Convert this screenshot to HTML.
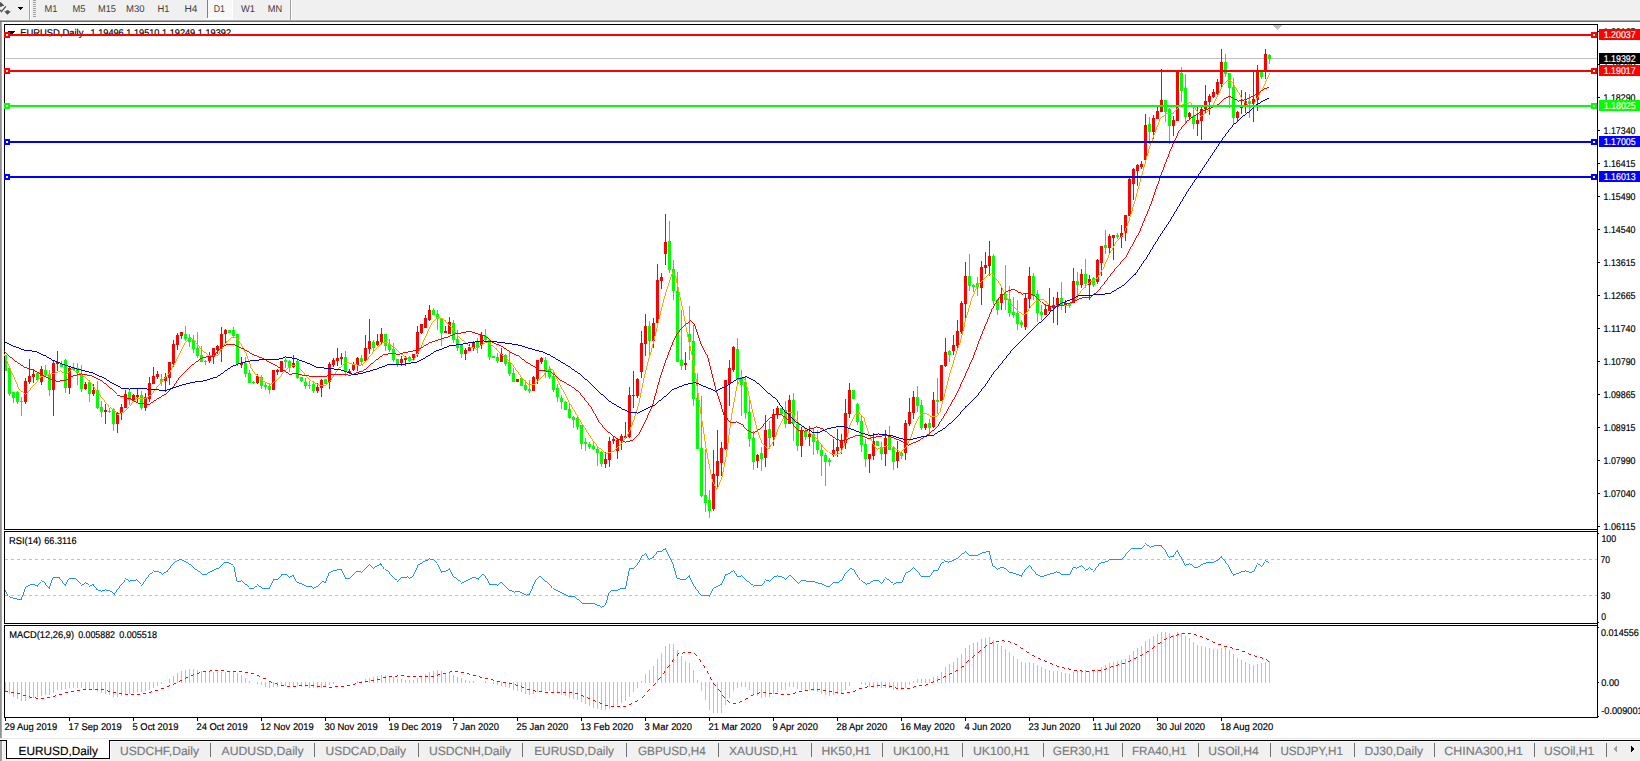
<!DOCTYPE html>
<html><head><meta charset="utf-8"><title>EURUSD,Daily</title>
<style>html,body{margin:0;padding:0;background:#fff;overflow:hidden}svg{display:block}text{font-family:"Liberation Sans",sans-serif}</style></head>
<body>
<svg width="1640" height="761" viewBox="0 0 1640 761" font-family="Liberation Sans, sans-serif" shape-rendering="crispEdges" text-rendering="geometricPrecision">
<rect x="0" y="0" width="1640" height="761" fill="#ffffff" />
<rect x="0" y="0" width="1640" height="19" fill="#f0f0f0" />
<rect x="0" y="19" width="1640" height="1" fill="#f5f5f5" />
<rect x="0" y="20" width="1640" height="1" fill="#a8a8a8" />
<rect x="0" y="21" width="1640" height="1" fill="#707070" />
<path d="M0 2.2 L0.95 2.2 L3.9 5.3 L3.9 5.9 L1.9 5.9 L1.9 6.8 L0 6.8 Z M6.3 10.25 H8.8 V11.2 H10.9 L7.5 14.8 L4.1 11.2 H6.3 Z" fill="#505050" shape-rendering="geometricPrecision"/>
<path d="M0 9.8 L1.4 11.7 L5.8 6.3" fill="none" stroke="#505050" stroke-width="1.25" shape-rendering="geometricPrecision"/>
<rect x="18" y="7" width="5" height="1" fill="#000" />
<rect x="19" y="8" width="3" height="1" fill="#000" />
<rect x="20" y="9" width="1" height="1" fill="#000" />
<rect x="29" y="0" width="1" height="20" fill="#a0a0a0" />
<rect x="30" y="0" width="1" height="20" fill="#ffffff" />
<rect x="33" y="0" width="3" height="1" fill="#a0a0a0" />
<rect x="33" y="2" width="3" height="1" fill="#a0a0a0" />
<rect x="33" y="4" width="3" height="1" fill="#a0a0a0" />
<rect x="33" y="6" width="3" height="1" fill="#a0a0a0" />
<rect x="33" y="8" width="3" height="1" fill="#a0a0a0" />
<rect x="33" y="10" width="3" height="1" fill="#a0a0a0" />
<rect x="33" y="12" width="3" height="1" fill="#a0a0a0" />
<rect x="33" y="14" width="3" height="1" fill="#a0a0a0" />
<rect x="33" y="16" width="3" height="1" fill="#a0a0a0" />
<rect x="207" y="0" width="25" height="18" fill="#f8f8f8" />
<rect x="207" y="0" width="1" height="18" fill="#808080" />
<rect x="207" y="18" width="26" height="1" fill="#ffffff" />
<rect x="232" y="0" width="1" height="19" fill="#ffffff" />
<text x="44.5" y="12" font-size="9.8" fill="#404040" text-anchor="start" font-weight="normal" textLength="13" lengthAdjust="spacingAndGlyphs" stroke="#404040" stroke-width="0" >M1</text>
<text x="72.5" y="12" font-size="9.8" fill="#404040" text-anchor="start" font-weight="normal" textLength="13" lengthAdjust="spacingAndGlyphs" stroke="#404040" stroke-width="0" >M5</text>
<text x="98" y="12" font-size="9.8" fill="#404040" text-anchor="start" font-weight="normal" textLength="18" lengthAdjust="spacingAndGlyphs" stroke="#404040" stroke-width="0" >M15</text>
<text x="126" y="12" font-size="9.8" fill="#404040" text-anchor="start" font-weight="normal" textLength="18.5" lengthAdjust="spacingAndGlyphs" stroke="#404040" stroke-width="0" >M30</text>
<text x="157.5" y="12" font-size="9.8" fill="#404040" text-anchor="start" font-weight="normal" textLength="12" lengthAdjust="spacingAndGlyphs" stroke="#404040" stroke-width="0" >H1</text>
<text x="184.5" y="12" font-size="9.8" fill="#404040" text-anchor="start" font-weight="normal" textLength="13" lengthAdjust="spacingAndGlyphs" stroke="#404040" stroke-width="0" >H4</text>
<text x="213.8" y="12" font-size="9.8" fill="#404040" text-anchor="start" font-weight="normal" textLength="11.2" lengthAdjust="spacingAndGlyphs" stroke="#404040" stroke-width="0" >D1</text>
<text x="241" y="12" font-size="9.8" fill="#404040" text-anchor="start" font-weight="normal" textLength="14" lengthAdjust="spacingAndGlyphs" stroke="#404040" stroke-width="0" >W1</text>
<text x="267.8" y="12" font-size="9.8" fill="#404040" text-anchor="start" font-weight="normal" textLength="14.4" lengthAdjust="spacingAndGlyphs" stroke="#404040" stroke-width="0" >MN</text>
<rect x="290" y="0" width="1" height="20" fill="#a0a0a0" />
<rect x="291" y="0" width="1" height="20" fill="#ffffff" />
<rect x="0" y="22" width="1" height="716" fill="#909090" />
<rect x="1" y="22" width="1" height="716" fill="#a8a8a8" />
<rect x="0" y="738" width="1640" height="1" fill="#e8e8e8" />
<rect x="0" y="739" width="1640" height="1" fill="#ffffff" />
<rect x="0" y="740" width="1640" height="21" fill="#f0f0f0" />
<rect x="4" y="24" width="1594" height="1" fill="#000" />
<rect x="4" y="529" width="1594" height="1" fill="#000" />
<rect x="4" y="24" width="1" height="506" fill="#000" />
<rect x="4" y="531" width="1594" height="1" fill="#000" />
<rect x="4" y="623" width="1594" height="1" fill="#000" />
<rect x="4" y="531" width="1" height="93" fill="#000" />
<rect x="4" y="625" width="1594" height="1" fill="#000" />
<rect x="4" y="717" width="1594" height="1" fill="#000" />
<rect x="4" y="625" width="1" height="93" fill="#000" />
<rect x="1597" y="24" width="1" height="694" fill="#000" />
<rect x="5" y="58" width="1592" height="1" fill="#c0c0c0" />
<rect x="5" y="355" width="1" height="16" fill="#00ff00" />
<rect x="5" y="355" width="2" height="16" fill="#00ff00" />
<rect x="9" y="368" width="1" height="28" fill="#00ff00" />
<rect x="8" y="368" width="3" height="26" fill="#00ff00" />
<rect x="13" y="392" width="1" height="11" fill="#00ff00" />
<rect x="12" y="392" width="3" height="6" fill="#00ff00" />
<rect x="17" y="391" width="1" height="13" fill="#00ff00" />
<rect x="16" y="392" width="3" height="10" fill="#00ff00" />
<rect x="21" y="397" width="1" height="19" fill="#00ff00" />
<rect x="20" y="401" width="3" height="1" fill="#00ff00" />
<rect x="25" y="378" width="1" height="26" fill="#ff0000" />
<rect x="24" y="381" width="3" height="21" fill="#ff0000" />
<rect x="29" y="359" width="1" height="25" fill="#ff0000" />
<rect x="28" y="376" width="3" height="6" fill="#ff0000" />
<rect x="33" y="369" width="1" height="14" fill="#ff0000" />
<rect x="32" y="374" width="3" height="3" fill="#ff0000" />
<rect x="37" y="373" width="1" height="7" fill="#00ff00" />
<rect x="36" y="373" width="3" height="7" fill="#00ff00" />
<rect x="41" y="366" width="1" height="19" fill="#ff0000" />
<rect x="40" y="369" width="3" height="13" fill="#ff0000" />
<rect x="45" y="365" width="1" height="11" fill="#00ff00" />
<rect x="44" y="370" width="3" height="6" fill="#00ff00" />
<rect x="49" y="370" width="1" height="26" fill="#00ff00" />
<rect x="48" y="374" width="3" height="16" fill="#00ff00" />
<rect x="53" y="361" width="1" height="55" fill="#ff0000" />
<rect x="52" y="363" width="3" height="27" fill="#ff0000" />
<rect x="57" y="351" width="1" height="20" fill="#ff0000" />
<rect x="56" y="362" width="3" height="2" fill="#ff0000" />
<rect x="61" y="361" width="1" height="6" fill="#00ff00" />
<rect x="60" y="364" width="3" height="3" fill="#00ff00" />
<rect x="65" y="359" width="1" height="34" fill="#00ff00" />
<rect x="64" y="360" width="3" height="28" fill="#00ff00" />
<rect x="69" y="366" width="1" height="28" fill="#ff0000" />
<rect x="68" y="368" width="3" height="20" fill="#ff0000" />
<rect x="73" y="363" width="1" height="7" fill="#00ff00" />
<rect x="72" y="367" width="3" height="3" fill="#00ff00" />
<rect x="77" y="363" width="1" height="22" fill="#00ff00" />
<rect x="76" y="368" width="3" height="5" fill="#00ff00" />
<rect x="81" y="365" width="1" height="27" fill="#00ff00" />
<rect x="80" y="374" width="3" height="15" fill="#00ff00" />
<rect x="85" y="382" width="1" height="8" fill="#ff0000" />
<rect x="84" y="384" width="3" height="5" fill="#ff0000" />
<rect x="89" y="380" width="1" height="22" fill="#00ff00" />
<rect x="88" y="382" width="3" height="12" fill="#00ff00" />
<rect x="93" y="384" width="1" height="12" fill="#ff0000" />
<rect x="92" y="390" width="3" height="4" fill="#ff0000" />
<rect x="97" y="381" width="1" height="28" fill="#00ff00" />
<rect x="96" y="390" width="3" height="18" fill="#00ff00" />
<rect x="101" y="401" width="1" height="16" fill="#00ff00" />
<rect x="100" y="407" width="3" height="5" fill="#00ff00" />
<rect x="105" y="404" width="1" height="20" fill="#ff0000" />
<rect x="104" y="410" width="3" height="2" fill="#ff0000" />
<rect x="109" y="408" width="1" height="5" fill="#00ff00" />
<rect x="108" y="411" width="3" height="1" fill="#00ff00" />
<rect x="113" y="408" width="1" height="23" fill="#00ff00" />
<rect x="112" y="409" width="3" height="15" fill="#00ff00" />
<rect x="117" y="412" width="1" height="21" fill="#ff0000" />
<rect x="116" y="413" width="3" height="11" fill="#ff0000" />
<rect x="121" y="404" width="1" height="16" fill="#ff0000" />
<rect x="120" y="407" width="3" height="6" fill="#ff0000" />
<rect x="125" y="390" width="1" height="18" fill="#ff0000" />
<rect x="124" y="394" width="3" height="14" fill="#ff0000" />
<rect x="129" y="390" width="1" height="15" fill="#00ff00" />
<rect x="128" y="392" width="3" height="8" fill="#00ff00" />
<rect x="133" y="394" width="1" height="7" fill="#ff0000" />
<rect x="132" y="395" width="3" height="5" fill="#ff0000" />
<rect x="137" y="388" width="1" height="15" fill="#ff0000" />
<rect x="136" y="395" width="3" height="2" fill="#ff0000" />
<rect x="141" y="391" width="1" height="19" fill="#00ff00" />
<rect x="140" y="395" width="3" height="13" fill="#00ff00" />
<rect x="145" y="393" width="1" height="18" fill="#ff0000" />
<rect x="144" y="397" width="3" height="11" fill="#ff0000" />
<rect x="149" y="377" width="1" height="25" fill="#ff0000" />
<rect x="148" y="383" width="3" height="16" fill="#ff0000" />
<rect x="153" y="367" width="1" height="17" fill="#ff0000" />
<rect x="152" y="376" width="3" height="8" fill="#ff0000" />
<rect x="157" y="371" width="1" height="8" fill="#ff0000" />
<rect x="156" y="374" width="3" height="3" fill="#ff0000" />
<rect x="161" y="374" width="1" height="12" fill="#00ff00" />
<rect x="160" y="379" width="3" height="3" fill="#00ff00" />
<rect x="165" y="373" width="1" height="19" fill="#ff0000" />
<rect x="164" y="377" width="3" height="4" fill="#ff0000" />
<rect x="169" y="362" width="1" height="23" fill="#ff0000" />
<rect x="168" y="362" width="3" height="16" fill="#ff0000" />
<rect x="173" y="340" width="1" height="27" fill="#ff0000" />
<rect x="172" y="344" width="3" height="20" fill="#ff0000" />
<rect x="177" y="333" width="1" height="17" fill="#ff0000" />
<rect x="176" y="335" width="3" height="10" fill="#ff0000" />
<rect x="181" y="332" width="1" height="7" fill="#ff0000" />
<rect x="180" y="332" width="3" height="4" fill="#ff0000" />
<rect x="185" y="326" width="1" height="15" fill="#00ff00" />
<rect x="184" y="334" width="3" height="5" fill="#00ff00" />
<rect x="189" y="334" width="1" height="13" fill="#00ff00" />
<rect x="188" y="338" width="3" height="4" fill="#00ff00" />
<rect x="193" y="335" width="1" height="18" fill="#00ff00" />
<rect x="192" y="340" width="3" height="9" fill="#00ff00" />
<rect x="197" y="332" width="1" height="26" fill="#00ff00" />
<rect x="196" y="348" width="3" height="8" fill="#00ff00" />
<rect x="201" y="346" width="1" height="16" fill="#00ff00" />
<rect x="200" y="355" width="3" height="7" fill="#00ff00" />
<rect x="205" y="360" width="1" height="5" fill="#00ff00" />
<rect x="204" y="361" width="3" height="1" fill="#00ff00" />
<rect x="209" y="352" width="1" height="11" fill="#ff0000" />
<rect x="208" y="357" width="3" height="4" fill="#ff0000" />
<rect x="213" y="348" width="1" height="16" fill="#ff0000" />
<rect x="212" y="348" width="3" height="9" fill="#ff0000" />
<rect x="217" y="345" width="1" height="9" fill="#ff0000" />
<rect x="216" y="346" width="3" height="4" fill="#ff0000" />
<rect x="221" y="327" width="1" height="35" fill="#ff0000" />
<rect x="220" y="334" width="3" height="14" fill="#ff0000" />
<rect x="225" y="329" width="1" height="15" fill="#ff0000" />
<rect x="224" y="330" width="3" height="4" fill="#ff0000" />
<rect x="229" y="330" width="1" height="3" fill="#00ff00" />
<rect x="228" y="330" width="3" height="3" fill="#00ff00" />
<rect x="233" y="327" width="1" height="11" fill="#00ff00" />
<rect x="232" y="330" width="3" height="6" fill="#00ff00" />
<rect x="237" y="334" width="1" height="32" fill="#00ff00" />
<rect x="236" y="334" width="3" height="30" fill="#00ff00" />
<rect x="241" y="357" width="1" height="11" fill="#ff0000" />
<rect x="240" y="363" width="3" height="2" fill="#ff0000" />
<rect x="245" y="357" width="1" height="20" fill="#00ff00" />
<rect x="244" y="363" width="3" height="11" fill="#00ff00" />
<rect x="249" y="370" width="1" height="13" fill="#00ff00" />
<rect x="248" y="373" width="3" height="10" fill="#00ff00" />
<rect x="253" y="381" width="1" height="3" fill="#00ff00" />
<rect x="252" y="382" width="3" height="1" fill="#00ff00" />
<rect x="257" y="374" width="1" height="10" fill="#ff0000" />
<rect x="256" y="376" width="3" height="7" fill="#ff0000" />
<rect x="261" y="375" width="1" height="14" fill="#00ff00" />
<rect x="260" y="377" width="3" height="9" fill="#00ff00" />
<rect x="265" y="383" width="1" height="7" fill="#00ff00" />
<rect x="264" y="385" width="3" height="2" fill="#00ff00" />
<rect x="269" y="383" width="1" height="11" fill="#00ff00" />
<rect x="268" y="386" width="3" height="4" fill="#00ff00" />
<rect x="273" y="370" width="1" height="20" fill="#ff0000" />
<rect x="272" y="370" width="3" height="20" fill="#ff0000" />
<rect x="277" y="369" width="1" height="6" fill="#ff0000" />
<rect x="276" y="370" width="3" height="2" fill="#ff0000" />
<rect x="281" y="361" width="1" height="11" fill="#ff0000" />
<rect x="280" y="361" width="3" height="11" fill="#ff0000" />
<rect x="285" y="358" width="1" height="10" fill="#00ff00" />
<rect x="284" y="360" width="3" height="2" fill="#00ff00" />
<rect x="289" y="360" width="1" height="12" fill="#00ff00" />
<rect x="288" y="361" width="3" height="7" fill="#00ff00" />
<rect x="293" y="355" width="1" height="13" fill="#ff0000" />
<rect x="292" y="363" width="3" height="4" fill="#ff0000" />
<rect x="297" y="359" width="1" height="20" fill="#00ff00" />
<rect x="296" y="361" width="3" height="17" fill="#00ff00" />
<rect x="301" y="377" width="1" height="5" fill="#00ff00" />
<rect x="300" y="377" width="3" height="4" fill="#00ff00" />
<rect x="305" y="378" width="1" height="11" fill="#00ff00" />
<rect x="304" y="382" width="3" height="4" fill="#00ff00" />
<rect x="309" y="381" width="1" height="8" fill="#00ff00" />
<rect x="308" y="385" width="3" height="1" fill="#00ff00" />
<rect x="313" y="381" width="1" height="12" fill="#00ff00" />
<rect x="312" y="384" width="3" height="7" fill="#00ff00" />
<rect x="317" y="383" width="1" height="10" fill="#ff0000" />
<rect x="316" y="387" width="3" height="4" fill="#ff0000" />
<rect x="321" y="379" width="1" height="18" fill="#ff0000" />
<rect x="320" y="380" width="3" height="8" fill="#ff0000" />
<rect x="325" y="379" width="1" height="5" fill="#00ff00" />
<rect x="324" y="379" width="3" height="5" fill="#00ff00" />
<rect x="329" y="362" width="1" height="27" fill="#ff0000" />
<rect x="328" y="364" width="3" height="18" fill="#ff0000" />
<rect x="333" y="358" width="1" height="9" fill="#ff0000" />
<rect x="332" y="360" width="3" height="5" fill="#ff0000" />
<rect x="337" y="348" width="1" height="18" fill="#ff0000" />
<rect x="336" y="358" width="3" height="3" fill="#ff0000" />
<rect x="341" y="353" width="1" height="12" fill="#ff0000" />
<rect x="340" y="357" width="3" height="2" fill="#ff0000" />
<rect x="345" y="351" width="1" height="25" fill="#00ff00" />
<rect x="344" y="357" width="3" height="15" fill="#00ff00" />
<rect x="349" y="369" width="1" height="5" fill="#ff0000" />
<rect x="348" y="371" width="3" height="2" fill="#ff0000" />
<rect x="353" y="362" width="1" height="9" fill="#ff0000" />
<rect x="352" y="364" width="3" height="6" fill="#ff0000" />
<rect x="357" y="357" width="1" height="14" fill="#ff0000" />
<rect x="356" y="358" width="3" height="7" fill="#ff0000" />
<rect x="361" y="355" width="1" height="10" fill="#00ff00" />
<rect x="360" y="358" width="3" height="4" fill="#00ff00" />
<rect x="365" y="335" width="1" height="26" fill="#ff0000" />
<rect x="364" y="348" width="3" height="13" fill="#ff0000" />
<rect x="369" y="319" width="1" height="35" fill="#ff0000" />
<rect x="368" y="341" width="3" height="8" fill="#ff0000" />
<rect x="373" y="340" width="1" height="11" fill="#00ff00" />
<rect x="372" y="342" width="3" height="6" fill="#00ff00" />
<rect x="377" y="334" width="1" height="12" fill="#ff0000" />
<rect x="376" y="341" width="3" height="4" fill="#ff0000" />
<rect x="381" y="328" width="1" height="17" fill="#ff0000" />
<rect x="380" y="334" width="3" height="8" fill="#ff0000" />
<rect x="385" y="334" width="1" height="17" fill="#00ff00" />
<rect x="384" y="334" width="3" height="12" fill="#00ff00" />
<rect x="389" y="339" width="1" height="13" fill="#00ff00" />
<rect x="388" y="344" width="3" height="6" fill="#00ff00" />
<rect x="393" y="343" width="1" height="19" fill="#00ff00" />
<rect x="392" y="349" width="3" height="11" fill="#00ff00" />
<rect x="397" y="359" width="1" height="8" fill="#00ff00" />
<rect x="396" y="359" width="3" height="6" fill="#00ff00" />
<rect x="401" y="356" width="1" height="10" fill="#ff0000" />
<rect x="400" y="359" width="3" height="4" fill="#ff0000" />
<rect x="405" y="356" width="1" height="10" fill="#ff0000" />
<rect x="404" y="358" width="3" height="2" fill="#ff0000" />
<rect x="409" y="356" width="1" height="6" fill="#00ff00" />
<rect x="408" y="357" width="3" height="4" fill="#00ff00" />
<rect x="413" y="354" width="1" height="7" fill="#ff0000" />
<rect x="412" y="354" width="3" height="4" fill="#ff0000" />
<rect x="417" y="326" width="1" height="31" fill="#ff0000" />
<rect x="416" y="332" width="3" height="22" fill="#ff0000" />
<rect x="421" y="324" width="1" height="10" fill="#ff0000" />
<rect x="420" y="324" width="3" height="9" fill="#ff0000" />
<rect x="425" y="315" width="1" height="13" fill="#ff0000" />
<rect x="424" y="318" width="3" height="10" fill="#ff0000" />
<rect x="429" y="305" width="1" height="16" fill="#ff0000" />
<rect x="428" y="310" width="3" height="10" fill="#ff0000" />
<rect x="433" y="308" width="1" height="7" fill="#00ff00" />
<rect x="432" y="310" width="3" height="5" fill="#00ff00" />
<rect x="437" y="310" width="1" height="20" fill="#00ff00" />
<rect x="436" y="314" width="3" height="5" fill="#00ff00" />
<rect x="441" y="319" width="1" height="27" fill="#00ff00" />
<rect x="440" y="319" width="3" height="14" fill="#00ff00" />
<rect x="445" y="326" width="1" height="7" fill="#ff0000" />
<rect x="444" y="331" width="3" height="2" fill="#ff0000" />
<rect x="449" y="317" width="1" height="17" fill="#ff0000" />
<rect x="448" y="322" width="3" height="12" fill="#ff0000" />
<rect x="453" y="320" width="1" height="23" fill="#00ff00" />
<rect x="452" y="323" width="3" height="17" fill="#00ff00" />
<rect x="457" y="330" width="1" height="21" fill="#00ff00" />
<rect x="456" y="339" width="3" height="9" fill="#00ff00" />
<rect x="461" y="345" width="1" height="13" fill="#00ff00" />
<rect x="460" y="345" width="3" height="9" fill="#00ff00" />
<rect x="465" y="348" width="1" height="12" fill="#ff0000" />
<rect x="464" y="350" width="3" height="4" fill="#ff0000" />
<rect x="469" y="344" width="1" height="7" fill="#ff0000" />
<rect x="468" y="347" width="3" height="4" fill="#ff0000" />
<rect x="473" y="341" width="1" height="10" fill="#ff0000" />
<rect x="472" y="342" width="3" height="6" fill="#ff0000" />
<rect x="477" y="338" width="1" height="15" fill="#00ff00" />
<rect x="476" y="342" width="3" height="6" fill="#00ff00" />
<rect x="481" y="332" width="1" height="17" fill="#ff0000" />
<rect x="480" y="335" width="3" height="10" fill="#ff0000" />
<rect x="485" y="329" width="1" height="13" fill="#00ff00" />
<rect x="484" y="336" width="3" height="4" fill="#00ff00" />
<rect x="489" y="339" width="1" height="21" fill="#00ff00" />
<rect x="488" y="340" width="3" height="17" fill="#00ff00" />
<rect x="493" y="356" width="1" height="2" fill="#00ff00" />
<rect x="492" y="356" width="3" height="2" fill="#00ff00" />
<rect x="497" y="353" width="1" height="10" fill="#00ff00" />
<rect x="496" y="357" width="3" height="4" fill="#00ff00" />
<rect x="501" y="348" width="1" height="14" fill="#ff0000" />
<rect x="500" y="354" width="3" height="8" fill="#ff0000" />
<rect x="505" y="354" width="1" height="12" fill="#00ff00" />
<rect x="504" y="355" width="3" height="9" fill="#00ff00" />
<rect x="509" y="352" width="1" height="24" fill="#00ff00" />
<rect x="508" y="362" width="3" height="12" fill="#00ff00" />
<rect x="513" y="368" width="1" height="14" fill="#00ff00" />
<rect x="512" y="373" width="3" height="9" fill="#00ff00" />
<rect x="517" y="379" width="1" height="3" fill="#ff0000" />
<rect x="516" y="379" width="3" height="3" fill="#ff0000" />
<rect x="521" y="377" width="1" height="9" fill="#00ff00" />
<rect x="520" y="378" width="3" height="8" fill="#00ff00" />
<rect x="525" y="380" width="1" height="11" fill="#00ff00" />
<rect x="524" y="385" width="3" height="5" fill="#00ff00" />
<rect x="529" y="380" width="1" height="13" fill="#00ff00" />
<rect x="528" y="389" width="3" height="2" fill="#00ff00" />
<rect x="533" y="376" width="1" height="15" fill="#ff0000" />
<rect x="532" y="377" width="3" height="14" fill="#ff0000" />
<rect x="537" y="360" width="1" height="24" fill="#ff0000" />
<rect x="536" y="360" width="3" height="19" fill="#ff0000" />
<rect x="541" y="357" width="1" height="7" fill="#ff0000" />
<rect x="540" y="358" width="3" height="4" fill="#ff0000" />
<rect x="545" y="357" width="1" height="21" fill="#00ff00" />
<rect x="544" y="360" width="3" height="12" fill="#00ff00" />
<rect x="549" y="366" width="1" height="13" fill="#00ff00" />
<rect x="548" y="369" width="3" height="8" fill="#00ff00" />
<rect x="553" y="371" width="1" height="21" fill="#00ff00" />
<rect x="552" y="376" width="3" height="14" fill="#00ff00" />
<rect x="557" y="384" width="1" height="18" fill="#00ff00" />
<rect x="556" y="388" width="3" height="9" fill="#00ff00" />
<rect x="561" y="395" width="1" height="14" fill="#00ff00" />
<rect x="560" y="398" width="3" height="4" fill="#00ff00" />
<rect x="565" y="401" width="1" height="9" fill="#00ff00" />
<rect x="564" y="402" width="3" height="8" fill="#00ff00" />
<rect x="569" y="404" width="1" height="15" fill="#00ff00" />
<rect x="568" y="409" width="3" height="9" fill="#00ff00" />
<rect x="573" y="416" width="1" height="12" fill="#00ff00" />
<rect x="572" y="417" width="3" height="3" fill="#00ff00" />
<rect x="577" y="415" width="1" height="15" fill="#00ff00" />
<rect x="576" y="418" width="3" height="9" fill="#00ff00" />
<rect x="581" y="425" width="1" height="24" fill="#00ff00" />
<rect x="580" y="425" width="3" height="19" fill="#00ff00" />
<rect x="585" y="438" width="1" height="13" fill="#00ff00" />
<rect x="584" y="442" width="3" height="2" fill="#00ff00" />
<rect x="589" y="442" width="1" height="7" fill="#00ff00" />
<rect x="588" y="444" width="3" height="3" fill="#00ff00" />
<rect x="593" y="442" width="1" height="8" fill="#00ff00" />
<rect x="592" y="446" width="3" height="3" fill="#00ff00" />
<rect x="597" y="447" width="1" height="19" fill="#00ff00" />
<rect x="596" y="449" width="3" height="4" fill="#00ff00" />
<rect x="601" y="451" width="1" height="16" fill="#00ff00" />
<rect x="600" y="452" width="3" height="12" fill="#00ff00" />
<rect x="605" y="452" width="1" height="16" fill="#ff0000" />
<rect x="604" y="459" width="3" height="5" fill="#ff0000" />
<rect x="609" y="437" width="1" height="30" fill="#ff0000" />
<rect x="608" y="441" width="3" height="19" fill="#ff0000" />
<rect x="613" y="436" width="1" height="8" fill="#ff0000" />
<rect x="612" y="439" width="3" height="2" fill="#ff0000" />
<rect x="617" y="438" width="1" height="21" fill="#ff0000" />
<rect x="616" y="440" width="3" height="11" fill="#ff0000" />
<rect x="621" y="434" width="1" height="16" fill="#ff0000" />
<rect x="620" y="436" width="3" height="5" fill="#ff0000" />
<rect x="625" y="422" width="1" height="16" fill="#ff0000" />
<rect x="624" y="436" width="3" height="2" fill="#ff0000" />
<rect x="629" y="387" width="1" height="51" fill="#ff0000" />
<rect x="628" y="395" width="3" height="42" fill="#ff0000" />
<rect x="633" y="371" width="1" height="37" fill="#ff0000" />
<rect x="632" y="395" width="3" height="1" fill="#ff0000" />
<rect x="637" y="378" width="1" height="20" fill="#ff0000" />
<rect x="636" y="379" width="3" height="17" fill="#ff0000" />
<rect x="641" y="331" width="1" height="47" fill="#ff0000" />
<rect x="640" y="343" width="3" height="29" fill="#ff0000" />
<rect x="645" y="314" width="1" height="42" fill="#ff0000" />
<rect x="644" y="326" width="3" height="18" fill="#ff0000" />
<rect x="649" y="321" width="1" height="35" fill="#00ff00" />
<rect x="648" y="326" width="3" height="15" fill="#00ff00" />
<rect x="653" y="318" width="1" height="30" fill="#ff0000" />
<rect x="652" y="323" width="3" height="18" fill="#ff0000" />
<rect x="657" y="264" width="1" height="63" fill="#ff0000" />
<rect x="656" y="280" width="3" height="43" fill="#ff0000" />
<rect x="661" y="273" width="1" height="16" fill="#ff0000" />
<rect x="660" y="277" width="3" height="4" fill="#ff0000" />
<rect x="665" y="214" width="1" height="51" fill="#ff0000" />
<rect x="664" y="242" width="3" height="12" fill="#ff0000" />
<rect x="669" y="221" width="1" height="52" fill="#00ff00" />
<rect x="668" y="241" width="3" height="29" fill="#00ff00" />
<rect x="673" y="260" width="1" height="40" fill="#00ff00" />
<rect x="672" y="269" width="3" height="22" fill="#00ff00" />
<rect x="677" y="272" width="1" height="90" fill="#00ff00" />
<rect x="676" y="291" width="3" height="71" fill="#00ff00" />
<rect x="681" y="310" width="1" height="60" fill="#00ff00" />
<rect x="680" y="360" width="3" height="6" fill="#00ff00" />
<rect x="685" y="352" width="1" height="18" fill="#ff0000" />
<rect x="684" y="363" width="3" height="2" fill="#ff0000" />
<rect x="689" y="306" width="1" height="54" fill="#00ff00" />
<rect x="688" y="334" width="3" height="8" fill="#00ff00" />
<rect x="693" y="325" width="1" height="81" fill="#00ff00" />
<rect x="692" y="341" width="3" height="58" fill="#00ff00" />
<rect x="697" y="373" width="1" height="76" fill="#00ff00" />
<rect x="696" y="398" width="3" height="51" fill="#00ff00" />
<rect x="701" y="396" width="1" height="101" fill="#00ff00" />
<rect x="700" y="448" width="3" height="48" fill="#00ff00" />
<rect x="705" y="449" width="1" height="63" fill="#00ff00" />
<rect x="704" y="495" width="3" height="8" fill="#00ff00" />
<rect x="709" y="490" width="1" height="28" fill="#00ff00" />
<rect x="708" y="500" width="3" height="11" fill="#00ff00" />
<rect x="713" y="450" width="1" height="61" fill="#ff0000" />
<rect x="712" y="474" width="3" height="35" fill="#ff0000" />
<rect x="717" y="430" width="1" height="59" fill="#ff0000" />
<rect x="716" y="461" width="3" height="15" fill="#ff0000" />
<rect x="721" y="442" width="1" height="34" fill="#ff0000" />
<rect x="720" y="448" width="3" height="15" fill="#ff0000" />
<rect x="725" y="380" width="1" height="70" fill="#ff0000" />
<rect x="724" y="380" width="3" height="69" fill="#ff0000" />
<rect x="729" y="360" width="1" height="46" fill="#ff0000" />
<rect x="728" y="368" width="3" height="16" fill="#ff0000" />
<rect x="733" y="346" width="1" height="26" fill="#ff0000" />
<rect x="732" y="347" width="3" height="23" fill="#ff0000" />
<rect x="737" y="338" width="1" height="46" fill="#00ff00" />
<rect x="736" y="349" width="3" height="31" fill="#00ff00" />
<rect x="741" y="370" width="1" height="46" fill="#00ff00" />
<rect x="740" y="377" width="3" height="8" fill="#00ff00" />
<rect x="745" y="376" width="1" height="43" fill="#00ff00" />
<rect x="744" y="382" width="3" height="31" fill="#00ff00" />
<rect x="749" y="399" width="1" height="48" fill="#00ff00" />
<rect x="748" y="412" width="3" height="27" fill="#00ff00" />
<rect x="753" y="431" width="1" height="39" fill="#00ff00" />
<rect x="752" y="438" width="3" height="24" fill="#00ff00" />
<rect x="757" y="454" width="1" height="14" fill="#ff0000" />
<rect x="756" y="455" width="3" height="6" fill="#ff0000" />
<rect x="761" y="447" width="1" height="24" fill="#00ff00" />
<rect x="760" y="453" width="3" height="6" fill="#00ff00" />
<rect x="765" y="415" width="1" height="52" fill="#ff0000" />
<rect x="764" y="430" width="3" height="28" fill="#ff0000" />
<rect x="769" y="421" width="1" height="28" fill="#00ff00" />
<rect x="768" y="429" width="3" height="9" fill="#00ff00" />
<rect x="773" y="409" width="1" height="37" fill="#ff0000" />
<rect x="772" y="414" width="3" height="23" fill="#ff0000" />
<rect x="777" y="406" width="1" height="13" fill="#ff0000" />
<rect x="776" y="408" width="3" height="7" fill="#ff0000" />
<rect x="781" y="408" width="1" height="6" fill="#00ff00" />
<rect x="780" y="408" width="3" height="6" fill="#00ff00" />
<rect x="785" y="401" width="1" height="27" fill="#00ff00" />
<rect x="784" y="410" width="3" height="14" fill="#00ff00" />
<rect x="789" y="395" width="1" height="29" fill="#ff0000" />
<rect x="788" y="400" width="3" height="24" fill="#ff0000" />
<rect x="793" y="393" width="1" height="48" fill="#00ff00" />
<rect x="792" y="400" width="3" height="23" fill="#00ff00" />
<rect x="797" y="411" width="1" height="40" fill="#00ff00" />
<rect x="796" y="424" width="3" height="22" fill="#00ff00" />
<rect x="801" y="427" width="1" height="30" fill="#ff0000" />
<rect x="800" y="430" width="3" height="16" fill="#ff0000" />
<rect x="805" y="429" width="1" height="11" fill="#00ff00" />
<rect x="804" y="431" width="3" height="6" fill="#00ff00" />
<rect x="809" y="426" width="1" height="20" fill="#ff0000" />
<rect x="808" y="434" width="3" height="3" fill="#ff0000" />
<rect x="813" y="429" width="1" height="26" fill="#00ff00" />
<rect x="812" y="434" width="3" height="8" fill="#00ff00" />
<rect x="817" y="430" width="1" height="24" fill="#00ff00" />
<rect x="816" y="441" width="3" height="9" fill="#00ff00" />
<rect x="821" y="444" width="1" height="32" fill="#00ff00" />
<rect x="820" y="450" width="3" height="6" fill="#00ff00" />
<rect x="825" y="453" width="1" height="33" fill="#00ff00" />
<rect x="824" y="455" width="3" height="7" fill="#00ff00" />
<rect x="829" y="458" width="1" height="8" fill="#00ff00" />
<rect x="828" y="460" width="3" height="2" fill="#00ff00" />
<rect x="833" y="439" width="1" height="18" fill="#ff0000" />
<rect x="832" y="450" width="3" height="5" fill="#ff0000" />
<rect x="837" y="429" width="1" height="28" fill="#ff0000" />
<rect x="836" y="447" width="3" height="4" fill="#ff0000" />
<rect x="841" y="434" width="1" height="20" fill="#ff0000" />
<rect x="840" y="440" width="3" height="8" fill="#ff0000" />
<rect x="845" y="399" width="1" height="50" fill="#ff0000" />
<rect x="844" y="413" width="3" height="30" fill="#ff0000" />
<rect x="849" y="383" width="1" height="35" fill="#ff0000" />
<rect x="848" y="390" width="3" height="24" fill="#ff0000" />
<rect x="853" y="390" width="1" height="9" fill="#00ff00" />
<rect x="852" y="390" width="3" height="9" fill="#00ff00" />
<rect x="857" y="403" width="1" height="22" fill="#00ff00" />
<rect x="856" y="404" width="3" height="18" fill="#00ff00" />
<rect x="861" y="415" width="1" height="37" fill="#00ff00" />
<rect x="860" y="421" width="3" height="24" fill="#00ff00" />
<rect x="865" y="439" width="1" height="28" fill="#00ff00" />
<rect x="864" y="444" width="3" height="15" fill="#00ff00" />
<rect x="869" y="454" width="1" height="19" fill="#ff0000" />
<rect x="868" y="454" width="3" height="5" fill="#ff0000" />
<rect x="873" y="433" width="1" height="27" fill="#ff0000" />
<rect x="872" y="441" width="3" height="15" fill="#ff0000" />
<rect x="877" y="441" width="1" height="5" fill="#00ff00" />
<rect x="876" y="441" width="3" height="5" fill="#00ff00" />
<rect x="881" y="442" width="1" height="18" fill="#00ff00" />
<rect x="880" y="447" width="3" height="7" fill="#00ff00" />
<rect x="885" y="430" width="1" height="36" fill="#ff0000" />
<rect x="884" y="438" width="3" height="16" fill="#ff0000" />
<rect x="889" y="426" width="1" height="24" fill="#00ff00" />
<rect x="888" y="435" width="3" height="15" fill="#00ff00" />
<rect x="893" y="446" width="1" height="24" fill="#00ff00" />
<rect x="892" y="447" width="3" height="15" fill="#00ff00" />
<rect x="897" y="441" width="1" height="27" fill="#ff0000" />
<rect x="896" y="452" width="3" height="9" fill="#ff0000" />
<rect x="901" y="451" width="1" height="8" fill="#00ff00" />
<rect x="900" y="453" width="3" height="3" fill="#00ff00" />
<rect x="905" y="420" width="1" height="40" fill="#ff0000" />
<rect x="904" y="423" width="3" height="30" fill="#ff0000" />
<rect x="909" y="398" width="1" height="28" fill="#ff0000" />
<rect x="908" y="412" width="3" height="12" fill="#ff0000" />
<rect x="913" y="391" width="1" height="28" fill="#ff0000" />
<rect x="912" y="397" width="3" height="16" fill="#ff0000" />
<rect x="917" y="386" width="1" height="26" fill="#00ff00" />
<rect x="916" y="397" width="3" height="9" fill="#00ff00" />
<rect x="921" y="400" width="1" height="30" fill="#00ff00" />
<rect x="920" y="405" width="3" height="23" fill="#00ff00" />
<rect x="925" y="423" width="1" height="7" fill="#ff0000" />
<rect x="924" y="424" width="3" height="4" fill="#ff0000" />
<rect x="929" y="419" width="1" height="17" fill="#00ff00" />
<rect x="928" y="423" width="3" height="5" fill="#00ff00" />
<rect x="933" y="392" width="1" height="36" fill="#ff0000" />
<rect x="932" y="400" width="3" height="27" fill="#ff0000" />
<rect x="937" y="378" width="1" height="36" fill="#00ff00" />
<rect x="936" y="400" width="3" height="2" fill="#00ff00" />
<rect x="941" y="365" width="1" height="36" fill="#ff0000" />
<rect x="940" y="365" width="3" height="36" fill="#ff0000" />
<rect x="945" y="338" width="1" height="29" fill="#ff0000" />
<rect x="944" y="352" width="3" height="14" fill="#ff0000" />
<rect x="949" y="350" width="1" height="12" fill="#00ff00" />
<rect x="948" y="351" width="3" height="4" fill="#00ff00" />
<rect x="953" y="335" width="1" height="20" fill="#ff0000" />
<rect x="952" y="345" width="3" height="6" fill="#ff0000" />
<rect x="957" y="320" width="1" height="28" fill="#ff0000" />
<rect x="956" y="331" width="3" height="15" fill="#ff0000" />
<rect x="961" y="301" width="1" height="33" fill="#ff0000" />
<rect x="960" y="303" width="3" height="29" fill="#ff0000" />
<rect x="965" y="262" width="1" height="58" fill="#ff0000" />
<rect x="964" y="276" width="3" height="28" fill="#ff0000" />
<rect x="969" y="254" width="1" height="37" fill="#00ff00" />
<rect x="968" y="276" width="3" height="10" fill="#00ff00" />
<rect x="973" y="284" width="1" height="8" fill="#00ff00" />
<rect x="972" y="285" width="3" height="2" fill="#00ff00" />
<rect x="977" y="277" width="1" height="19" fill="#00ff00" />
<rect x="976" y="283" width="3" height="4" fill="#00ff00" />
<rect x="981" y="261" width="1" height="44" fill="#ff0000" />
<rect x="980" y="267" width="3" height="21" fill="#ff0000" />
<rect x="985" y="252" width="1" height="22" fill="#ff0000" />
<rect x="984" y="265" width="3" height="3" fill="#ff0000" />
<rect x="989" y="241" width="1" height="35" fill="#ff0000" />
<rect x="988" y="256" width="3" height="10" fill="#ff0000" />
<rect x="993" y="254" width="1" height="51" fill="#00ff00" />
<rect x="992" y="256" width="3" height="45" fill="#00ff00" />
<rect x="997" y="299" width="1" height="16" fill="#00ff00" />
<rect x="996" y="300" width="3" height="10" fill="#00ff00" />
<rect x="1001" y="286" width="1" height="24" fill="#ff0000" />
<rect x="1000" y="294" width="3" height="9" fill="#ff0000" />
<rect x="1005" y="265" width="1" height="45" fill="#00ff00" />
<rect x="1004" y="294" width="3" height="6" fill="#00ff00" />
<rect x="1009" y="286" width="1" height="31" fill="#00ff00" />
<rect x="1008" y="299" width="3" height="14" fill="#00ff00" />
<rect x="1013" y="297" width="1" height="21" fill="#00ff00" />
<rect x="1012" y="312" width="3" height="3" fill="#00ff00" />
<rect x="1017" y="300" width="1" height="30" fill="#00ff00" />
<rect x="1016" y="313" width="3" height="11" fill="#00ff00" />
<rect x="1021" y="320" width="1" height="8" fill="#00ff00" />
<rect x="1020" y="322" width="3" height="3" fill="#00ff00" />
<rect x="1025" y="294" width="1" height="36" fill="#ff0000" />
<rect x="1024" y="298" width="3" height="29" fill="#ff0000" />
<rect x="1029" y="267" width="1" height="41" fill="#ff0000" />
<rect x="1028" y="276" width="3" height="23" fill="#ff0000" />
<rect x="1033" y="273" width="1" height="27" fill="#00ff00" />
<rect x="1032" y="276" width="3" height="20" fill="#00ff00" />
<rect x="1037" y="290" width="1" height="32" fill="#00ff00" />
<rect x="1036" y="294" width="3" height="19" fill="#00ff00" />
<rect x="1041" y="305" width="1" height="15" fill="#00ff00" />
<rect x="1040" y="312" width="3" height="3" fill="#00ff00" />
<rect x="1045" y="305" width="1" height="10" fill="#ff0000" />
<rect x="1044" y="309" width="3" height="6" fill="#ff0000" />
<rect x="1049" y="288" width="1" height="23" fill="#ff0000" />
<rect x="1048" y="306" width="3" height="5" fill="#ff0000" />
<rect x="1053" y="297" width="1" height="26" fill="#ff0000" />
<rect x="1052" y="305" width="3" height="3" fill="#ff0000" />
<rect x="1057" y="292" width="1" height="33" fill="#ff0000" />
<rect x="1056" y="298" width="3" height="9" fill="#ff0000" />
<rect x="1061" y="282" width="1" height="28" fill="#00ff00" />
<rect x="1060" y="298" width="3" height="8" fill="#00ff00" />
<rect x="1065" y="300" width="1" height="13" fill="#ff0000" />
<rect x="1064" y="303" width="3" height="3" fill="#ff0000" />
<rect x="1069" y="303" width="1" height="5" fill="#00ff00" />
<rect x="1068" y="303" width="3" height="3" fill="#00ff00" />
<rect x="1073" y="268" width="1" height="35" fill="#ff0000" />
<rect x="1072" y="281" width="3" height="22" fill="#ff0000" />
<rect x="1077" y="272" width="1" height="26" fill="#00ff00" />
<rect x="1076" y="281" width="3" height="4" fill="#00ff00" />
<rect x="1081" y="269" width="1" height="19" fill="#ff0000" />
<rect x="1080" y="274" width="3" height="11" fill="#ff0000" />
<rect x="1085" y="259" width="1" height="29" fill="#00ff00" />
<rect x="1084" y="274" width="3" height="10" fill="#00ff00" />
<rect x="1089" y="275" width="1" height="25" fill="#ff0000" />
<rect x="1088" y="279" width="3" height="6" fill="#ff0000" />
<rect x="1093" y="277" width="1" height="10" fill="#00ff00" />
<rect x="1092" y="278" width="3" height="7" fill="#00ff00" />
<rect x="1097" y="259" width="1" height="25" fill="#ff0000" />
<rect x="1096" y="260" width="3" height="22" fill="#ff0000" />
<rect x="1101" y="246" width="1" height="30" fill="#ff0000" />
<rect x="1100" y="246" width="3" height="17" fill="#ff0000" />
<rect x="1105" y="230" width="1" height="24" fill="#00ff00" />
<rect x="1104" y="245" width="3" height="3" fill="#00ff00" />
<rect x="1109" y="234" width="1" height="20" fill="#ff0000" />
<rect x="1108" y="236" width="3" height="12" fill="#ff0000" />
<rect x="1113" y="235" width="1" height="25" fill="#ff0000" />
<rect x="1112" y="235" width="3" height="3" fill="#ff0000" />
<rect x="1117" y="233" width="1" height="6" fill="#00ff00" />
<rect x="1116" y="235" width="3" height="2" fill="#00ff00" />
<rect x="1121" y="225" width="1" height="23" fill="#ff0000" />
<rect x="1120" y="233" width="3" height="4" fill="#ff0000" />
<rect x="1125" y="215" width="1" height="26" fill="#ff0000" />
<rect x="1124" y="215" width="3" height="18" fill="#ff0000" />
<rect x="1129" y="177" width="1" height="39" fill="#ff0000" />
<rect x="1128" y="179" width="3" height="37" fill="#ff0000" />
<rect x="1133" y="168" width="1" height="32" fill="#ff0000" />
<rect x="1132" y="169" width="3" height="15" fill="#ff0000" />
<rect x="1137" y="164" width="1" height="22" fill="#ff0000" />
<rect x="1136" y="165" width="3" height="6" fill="#ff0000" />
<rect x="1141" y="161" width="1" height="8" fill="#ff0000" />
<rect x="1140" y="164" width="3" height="3" fill="#ff0000" />
<rect x="1145" y="114" width="1" height="46" fill="#ff0000" />
<rect x="1144" y="125" width="3" height="35" fill="#ff0000" />
<rect x="1149" y="117" width="1" height="27" fill="#00ff00" />
<rect x="1148" y="124" width="3" height="8" fill="#00ff00" />
<rect x="1153" y="115" width="1" height="24" fill="#ff0000" />
<rect x="1152" y="118" width="3" height="14" fill="#ff0000" />
<rect x="1157" y="107" width="1" height="12" fill="#ff0000" />
<rect x="1156" y="111" width="3" height="8" fill="#ff0000" />
<rect x="1161" y="69" width="1" height="43" fill="#ff0000" />
<rect x="1160" y="100" width="3" height="12" fill="#ff0000" />
<rect x="1165" y="100" width="1" height="22" fill="#00ff00" />
<rect x="1164" y="100" width="3" height="12" fill="#00ff00" />
<rect x="1169" y="108" width="1" height="36" fill="#00ff00" />
<rect x="1168" y="109" width="3" height="17" fill="#00ff00" />
<rect x="1173" y="116" width="1" height="20" fill="#ff0000" />
<rect x="1172" y="120" width="3" height="6" fill="#ff0000" />
<rect x="1177" y="72" width="1" height="49" fill="#ff0000" />
<rect x="1176" y="72" width="3" height="49" fill="#ff0000" />
<rect x="1181" y="67" width="1" height="35" fill="#00ff00" />
<rect x="1180" y="73" width="3" height="18" fill="#00ff00" />
<rect x="1185" y="74" width="1" height="49" fill="#00ff00" />
<rect x="1184" y="88" width="3" height="29" fill="#00ff00" />
<rect x="1189" y="112" width="1" height="7" fill="#ff0000" />
<rect x="1188" y="113" width="3" height="4" fill="#ff0000" />
<rect x="1193" y="106" width="1" height="23" fill="#00ff00" />
<rect x="1192" y="116" width="3" height="8" fill="#00ff00" />
<rect x="1197" y="107" width="1" height="29" fill="#ff0000" />
<rect x="1196" y="120" width="3" height="4" fill="#ff0000" />
<rect x="1201" y="106" width="1" height="34" fill="#ff0000" />
<rect x="1200" y="109" width="3" height="12" fill="#ff0000" />
<rect x="1205" y="85" width="1" height="29" fill="#ff0000" />
<rect x="1204" y="101" width="3" height="8" fill="#ff0000" />
<rect x="1209" y="94" width="1" height="21" fill="#ff0000" />
<rect x="1208" y="96" width="3" height="6" fill="#ff0000" />
<rect x="1213" y="89" width="1" height="9" fill="#ff0000" />
<rect x="1212" y="92" width="3" height="5" fill="#ff0000" />
<rect x="1217" y="79" width="1" height="17" fill="#ff0000" />
<rect x="1216" y="82" width="3" height="12" fill="#ff0000" />
<rect x="1221" y="49" width="1" height="39" fill="#ff0000" />
<rect x="1220" y="62" width="3" height="22" fill="#ff0000" />
<rect x="1225" y="54" width="1" height="23" fill="#00ff00" />
<rect x="1224" y="62" width="3" height="12" fill="#00ff00" />
<rect x="1229" y="73" width="1" height="35" fill="#00ff00" />
<rect x="1228" y="73" width="3" height="15" fill="#00ff00" />
<rect x="1233" y="78" width="1" height="47" fill="#00ff00" />
<rect x="1232" y="87" width="3" height="31" fill="#00ff00" />
<rect x="1237" y="111" width="1" height="10" fill="#ff0000" />
<rect x="1236" y="112" width="3" height="6" fill="#ff0000" />
<rect x="1241" y="90" width="1" height="24" fill="#ff0000" />
<rect x="1240" y="107" width="3" height="1" fill="#ff0000" />
<rect x="1245" y="92" width="1" height="21" fill="#ff0000" />
<rect x="1244" y="101" width="3" height="4" fill="#ff0000" />
<rect x="1249" y="94" width="1" height="24" fill="#00ff00" />
<rect x="1248" y="101" width="3" height="3" fill="#00ff00" />
<rect x="1253" y="71" width="1" height="51" fill="#ff0000" />
<rect x="1252" y="99" width="3" height="5" fill="#ff0000" />
<rect x="1257" y="65" width="1" height="46" fill="#ff0000" />
<rect x="1256" y="71" width="3" height="29" fill="#ff0000" />
<rect x="1261" y="72" width="1" height="7" fill="#00ff00" />
<rect x="1260" y="72" width="3" height="5" fill="#00ff00" />
<rect x="1265" y="49" width="1" height="30" fill="#ff0000" />
<rect x="1264" y="54" width="3" height="17" fill="#ff0000" />
<rect x="1269" y="54" width="1" height="10" fill="#00ff00" />
<rect x="1268" y="55" width="3" height="4" fill="#00ff00" />
<path d="M1269 73h1v1h-1zM1269 74h1v1h-1zM1268 75h1v1h-1zM1268 76h1v1h-1zM1267 77h1v1h-1zM1267 78h1v1h-1zM1266 79h1v1h-1zM1227 80h4v1h-4zM1266 80h1v1h-1zM1226 81h1v1h-1zM1231 81h1v1h-1zM1265 81h1v1h-1zM1225 82h1v1h-1zM1232 82h1v1h-1zM1265 82h1v1h-1zM1224 83h1v1h-1zM1265 83h1v1h-1zM1223 84h1v1h-1zM1233 84h1v1h-1zM1264 84h1v1h-1zM1222 85h1v1h-1zM1234 85h1v1h-1zM1264 85h1v1h-1zM1222 86h1v1h-1zM1234 86h1v1h-1zM1263 86h1v1h-1zM1221 87h1v1h-1zM1235 87h1v1h-1zM1263 87h1v1h-1zM1221 88h1v1h-1zM1236 88h1v1h-1zM1262 88h1v1h-1zM1220 89h1v1h-1zM1236 89h1v1h-1zM1262 89h1v1h-1zM1220 90h1v1h-1zM1237 90h1v1h-1zM1261 90h1v1h-1zM1219 91h1v1h-1zM1237 91h1v1h-1zM1260 91h1v1h-1zM1219 92h1v1h-1zM1238 92h1v1h-1zM1260 92h1v1h-1zM1218 93h1v1h-1zM1239 93h1v1h-1zM1259 93h1v1h-1zM1218 94h1v1h-1zM1239 94h1v1h-1zM1259 94h1v1h-1zM1217 95h1v1h-1zM1240 95h1v1h-1zM1258 95h1v1h-1zM1217 96h1v1h-1zM1240 96h1v1h-1zM1258 96h1v1h-1zM1216 97h1v1h-1zM1241 97h1v1h-1zM1257 97h1v1h-1zM1216 98h1v1h-1zM1241 98h1v1h-1zM1256 98h1v1h-1zM1215 99h1v1h-1zM1242 99h1v1h-1zM1256 99h1v1h-1zM1215 100h1v1h-1zM1243 100h1v1h-1zM1255 100h1v1h-1zM1214 101h1v1h-1zM1244 101h1v1h-1zM1255 101h1v1h-1zM1189 102h2v1h-2zM1214 102h1v1h-1zM1244 102h1v1h-1zM1254 102h1v1h-1zM1184 103h5v1h-5zM1191 103h1v1h-1zM1213 103h1v1h-1zM1246 103h1v1h-1zM1254 103h1v1h-1zM1182 104h2v1h-2zM1191 104h1v1h-1zM1213 104h1v1h-1zM1247 104h1v1h-1zM1180 105h2v1h-2zM1192 105h1v1h-1zM1213 105h1v1h-1zM1248 105h1v1h-1zM1252 105h1v1h-1zM1179 106h1v1h-1zM1193 106h1v1h-1zM1212 106h1v1h-1zM1249 106h1v1h-1zM1251 106h1v1h-1zM1178 107h1v1h-1zM1194 107h1v1h-1zM1211 107h1v1h-1zM1250 107h1v1h-1zM1177 108h1v1h-1zM1195 108h1v1h-1zM1210 108h1v1h-1zM1176 109h1v1h-1zM1195 109h1v1h-1zM1209 109h1v1h-1zM1175 110h1v1h-1zM1196 110h1v1h-1zM1208 110h1v1h-1zM1174 111h1v1h-1zM1197 111h1v1h-1zM1207 111h1v1h-1zM1173 112h1v1h-1zM1197 112h1v1h-1zM1206 112h1v1h-1zM1166 113h8v1h-8zM1198 113h1v1h-1zM1204 113h2v1h-2zM1165 114h1v1h-1zM1199 114h1v1h-1zM1203 114h1v1h-1zM1164 115h1v1h-1zM1201 115h2v1h-2zM1162 116h2v1h-2zM1200 116h1v1h-1zM1161 117h1v1h-1zM1160 118h1v1h-1zM1159 119h1v1h-1zM1159 120h1v1h-1zM1159 121h1v1h-1zM1158 122h1v1h-1zM1158 123h1v1h-1zM1158 124h1v1h-1zM1157 125h1v1h-1zM1157 126h1v1h-1zM1156 127h1v1h-1zM1156 128h1v1h-1zM1156 129h1v1h-1zM1155 130h1v1h-1zM1155 131h1v1h-1zM1155 132h1v1h-1zM1154 133h1v1h-1zM1154 134h1v1h-1zM1153 135h1v1h-1zM1153 136h1v1h-1zM1153 137h1v1h-1zM1152 138h1v1h-1zM1152 139h1v1h-1zM1152 140h1v1h-1zM1151 141h1v1h-1zM1151 142h1v1h-1zM1150 143h1v1h-1zM1150 144h1v1h-1zM1150 145h1v1h-1zM1149 146h1v1h-1zM1149 147h1v1h-1zM1149 148h1v1h-1zM1148 149h1v1h-1zM1148 150h1v1h-1zM1148 151h1v1h-1zM1148 152h1v1h-1zM1147 153h1v1h-1zM1147 154h1v1h-1zM1147 155h1v1h-1zM1146 156h1v1h-1zM1146 157h1v1h-1zM1146 158h1v1h-1zM1146 159h1v1h-1zM1145 160h1v1h-1zM1145 161h1v1h-1zM1145 162h1v1h-1zM1145 163h1v1h-1zM1144 164h1v1h-1zM1144 165h1v1h-1zM1144 166h1v1h-1zM1143 167h1v1h-1zM1143 168h1v1h-1zM1143 169h1v1h-1zM1143 170h1v1h-1zM1142 171h1v1h-1zM1142 172h1v1h-1zM1142 173h1v1h-1zM1142 174h1v1h-1zM1141 175h1v1h-1zM1141 176h1v1h-1zM1141 177h1v1h-1zM1140 178h1v1h-1zM1140 179h1v1h-1zM1140 180h1v1h-1zM1140 181h1v1h-1zM1139 182h1v1h-1zM1139 183h1v1h-1zM1139 184h1v1h-1zM1139 185h1v1h-1zM1138 186h1v1h-1zM1138 187h1v1h-1zM1138 188h1v1h-1zM1137 189h1v1h-1zM1137 190h1v1h-1zM1137 191h1v1h-1zM1137 192h1v1h-1zM1136 193h1v1h-1zM1136 194h1v1h-1zM1136 195h1v1h-1zM1136 196h1v1h-1zM1135 197h1v1h-1zM1135 198h1v1h-1zM1135 199h1v1h-1zM1135 200h1v1h-1zM1134 201h1v1h-1zM1134 202h1v1h-1zM1134 203h1v1h-1zM1133 204h1v1h-1zM1133 205h1v1h-1zM1133 206h1v1h-1zM1132 207h1v1h-1zM1132 208h1v1h-1zM1132 209h1v1h-1zM1132 210h1v1h-1zM1131 211h1v1h-1zM1131 212h1v1h-1zM1131 213h1v1h-1zM1130 214h1v1h-1zM1130 215h1v1h-1zM1130 216h1v1h-1zM1129 217h1v1h-1zM1129 218h1v1h-1zM1129 219h1v1h-1zM1129 220h1v1h-1zM1128 221h1v1h-1zM1128 222h1v1h-1zM1127 223h1v1h-1zM1127 224h1v1h-1zM1127 225h1v1h-1zM1126 226h1v1h-1zM1126 227h1v1h-1zM1125 228h1v1h-1zM1125 229h1v1h-1zM1125 230h1v1h-1zM1124 231h1v1h-1zM1124 232h1v1h-1zM1123 233h1v1h-1zM1122 235h1v1h-1zM1121 236h1v1h-1zM1120 237h1v1h-1zM1119 238h1v1h-1zM1118 239h1v1h-1zM1117 240h1v1h-1zM1116 241h1v1h-1zM1115 242h1v1h-1zM1115 243h1v1h-1zM1114 244h1v1h-1zM1114 245h1v1h-1zM1113 246h1v1h-1zM1113 247h1v1h-1zM1112 248h1v1h-1zM1112 249h1v1h-1zM1111 250h1v1h-1zM1110 251h1v1h-1zM1110 252h1v1h-1zM1109 253h1v1h-1zM1109 254h1v1h-1zM1108 255h1v1h-1zM1108 256h1v1h-1zM1108 257h1v1h-1zM1107 258h1v1h-1zM1107 259h1v1h-1zM1106 260h1v1h-1zM1106 261h1v1h-1zM1105 262h1v1h-1zM1105 263h1v1h-1zM1104 264h1v1h-1zM1104 265h1v1h-1zM1104 266h1v1h-1zM1103 267h1v1h-1zM1103 268h1v1h-1zM1102 269h1v1h-1zM1101 270h1v1h-1zM1101 271h1v1h-1zM672 272h1v1h-1zM1100 272h1v1h-1zM672 273h2v1h-2zM991 273h1v1h-1zM1100 273h1v1h-1zM671 274h1v1h-1zM673 274h1v1h-1zM988 274h3v1h-3zM992 274h1v1h-1zM1099 274h1v1h-1zM671 275h1v1h-1zM674 275h1v1h-1zM987 275h1v1h-1zM993 275h1v1h-1zM1098 275h1v1h-1zM671 276h1v1h-1zM675 276h1v1h-1zM986 276h1v1h-1zM993 276h1v1h-1zM1098 276h1v1h-1zM670 277h1v1h-1zM675 277h1v1h-1zM985 277h1v1h-1zM994 277h1v1h-1zM1097 277h1v1h-1zM670 278h1v1h-1zM676 278h1v1h-1zM984 278h1v1h-1zM995 278h1v1h-1zM1096 278h2v1h-2zM670 279h1v1h-1zM676 279h1v1h-1zM983 279h1v1h-1zM996 279h1v1h-1zM1094 279h2v1h-2zM669 280h1v1h-1zM676 280h1v1h-1zM982 280h1v1h-1zM997 280h1v1h-1zM1092 280h2v1h-2zM669 281h1v1h-1zM676 281h1v1h-1zM981 281h1v1h-1zM998 281h1v1h-1zM1090 281h2v1h-2zM669 282h1v1h-1zM676 282h1v1h-1zM980 282h1v1h-1zM998 282h1v1h-1zM1089 282h1v1h-1zM668 283h1v1h-1zM677 283h1v1h-1zM979 283h1v1h-1zM999 283h1v1h-1zM1088 283h1v1h-1zM668 284h1v1h-1zM677 284h1v1h-1zM978 284h1v1h-1zM1000 284h1v1h-1zM1087 284h1v1h-1zM668 285h1v1h-1zM677 285h1v1h-1zM977 285h1v1h-1zM1000 285h1v1h-1zM1086 285h1v1h-1zM667 286h1v1h-1zM677 286h1v1h-1zM977 286h1v1h-1zM1001 286h1v1h-1zM1085 286h1v1h-1zM667 287h1v1h-1zM678 287h1v1h-1zM976 287h1v1h-1zM1001 287h1v1h-1zM1084 287h1v1h-1zM667 288h1v1h-1zM678 288h1v1h-1zM976 288h1v1h-1zM1002 288h1v1h-1zM1083 288h1v1h-1zM666 289h1v1h-1zM678 289h1v1h-1zM975 289h1v1h-1zM1002 289h1v1h-1zM1082 289h1v1h-1zM666 290h1v1h-1zM678 290h1v1h-1zM975 290h1v1h-1zM1003 290h1v1h-1zM1081 290h1v1h-1zM666 291h1v1h-1zM678 291h1v1h-1zM974 291h1v1h-1zM1003 291h1v1h-1zM1080 291h1v1h-1zM665 292h1v1h-1zM679 292h1v1h-1zM974 292h1v1h-1zM1004 292h1v1h-1zM1080 292h1v1h-1zM665 293h1v1h-1zM679 293h1v1h-1zM974 293h1v1h-1zM1004 293h1v1h-1zM1079 293h1v1h-1zM665 294h1v1h-1zM679 294h1v1h-1zM973 294h1v1h-1zM1005 294h1v1h-1zM1078 294h1v1h-1zM665 295h1v1h-1zM679 295h1v1h-1zM973 295h1v1h-1zM1005 295h1v1h-1zM1078 295h1v1h-1zM664 296h1v1h-1zM679 296h1v1h-1zM972 296h1v1h-1zM1006 296h1v1h-1zM1077 296h1v1h-1zM664 297h1v1h-1zM680 297h1v1h-1zM972 297h1v1h-1zM1006 297h1v1h-1zM1076 297h1v1h-1zM664 298h1v1h-1zM680 298h1v1h-1zM971 298h1v1h-1zM1007 298h1v1h-1zM1076 298h1v1h-1zM663 299h1v1h-1zM680 299h1v1h-1zM971 299h1v1h-1zM1007 299h1v1h-1zM1039 299h5v1h-5zM1075 299h1v1h-1zM663 300h1v1h-1zM680 300h1v1h-1zM971 300h1v1h-1zM1008 300h1v1h-1zM1036 300h3v1h-3zM1044 300h1v1h-1zM1075 300h1v1h-1zM663 301h1v1h-1zM681 301h1v1h-1zM970 301h1v1h-1zM1009 301h1v1h-1zM1035 301h1v1h-1zM1045 301h2v1h-2zM1073 301h1v1h-1zM663 302h1v1h-1zM681 302h1v1h-1zM970 302h1v1h-1zM1009 302h1v1h-1zM1034 302h1v1h-1zM1046 302h1v1h-1zM1072 302h1v1h-1zM662 303h1v1h-1zM681 303h1v1h-1zM970 303h1v1h-1zM1010 303h1v1h-1zM1033 303h1v1h-1zM1047 303h1v1h-1zM1070 303h2v1h-2zM662 304h1v1h-1zM681 304h1v1h-1zM970 304h1v1h-1zM1011 304h1v1h-1zM1032 304h1v1h-1zM1048 304h1v1h-1zM1069 304h1v1h-1zM662 305h1v1h-1zM681 305h1v1h-1zM969 305h1v1h-1zM1012 305h1v1h-1zM1031 305h1v1h-1zM1049 305h1v1h-1zM1056 305h13v1h-13zM662 306h1v1h-1zM682 306h1v1h-1zM969 306h1v1h-1zM1013 306h1v1h-1zM1030 306h1v1h-1zM1050 306h6v1h-6zM661 307h1v1h-1zM682 307h1v1h-1zM969 307h1v1h-1zM1014 307h1v1h-1zM1030 307h1v1h-1zM661 308h1v1h-1zM682 308h1v1h-1zM968 308h1v1h-1zM1015 308h1v1h-1zM1029 308h1v1h-1zM661 309h1v1h-1zM682 309h1v1h-1zM968 309h1v1h-1zM1016 309h1v1h-1zM1028 309h1v1h-1zM661 310h1v1h-1zM683 310h1v1h-1zM968 310h1v1h-1zM1017 310h1v1h-1zM1028 310h1v1h-1zM660 311h1v1h-1zM683 311h1v1h-1zM968 311h1v1h-1zM1017 311h2v1h-2zM1027 311h1v1h-1zM660 312h1v1h-1zM683 312h1v1h-1zM967 312h1v1h-1zM1019 312h2v1h-2zM1026 312h1v1h-1zM660 313h1v1h-1zM683 313h1v1h-1zM967 313h1v1h-1zM1021 313h1v1h-1zM1025 313h2v1h-2zM660 314h1v1h-1zM683 314h1v1h-1zM967 314h1v1h-1zM1022 314h3v1h-3zM659 315h1v1h-1zM683 315h1v1h-1zM966 315h1v1h-1zM659 316h1v1h-1zM684 316h1v1h-1zM966 316h1v1h-1zM437 317h3v1h-3zM659 317h1v1h-1zM684 317h1v1h-1zM966 317h1v1h-1zM436 318h1v1h-1zM440 318h3v1h-3zM659 318h1v1h-1zM684 318h1v1h-1zM965 318h1v1h-1zM435 319h1v1h-1zM443 319h1v1h-1zM658 319h1v1h-1zM684 319h1v1h-1zM965 319h1v1h-1zM434 320h1v1h-1zM444 320h2v1h-2zM658 320h1v1h-1zM684 320h1v1h-1zM965 320h1v1h-1zM433 321h1v1h-1zM445 321h1v1h-1zM658 321h1v1h-1zM685 321h1v1h-1zM965 321h1v1h-1zM432 322h1v1h-1zM446 322h1v1h-1zM658 322h1v1h-1zM685 322h1v1h-1zM964 322h1v1h-1zM431 323h1v1h-1zM447 323h1v1h-1zM657 323h1v1h-1zM685 323h1v1h-1zM964 323h1v1h-1zM431 324h1v1h-1zM448 324h1v1h-1zM657 324h1v1h-1zM685 324h1v1h-1zM964 324h1v1h-1zM430 325h1v1h-1zM449 325h1v1h-1zM657 325h1v1h-1zM685 325h1v1h-1zM964 325h1v1h-1zM430 326h1v1h-1zM450 326h1v1h-1zM657 326h1v1h-1zM685 326h1v1h-1zM964 326h1v1h-1zM429 327h1v1h-1zM451 327h1v1h-1zM657 327h1v1h-1zM686 327h1v1h-1zM963 327h1v1h-1zM429 328h1v1h-1zM452 328h1v1h-1zM656 328h1v1h-1zM686 328h1v1h-1zM963 328h1v1h-1zM428 329h1v1h-1zM452 329h1v1h-1zM656 329h1v1h-1zM686 329h1v1h-1zM963 329h1v1h-1zM428 330h1v1h-1zM453 330h1v1h-1zM656 330h1v1h-1zM686 330h1v1h-1zM963 330h1v1h-1zM427 331h1v1h-1zM454 331h1v1h-1zM656 331h1v1h-1zM686 331h1v1h-1zM962 331h1v1h-1zM427 332h1v1h-1zM455 332h1v1h-1zM655 332h1v1h-1zM687 332h1v1h-1zM962 332h1v1h-1zM427 333h1v1h-1zM456 333h1v1h-1zM655 333h1v1h-1zM687 333h1v1h-1zM962 333h1v1h-1zM426 334h1v1h-1zM457 334h1v1h-1zM655 334h1v1h-1zM687 334h1v1h-1zM962 334h1v1h-1zM426 335h1v1h-1zM457 335h1v1h-1zM655 335h1v1h-1zM687 335h1v1h-1zM961 335h1v1h-1zM233 336h1v1h-1zM425 336h1v1h-1zM458 336h1v1h-1zM654 336h1v1h-1zM687 336h1v1h-1zM961 336h1v1h-1zM190 337h1v1h-1zM231 337h2v1h-2zM234 337h2v1h-2zM425 337h1v1h-1zM459 337h1v1h-1zM654 337h1v1h-1zM688 337h1v1h-1zM961 337h1v1h-1zM191 338h1v1h-1zM230 338h1v1h-1zM236 338h1v1h-1zM424 338h1v1h-1zM460 338h1v1h-1zM654 338h1v1h-1zM688 338h1v1h-1zM961 338h1v1h-1zM188 339h2v1h-2zM192 339h2v1h-2zM229 339h1v1h-1zM237 339h1v1h-1zM424 339h1v1h-1zM461 339h1v1h-1zM654 339h1v1h-1zM688 339h1v1h-1zM960 339h1v1h-1zM187 340h1v1h-1zM194 340h1v1h-1zM228 340h1v1h-1zM238 340h1v1h-1zM423 340h1v1h-1zM462 340h2v1h-2zM653 340h1v1h-1zM688 340h1v1h-1zM960 340h1v1h-1zM186 341h1v1h-1zM195 341h1v1h-1zM226 341h2v1h-2zM239 341h1v1h-1zM423 341h1v1h-1zM464 341h1v1h-1zM653 341h1v1h-1zM689 341h1v1h-1zM960 341h1v1h-1zM185 342h1v1h-1zM226 342h1v1h-1zM239 342h1v1h-1zM382 342h6v1h-6zM422 342h1v1h-1zM465 342h1v1h-1zM485 342h3v1h-3zM653 342h1v1h-1zM689 342h1v1h-1zM960 342h1v1h-1zM184 343h1v1h-1zM196 343h1v1h-1zM225 343h1v1h-1zM240 343h1v1h-1zM388 343h1v1h-1zM422 343h1v1h-1zM466 343h1v1h-1zM483 343h2v1h-2zM488 343h2v1h-2zM653 343h1v1h-1zM689 343h1v1h-1zM959 343h1v1h-1zM184 344h1v1h-1zM197 344h1v1h-1zM224 344h1v1h-1zM241 344h1v1h-1zM380 344h2v1h-2zM389 344h2v1h-2zM422 344h1v1h-1zM467 344h1v1h-1zM481 344h2v1h-2zM490 344h1v1h-1zM652 344h1v1h-1zM689 344h1v1h-1zM959 344h1v1h-1zM183 345h1v1h-1zM198 345h1v1h-1zM224 345h1v1h-1zM241 345h1v1h-1zM379 345h1v1h-1zM391 345h1v1h-1zM421 345h1v1h-1zM468 345h1v1h-1zM480 345h1v1h-1zM491 345h2v1h-2zM652 345h1v1h-1zM689 345h1v1h-1zM958 345h1v1h-1zM183 346h1v1h-1zM199 346h1v1h-1zM223 346h1v1h-1zM242 346h1v1h-1zM378 346h1v1h-1zM392 346h2v1h-2zM421 346h1v1h-1zM469 346h1v1h-1zM479 346h1v1h-1zM493 346h1v1h-1zM652 346h1v1h-1zM690 346h1v1h-1zM958 346h1v1h-1zM182 347h1v1h-1zM199 347h1v1h-1zM222 347h1v1h-1zM242 347h1v1h-1zM377 347h1v1h-1zM394 347h1v1h-1zM420 347h1v1h-1zM470 347h4v1h-4zM478 347h1v1h-1zM494 347h1v1h-1zM652 347h1v1h-1zM690 347h1v1h-1zM958 347h1v1h-1zM182 348h1v1h-1zM200 348h1v1h-1zM222 348h1v1h-1zM243 348h1v1h-1zM376 348h1v1h-1zM395 348h1v1h-1zM420 348h1v1h-1zM474 348h2v1h-2zM477 348h1v1h-1zM495 348h2v1h-2zM651 348h1v1h-1zM690 348h1v1h-1zM957 348h1v1h-1zM181 349h1v1h-1zM201 349h1v1h-1zM221 349h1v1h-1zM243 349h1v1h-1zM375 349h1v1h-1zM396 349h1v1h-1zM419 349h1v1h-1zM476 349h1v1h-1zM496 349h1v1h-1zM651 349h1v1h-1zM690 349h1v1h-1zM957 349h1v1h-1zM181 350h1v1h-1zM202 350h1v1h-1zM220 350h1v1h-1zM244 350h1v1h-1zM374 350h1v1h-1zM397 350h1v1h-1zM419 350h1v1h-1zM497 350h1v1h-1zM651 350h1v1h-1zM690 350h1v1h-1zM957 350h1v1h-1zM180 351h1v1h-1zM203 351h1v1h-1zM220 351h1v1h-1zM244 351h1v1h-1zM373 351h1v1h-1zM398 351h1v1h-1zM418 351h1v1h-1zM498 351h1v1h-1zM651 351h1v1h-1zM691 351h1v1h-1zM956 351h1v1h-1zM180 352h1v1h-1zM204 352h2v1h-2zM219 352h1v1h-1zM245 352h1v1h-1zM372 352h1v1h-1zM399 352h1v1h-1zM418 352h1v1h-1zM499 352h1v1h-1zM650 352h1v1h-1zM691 352h1v1h-1zM956 352h1v1h-1zM179 353h1v1h-1zM206 353h1v1h-1zM219 353h1v1h-1zM246 353h1v1h-1zM372 353h1v1h-1zM400 353h1v1h-1zM417 353h1v1h-1zM500 353h1v1h-1zM650 353h1v1h-1zM691 353h1v1h-1zM956 353h1v1h-1zM4 354h1v1h-1zM179 354h1v1h-1zM207 354h1v1h-1zM218 354h1v1h-1zM246 354h1v1h-1zM371 354h1v1h-1zM401 354h2v1h-2zM417 354h1v1h-1zM501 354h1v1h-1zM650 354h1v1h-1zM691 354h1v1h-1zM955 354h1v1h-1zM4 355h1v1h-1zM178 355h1v1h-1zM208 355h10v1h-10zM246 355h1v1h-1zM370 355h1v1h-1zM403 355h1v1h-1zM416 355h1v1h-1zM502 355h1v1h-1zM649 355h1v1h-1zM692 355h1v1h-1zM955 355h1v1h-1zM5 356h1v1h-1zM178 356h1v1h-1zM247 356h1v1h-1zM369 356h1v1h-1zM404 356h1v1h-1zM415 356h1v1h-1zM503 356h1v1h-1zM649 356h1v1h-1zM692 356h1v1h-1zM955 356h1v1h-1zM5 357h1v1h-1zM177 357h1v1h-1zM247 357h1v1h-1zM368 357h1v1h-1zM405 357h2v1h-2zM415 357h1v1h-1zM505 357h1v1h-1zM649 357h1v1h-1zM692 357h1v1h-1zM954 357h1v1h-1zM5 358h1v1h-1zM177 358h1v1h-1zM247 358h1v1h-1zM368 358h1v1h-1zM407 358h1v1h-1zM414 358h1v1h-1zM506 358h1v1h-1zM648 358h1v1h-1zM692 358h1v1h-1zM954 358h1v1h-1zM6 359h1v1h-1zM176 359h1v1h-1zM248 359h1v1h-1zM367 359h1v1h-1zM408 359h5v1h-5zM414 359h1v1h-1zM507 359h1v1h-1zM648 359h1v1h-1zM692 359h1v1h-1zM954 359h1v1h-1zM6 360h1v1h-1zM176 360h1v1h-1zM248 360h1v1h-1zM366 360h1v1h-1zM413 360h1v1h-1zM508 360h1v1h-1zM648 360h1v1h-1zM693 360h1v1h-1zM953 360h1v1h-1zM7 361h1v1h-1zM175 361h1v1h-1zM249 361h1v1h-1zM365 361h1v1h-1zM509 361h1v1h-1zM648 361h1v1h-1zM693 361h1v1h-1zM953 361h1v1h-1zM7 362h1v1h-1zM175 362h1v1h-1zM249 362h1v1h-1zM345 362h4v1h-4zM364 362h1v1h-1zM510 362h1v1h-1zM647 362h1v1h-1zM693 362h1v1h-1zM953 362h1v1h-1zM7 363h1v1h-1zM174 363h1v1h-1zM249 363h1v1h-1zM344 363h1v1h-1zM349 363h3v1h-3zM363 363h1v1h-1zM511 363h1v1h-1zM647 363h1v1h-1zM693 363h1v1h-1zM953 363h1v1h-1zM8 364h1v1h-1zM174 364h1v1h-1zM250 364h1v1h-1zM343 364h1v1h-1zM352 364h5v1h-5zM362 364h1v1h-1zM512 364h1v1h-1zM647 364h1v1h-1zM693 364h1v1h-1zM952 364h1v1h-1zM8 365h1v1h-1zM173 365h1v1h-1zM250 365h1v1h-1zM291 365h6v1h-6zM342 365h1v1h-1zM357 365h4v1h-4zM362 365h1v1h-1zM513 365h1v1h-1zM647 365h1v1h-1zM693 365h1v1h-1zM952 365h1v1h-1zM9 366h1v1h-1zM172 366h1v1h-1zM250 366h1v1h-1zM289 366h2v1h-2zM297 366h1v1h-1zM341 366h1v1h-1zM513 366h1v1h-1zM646 366h1v1h-1zM694 366h1v1h-1zM952 366h1v1h-1zM9 367h1v1h-1zM172 367h1v1h-1zM250 367h1v1h-1zM288 367h1v1h-1zM298 367h1v1h-1zM339 367h2v1h-2zM514 367h1v1h-1zM646 367h1v1h-1zM694 367h1v1h-1zM951 367h1v1h-1zM10 368h1v1h-1zM171 368h1v1h-1zM251 368h1v1h-1zM287 368h1v1h-1zM299 368h1v1h-1zM338 368h1v1h-1zM515 368h1v1h-1zM549 368h2v1h-2zM646 368h1v1h-1zM694 368h1v1h-1zM951 368h1v1h-1zM10 369h1v1h-1zM71 369h2v1h-2zM171 369h1v1h-1zM252 369h1v1h-1zM286 369h1v1h-1zM300 369h1v1h-1zM337 369h1v1h-1zM515 369h1v1h-1zM548 369h1v1h-1zM551 369h2v1h-2zM646 369h1v1h-1zM694 369h1v1h-1zM951 369h1v1h-1zM10 370h1v1h-1zM60 370h1v1h-1zM70 370h1v1h-1zM73 370h2v1h-2zM170 370h1v1h-1zM252 370h1v1h-1zM285 370h1v1h-1zM301 370h1v1h-1zM337 370h1v1h-1zM516 370h1v1h-1zM547 370h1v1h-1zM553 370h1v1h-1zM645 370h1v1h-1zM694 370h1v1h-1zM950 370h1v1h-1zM11 371h1v1h-1zM58 371h2v1h-2zM61 371h1v1h-1zM69 371h1v1h-1zM75 371h3v1h-3zM170 371h1v1h-1zM253 371h1v1h-1zM284 371h1v1h-1zM302 371h1v1h-1zM336 371h1v1h-1zM517 371h1v1h-1zM546 371h1v1h-1zM553 371h1v1h-1zM645 371h1v1h-1zM694 371h1v1h-1zM950 371h1v1h-1zM11 372h1v1h-1zM55 372h3v1h-3zM62 372h2v1h-2zM68 372h1v1h-1zM78 372h1v1h-1zM169 372h1v1h-1zM254 372h1v1h-1zM283 372h1v1h-1zM303 372h1v1h-1zM335 372h1v1h-1zM518 372h1v1h-1zM545 372h1v1h-1zM554 372h1v1h-1zM645 372h1v1h-1zM694 372h1v1h-1zM950 372h1v1h-1zM12 373h1v1h-1zM51 373h4v1h-4zM64 373h1v1h-1zM67 373h1v1h-1zM79 373h2v1h-2zM169 373h1v1h-1zM254 373h1v1h-1zM282 373h1v1h-1zM304 373h1v1h-1zM335 373h1v1h-1zM518 373h1v1h-1zM544 373h1v1h-1zM554 373h1v1h-1zM645 373h1v1h-1zM695 373h1v1h-1zM949 373h1v1h-1zM12 374h1v1h-1zM48 374h3v1h-3zM66 374h1v1h-1zM81 374h1v1h-1zM168 374h1v1h-1zM255 374h2v1h-2zM281 374h1v1h-1zM304 374h1v1h-1zM334 374h1v1h-1zM519 374h1v1h-1zM544 374h1v1h-1zM554 374h1v1h-1zM644 374h1v1h-1zM695 374h1v1h-1zM949 374h1v1h-1zM13 375h1v1h-1zM44 375h4v1h-4zM65 375h1v1h-1zM82 375h1v1h-1zM167 375h1v1h-1zM257 375h1v1h-1zM281 375h1v1h-1zM305 375h1v1h-1zM333 375h1v1h-1zM520 375h1v1h-1zM543 375h1v1h-1zM555 375h1v1h-1zM644 375h1v1h-1zM695 375h1v1h-1zM741 375h1v1h-1zM949 375h1v1h-1zM13 376h1v1h-1zM40 376h4v1h-4zM83 376h2v1h-2zM166 376h1v1h-1zM258 376h1v1h-1zM280 376h1v1h-1zM306 376h1v1h-1zM333 376h1v1h-1zM520 376h1v1h-1zM542 376h1v1h-1zM555 376h1v1h-1zM644 376h1v1h-1zM695 376h1v1h-1zM741 376h1v1h-1zM949 376h1v1h-1zM14 377h1v1h-1zM40 377h1v1h-1zM85 377h1v1h-1zM165 377h1v1h-1zM259 377h1v1h-1zM279 377h1v1h-1zM307 377h1v1h-1zM332 377h1v1h-1zM521 377h1v1h-1zM541 377h1v1h-1zM556 377h1v1h-1zM644 377h1v1h-1zM695 377h1v1h-1zM740 377h1v1h-1zM742 377h1v1h-1zM948 377h1v1h-1zM14 378h1v1h-1zM39 378h1v1h-1zM86 378h1v1h-1zM164 378h1v1h-1zM260 378h1v1h-1zM278 378h1v1h-1zM308 378h1v1h-1zM331 378h1v1h-1zM522 378h1v1h-1zM540 378h1v1h-1zM556 378h1v1h-1zM643 378h1v1h-1zM695 378h1v1h-1zM740 378h1v1h-1zM743 378h1v1h-1zM948 378h1v1h-1zM14 379h1v1h-1zM38 379h1v1h-1zM87 379h1v1h-1zM163 379h1v1h-1zM261 379h1v1h-1zM277 379h1v1h-1zM309 379h1v1h-1zM331 379h1v1h-1zM523 379h1v1h-1zM539 379h1v1h-1zM557 379h1v1h-1zM643 379h1v1h-1zM696 379h1v1h-1zM739 379h1v1h-1zM744 379h1v1h-1zM948 379h1v1h-1zM15 380h1v1h-1zM37 380h1v1h-1zM88 380h1v1h-1zM162 380h1v1h-1zM262 380h1v1h-1zM276 380h1v1h-1zM310 380h1v1h-1zM330 380h1v1h-1zM524 380h1v1h-1zM538 380h1v1h-1zM557 380h1v1h-1zM643 380h1v1h-1zM696 380h1v1h-1zM739 380h1v1h-1zM745 380h1v1h-1zM948 380h1v1h-1zM15 381h1v1h-1zM37 381h1v1h-1zM89 381h1v1h-1zM161 381h1v1h-1zM263 381h2v1h-2zM274 381h2v1h-2zM312 381h1v1h-1zM329 381h1v1h-1zM525 381h1v1h-1zM537 381h1v1h-1zM558 381h1v1h-1zM643 381h1v1h-1zM696 381h1v1h-1zM739 381h1v1h-1zM745 381h1v1h-1zM947 381h1v1h-1zM16 382h1v1h-1zM36 382h1v1h-1zM90 382h1v1h-1zM160 382h1v1h-1zM265 382h2v1h-2zM273 382h1v1h-1zM313 382h2v1h-2zM328 382h1v1h-1zM526 382h1v1h-1zM536 382h1v1h-1zM558 382h1v1h-1zM643 382h1v1h-1zM696 382h1v1h-1zM738 382h1v1h-1zM746 382h1v1h-1zM947 382h1v1h-1zM16 383h1v1h-1zM35 383h1v1h-1zM91 383h1v1h-1zM160 383h1v1h-1zM267 383h3v1h-3zM271 383h2v1h-2zM315 383h2v1h-2zM327 383h1v1h-1zM527 383h1v1h-1zM535 383h1v1h-1zM559 383h1v1h-1zM642 383h1v1h-1zM696 383h1v1h-1zM738 383h1v1h-1zM746 383h1v1h-1zM947 383h1v1h-1zM17 384h1v1h-1zM34 384h1v1h-1zM92 384h1v1h-1zM159 384h1v1h-1zM270 384h1v1h-1zM317 384h2v1h-2zM326 384h1v1h-1zM528 384h1v1h-1zM530 384h5v1h-5zM559 384h1v1h-1zM642 384h1v1h-1zM696 384h1v1h-1zM737 384h1v1h-1zM746 384h1v1h-1zM947 384h1v1h-1zM17 385h1v1h-1zM33 385h1v1h-1zM92 385h1v1h-1zM158 385h1v1h-1zM319 385h7v1h-7zM529 385h1v1h-1zM560 385h1v1h-1zM642 385h1v1h-1zM696 385h1v1h-1zM737 385h1v1h-1zM746 385h1v1h-1zM946 385h1v1h-1zM17 386h1v1h-1zM32 386h1v1h-1zM93 386h1v1h-1zM157 386h1v1h-1zM560 386h1v1h-1zM642 386h1v1h-1zM697 386h1v1h-1zM736 386h1v1h-1zM746 386h1v1h-1zM946 386h1v1h-1zM18 387h1v1h-1zM31 387h1v1h-1zM94 387h1v1h-1zM156 387h1v1h-1zM561 387h1v1h-1zM642 387h1v1h-1zM697 387h1v1h-1zM736 387h1v1h-1zM747 387h1v1h-1zM946 387h1v1h-1zM18 388h1v1h-1zM30 388h1v1h-1zM94 388h1v1h-1zM156 388h1v1h-1zM561 388h1v1h-1zM641 388h1v1h-1zM697 388h1v1h-1zM736 388h1v1h-1zM747 388h1v1h-1zM946 388h1v1h-1zM19 389h1v1h-1zM30 389h1v1h-1zM95 389h1v1h-1zM155 389h1v1h-1zM562 389h1v1h-1zM641 389h1v1h-1zM697 389h1v1h-1zM736 389h1v1h-1zM747 389h1v1h-1zM945 389h1v1h-1zM20 390h1v1h-1zM29 390h1v1h-1zM96 390h1v1h-1zM154 390h1v1h-1zM563 390h1v1h-1zM641 390h1v1h-1zM697 390h1v1h-1zM736 390h1v1h-1zM747 390h1v1h-1zM945 390h1v1h-1zM21 391h2v1h-2zM28 391h1v1h-1zM97 391h1v1h-1zM153 391h1v1h-1zM563 391h1v1h-1zM641 391h1v1h-1zM697 391h1v1h-1zM735 391h1v1h-1zM748 391h1v1h-1zM945 391h1v1h-1zM23 392h1v1h-1zM27 392h1v1h-1zM97 392h1v1h-1zM153 392h1v1h-1zM564 392h1v1h-1zM641 392h1v1h-1zM697 392h1v1h-1zM735 392h1v1h-1zM748 392h1v1h-1zM945 392h1v1h-1zM24 393h1v1h-1zM26 393h1v1h-1zM98 393h1v1h-1zM152 393h1v1h-1zM564 393h1v1h-1zM640 393h1v1h-1zM698 393h1v1h-1zM735 393h1v1h-1zM748 393h1v1h-1zM944 393h1v1h-1zM25 394h1v1h-1zM99 394h1v1h-1zM151 394h1v1h-1zM565 394h1v1h-1zM640 394h1v1h-1zM698 394h1v1h-1zM735 394h1v1h-1zM748 394h1v1h-1zM944 394h1v1h-1zM100 395h1v1h-1zM149 395h2v1h-2zM565 395h1v1h-1zM640 395h1v1h-1zM698 395h1v1h-1zM735 395h1v1h-1zM748 395h1v1h-1zM944 395h1v1h-1zM100 396h1v1h-1zM148 396h1v1h-1zM566 396h1v1h-1zM640 396h1v1h-1zM698 396h1v1h-1zM735 396h1v1h-1zM749 396h1v1h-1zM944 396h1v1h-1zM101 397h1v1h-1zM146 397h2v1h-2zM566 397h1v1h-1zM640 397h1v1h-1zM698 397h1v1h-1zM734 397h1v1h-1zM749 397h1v1h-1zM943 397h1v1h-1zM102 398h1v1h-1zM136 398h10v1h-10zM567 398h1v1h-1zM639 398h1v1h-1zM698 398h1v1h-1zM734 398h1v1h-1zM749 398h1v1h-1zM943 398h1v1h-1zM103 399h1v1h-1zM135 399h1v1h-1zM567 399h1v1h-1zM639 399h1v1h-1zM698 399h1v1h-1zM734 399h1v1h-1zM749 399h1v1h-1zM943 399h1v1h-1zM104 400h1v1h-1zM134 400h1v1h-1zM568 400h1v1h-1zM639 400h1v1h-1zM699 400h1v1h-1zM734 400h1v1h-1zM750 400h1v1h-1zM942 400h1v1h-1zM104 401h1v1h-1zM133 401h1v1h-1zM568 401h1v1h-1zM639 401h1v1h-1zM699 401h1v1h-1zM734 401h1v1h-1zM750 401h1v1h-1zM942 401h1v1h-1zM105 402h1v1h-1zM132 402h1v1h-1zM569 402h1v1h-1zM639 402h1v1h-1zM699 402h1v1h-1zM733 402h1v1h-1zM750 402h1v1h-1zM942 402h1v1h-1zM106 403h1v1h-1zM131 403h1v1h-1zM569 403h1v1h-1zM638 403h1v1h-1zM699 403h1v1h-1zM733 403h1v1h-1zM750 403h1v1h-1zM942 403h1v1h-1zM107 404h1v1h-1zM131 404h1v1h-1zM570 404h1v1h-1zM638 404h1v1h-1zM699 404h1v1h-1zM733 404h1v1h-1zM751 404h1v1h-1zM941 404h1v1h-1zM108 405h1v1h-1zM130 405h1v1h-1zM571 405h1v1h-1zM638 405h1v1h-1zM699 405h1v1h-1zM733 405h1v1h-1zM751 405h1v1h-1zM941 405h1v1h-1zM108 406h1v1h-1zM571 406h1v1h-1zM637 406h1v1h-1zM699 406h1v1h-1zM733 406h1v1h-1zM751 406h1v1h-1zM941 406h1v1h-1zM110 407h1v1h-1zM128 407h1v1h-1zM572 407h1v1h-1zM637 407h1v1h-1zM700 407h1v1h-1zM733 407h1v1h-1zM751 407h1v1h-1zM941 407h1v1h-1zM111 408h1v1h-1zM127 408h1v1h-1zM572 408h1v1h-1zM637 408h1v1h-1zM700 408h1v1h-1zM732 408h1v1h-1zM751 408h1v1h-1zM940 408h1v1h-1zM112 409h1v1h-1zM126 409h1v1h-1zM573 409h1v1h-1zM637 409h1v1h-1zM700 409h1v1h-1zM732 409h1v1h-1zM752 409h1v1h-1zM940 409h1v1h-1zM113 410h2v1h-2zM125 410h1v1h-1zM574 410h1v1h-1zM636 410h1v1h-1zM700 410h1v1h-1zM732 410h1v1h-1zM752 410h1v1h-1zM940 410h1v1h-1zM115 411h1v1h-1zM124 411h1v1h-1zM574 411h1v1h-1zM636 411h1v1h-1zM700 411h1v1h-1zM732 411h1v1h-1zM752 411h1v1h-1zM940 411h1v1h-1zM116 412h1v1h-1zM121 412h3v1h-3zM575 412h1v1h-1zM636 412h1v1h-1zM700 412h1v1h-1zM732 412h1v1h-1zM752 412h1v1h-1zM788 412h5v1h-5zM858 412h2v1h-2zM939 412h1v1h-1zM119 413h2v1h-2zM575 413h1v1h-1zM635 413h1v1h-1zM700 413h1v1h-1zM731 413h1v1h-1zM753 413h1v1h-1zM787 413h1v1h-1zM792 413h1v1h-1zM857 413h1v1h-1zM859 413h1v1h-1zM921 413h6v1h-6zM938 413h1v1h-1zM117 414h2v1h-2zM576 414h1v1h-1zM635 414h1v1h-1zM701 414h1v1h-1zM731 414h1v1h-1zM753 414h1v1h-1zM786 414h1v1h-1zM793 414h1v1h-1zM855 414h2v1h-2zM860 414h1v1h-1zM920 414h1v1h-1zM927 414h2v1h-2zM938 414h1v1h-1zM577 415h1v1h-1zM635 415h1v1h-1zM701 415h1v1h-1zM731 415h1v1h-1zM753 415h1v1h-1zM785 415h1v1h-1zM793 415h1v1h-1zM854 415h1v1h-1zM861 415h1v1h-1zM920 415h1v1h-1zM929 415h1v1h-1zM937 415h1v1h-1zM577 416h1v1h-1zM634 416h1v1h-1zM701 416h1v1h-1zM731 416h1v1h-1zM753 416h1v1h-1zM784 416h1v1h-1zM794 416h1v1h-1zM854 416h1v1h-1zM862 416h1v1h-1zM919 416h1v1h-1zM930 416h7v1h-7zM578 417h1v1h-1zM634 417h1v1h-1zM701 417h1v1h-1zM731 417h1v1h-1zM754 417h1v1h-1zM783 417h1v1h-1zM794 417h1v1h-1zM853 417h1v1h-1zM863 417h1v1h-1zM918 417h1v1h-1zM578 418h1v1h-1zM634 418h1v1h-1zM701 418h1v1h-1zM731 418h1v1h-1zM754 418h1v1h-1zM783 418h1v1h-1zM794 418h1v1h-1zM853 418h1v1h-1zM864 418h1v1h-1zM918 418h1v1h-1zM579 419h1v1h-1zM634 419h1v1h-1zM701 419h1v1h-1zM731 419h1v1h-1zM754 419h1v1h-1zM782 419h1v1h-1zM795 419h1v1h-1zM852 419h1v1h-1zM864 419h1v1h-1zM917 419h1v1h-1zM580 420h1v1h-1zM633 420h1v1h-1zM701 420h1v1h-1zM730 420h1v1h-1zM754 420h1v1h-1zM782 420h1v1h-1zM796 420h1v1h-1zM852 420h1v1h-1zM864 420h1v1h-1zM917 420h1v1h-1zM580 421h1v1h-1zM633 421h1v1h-1zM702 421h1v1h-1zM730 421h1v1h-1zM755 421h1v1h-1zM781 421h1v1h-1zM797 421h1v1h-1zM851 421h1v1h-1zM864 421h1v1h-1zM916 421h1v1h-1zM581 422h1v1h-1zM632 422h1v1h-1zM702 422h1v1h-1zM730 422h1v1h-1zM755 422h1v1h-1zM781 422h1v1h-1zM798 422h1v1h-1zM851 422h1v1h-1zM865 422h1v1h-1zM916 422h1v1h-1zM581 423h1v1h-1zM632 423h1v1h-1zM702 423h1v1h-1zM730 423h1v1h-1zM755 423h1v1h-1zM780 423h1v1h-1zM799 423h1v1h-1zM850 423h1v1h-1zM865 423h1v1h-1zM915 423h1v1h-1zM582 424h1v1h-1zM632 424h1v1h-1zM702 424h1v1h-1zM730 424h1v1h-1zM755 424h1v1h-1zM780 424h1v1h-1zM800 424h1v1h-1zM850 424h1v1h-1zM865 424h1v1h-1zM915 424h1v1h-1zM583 425h1v1h-1zM631 425h1v1h-1zM702 425h1v1h-1zM730 425h1v1h-1zM756 425h1v1h-1zM779 425h1v1h-1zM801 425h1v1h-1zM849 425h1v1h-1zM866 425h1v1h-1zM914 425h1v1h-1zM583 426h1v1h-1zM631 426h1v1h-1zM702 426h1v1h-1zM730 426h1v1h-1zM756 426h1v1h-1zM779 426h1v1h-1zM802 426h1v1h-1zM849 426h1v1h-1zM866 426h1v1h-1zM914 426h1v1h-1zM584 427h1v1h-1zM630 427h1v1h-1zM703 427h1v1h-1zM730 427h1v1h-1zM756 427h1v1h-1zM778 427h1v1h-1zM803 427h1v1h-1zM849 427h1v1h-1zM866 427h1v1h-1zM914 427h1v1h-1zM585 428h1v1h-1zM630 428h1v1h-1zM703 428h1v1h-1zM729 428h1v1h-1zM756 428h1v1h-1zM778 428h1v1h-1zM804 428h1v1h-1zM849 428h1v1h-1zM867 428h1v1h-1zM913 428h1v1h-1zM585 429h1v1h-1zM630 429h1v1h-1zM703 429h1v1h-1zM729 429h1v1h-1zM757 429h1v1h-1zM777 429h1v1h-1zM805 429h1v1h-1zM848 429h1v1h-1zM867 429h1v1h-1zM913 429h1v1h-1zM586 430h1v1h-1zM629 430h1v1h-1zM703 430h1v1h-1zM729 430h1v1h-1zM757 430h1v1h-1zM777 430h1v1h-1zM806 430h1v1h-1zM848 430h1v1h-1zM867 430h1v1h-1zM913 430h1v1h-1zM586 431h1v1h-1zM629 431h1v1h-1zM703 431h1v1h-1zM729 431h1v1h-1zM757 431h1v1h-1zM777 431h1v1h-1zM807 431h1v1h-1zM848 431h1v1h-1zM868 431h1v1h-1zM912 431h1v1h-1zM587 432h1v1h-1zM628 432h1v1h-1zM703 432h1v1h-1zM729 432h1v1h-1zM758 432h1v1h-1zM776 432h1v1h-1zM808 432h2v1h-2zM848 432h1v1h-1zM868 432h1v1h-1zM912 432h1v1h-1zM588 433h1v1h-1zM628 433h1v1h-1zM703 433h1v1h-1zM729 433h1v1h-1zM758 433h1v1h-1zM776 433h1v1h-1zM810 433h1v1h-1zM847 433h1v1h-1zM868 433h1v1h-1zM912 433h1v1h-1zM588 434h1v1h-1zM627 434h1v1h-1zM704 434h1v1h-1zM729 434h1v1h-1zM758 434h1v1h-1zM776 434h1v1h-1zM811 434h2v1h-2zM847 434h1v1h-1zM869 434h1v1h-1zM911 434h1v1h-1zM589 435h1v1h-1zM627 435h1v1h-1zM704 435h1v1h-1zM728 435h1v1h-1zM759 435h1v1h-1zM775 435h1v1h-1zM813 435h1v1h-1zM847 435h1v1h-1zM869 435h1v1h-1zM911 435h1v1h-1zM590 436h1v1h-1zM626 436h1v1h-1zM704 436h1v1h-1zM728 436h1v1h-1zM759 436h1v1h-1zM775 436h1v1h-1zM814 436h1v1h-1zM847 436h1v1h-1zM870 436h1v1h-1zM911 436h1v1h-1zM590 437h1v1h-1zM625 437h1v1h-1zM704 437h1v1h-1zM728 437h1v1h-1zM759 437h1v1h-1zM774 437h1v1h-1zM815 437h1v1h-1zM846 437h1v1h-1zM870 437h1v1h-1zM910 437h1v1h-1zM591 438h1v1h-1zM625 438h1v1h-1zM704 438h1v1h-1zM728 438h1v1h-1zM760 438h1v1h-1zM774 438h1v1h-1zM816 438h1v1h-1zM846 438h1v1h-1zM870 438h1v1h-1zM910 438h1v1h-1zM592 439h1v1h-1zM624 439h1v1h-1zM704 439h1v1h-1zM728 439h1v1h-1zM760 439h1v1h-1zM774 439h1v1h-1zM817 439h1v1h-1zM846 439h1v1h-1zM871 439h1v1h-1zM909 439h1v1h-1zM592 440h1v1h-1zM623 440h1v1h-1zM704 440h1v1h-1zM728 440h1v1h-1zM761 440h1v1h-1zM773 440h1v1h-1zM818 440h1v1h-1zM845 440h1v1h-1zM871 440h1v1h-1zM909 440h1v1h-1zM593 441h1v1h-1zM623 441h1v1h-1zM705 441h1v1h-1zM728 441h1v1h-1zM761 441h1v1h-1zM773 441h1v1h-1zM818 441h1v1h-1zM845 441h1v1h-1zM872 441h1v1h-1zM908 441h1v1h-1zM594 442h1v1h-1zM622 442h1v1h-1zM705 442h1v1h-1zM728 442h1v1h-1zM761 442h1v1h-1zM772 442h1v1h-1zM819 442h1v1h-1zM845 442h1v1h-1zM872 442h1v1h-1zM908 442h1v1h-1zM595 443h1v1h-1zM621 443h1v1h-1zM705 443h1v1h-1zM727 443h1v1h-1zM762 443h1v1h-1zM772 443h1v1h-1zM820 443h1v1h-1zM844 443h1v1h-1zM872 443h1v1h-1zM907 443h1v1h-1zM596 444h1v1h-1zM620 444h1v1h-1zM705 444h1v1h-1zM727 444h1v1h-1zM763 444h1v1h-1zM771 444h1v1h-1zM821 444h1v1h-1zM844 444h1v1h-1zM873 444h1v1h-1zM907 444h1v1h-1zM596 445h1v1h-1zM619 445h1v1h-1zM705 445h1v1h-1zM727 445h1v1h-1zM764 445h1v1h-1zM770 445h1v1h-1zM822 445h1v1h-1zM844 445h1v1h-1zM874 445h1v1h-1zM886 445h3v1h-3zM906 445h1v1h-1zM597 446h1v1h-1zM618 446h1v1h-1zM705 446h1v1h-1zM727 446h1v1h-1zM765 446h1v1h-1zM770 446h1v1h-1zM822 446h1v1h-1zM843 446h1v1h-1zM874 446h1v1h-1zM884 446h2v1h-2zM889 446h3v1h-3zM906 446h1v1h-1zM598 447h1v1h-1zM617 447h1v1h-1zM705 447h1v1h-1zM727 447h1v1h-1zM766 447h1v1h-1zM769 447h1v1h-1zM823 447h1v1h-1zM843 447h1v1h-1zM875 447h1v1h-1zM881 447h3v1h-3zM892 447h2v1h-2zM905 447h1v1h-1zM599 448h2v1h-2zM616 448h1v1h-1zM706 448h1v1h-1zM727 448h1v1h-1zM768 448h1v1h-1zM824 448h1v1h-1zM842 448h1v1h-1zM876 448h1v1h-1zM878 448h3v1h-3zM894 448h2v1h-2zM904 448h1v1h-1zM601 449h1v1h-1zM615 449h1v1h-1zM706 449h1v1h-1zM727 449h1v1h-1zM767 449h1v1h-1zM825 449h1v1h-1zM842 449h1v1h-1zM877 449h1v1h-1zM896 449h2v1h-2zM903 449h1v1h-1zM602 450h1v1h-1zM614 450h1v1h-1zM706 450h1v1h-1zM726 450h1v1h-1zM826 450h1v1h-1zM841 450h1v1h-1zM898 450h1v1h-1zM902 450h1v1h-1zM603 451h1v1h-1zM611 451h3v1h-3zM706 451h1v1h-1zM726 451h1v1h-1zM827 451h1v1h-1zM841 451h1v1h-1zM899 451h1v1h-1zM901 451h1v1h-1zM604 452h1v1h-1zM608 452h3v1h-3zM706 452h1v1h-1zM726 452h1v1h-1zM829 452h1v1h-1zM840 452h2v1h-2zM900 452h1v1h-1zM605 453h3v1h-3zM707 453h1v1h-1zM726 453h1v1h-1zM830 453h3v1h-3zM838 453h2v1h-2zM707 454h1v1h-1zM726 454h1v1h-1zM833 454h2v1h-2zM836 454h2v1h-2zM707 455h1v1h-1zM726 455h1v1h-1zM835 455h1v1h-1zM707 456h1v1h-1zM726 456h1v1h-1zM707 457h1v1h-1zM725 457h1v1h-1zM707 458h1v1h-1zM725 458h1v1h-1zM708 459h1v1h-1zM725 459h1v1h-1zM708 460h1v1h-1zM725 460h1v1h-1zM708 461h1v1h-1zM725 461h1v1h-1zM708 462h1v1h-1zM724 462h1v1h-1zM708 463h1v1h-1zM724 463h1v1h-1zM709 464h1v1h-1zM724 464h1v1h-1zM709 465h1v1h-1zM724 465h1v1h-1zM709 466h1v1h-1zM724 466h1v1h-1zM709 467h1v1h-1zM723 467h1v1h-1zM709 468h1v1h-1zM723 468h1v1h-1zM710 469h1v1h-1zM723 469h1v1h-1zM710 470h1v1h-1zM723 470h1v1h-1zM710 471h1v1h-1zM723 471h1v1h-1zM710 472h1v1h-1zM722 472h1v1h-1zM710 473h1v1h-1zM722 473h1v1h-1zM711 474h1v1h-1zM722 474h1v1h-1zM711 475h1v1h-1zM722 475h1v1h-1zM711 476h1v1h-1zM722 476h1v1h-1zM711 477h1v1h-1zM721 477h1v1h-1zM711 478h1v1h-1zM721 478h1v1h-1zM712 479h1v1h-1zM721 479h1v1h-1zM712 480h1v1h-1zM720 480h1v1h-1zM712 481h1v1h-1zM720 481h1v1h-1zM713 482h1v1h-1zM719 482h1v1h-1zM713 483h1v1h-1zM719 483h1v1h-1zM714 484h1v1h-1zM719 484h1v1h-1zM714 485h1v1h-1zM718 485h1v1h-1zM715 486h1v1h-1zM718 486h1v1h-1zM715 487h1v1h-1zM717 487h1v1h-1zM716 488h2v1h-2zM716 489h1v1h-1z" fill="#ffa500"/>
<path d="M1267 87h2v1h-2zM1264 88h3v1h-3zM1263 89h1v1h-1zM1261 90h2v1h-2zM1260 91h1v1h-1zM1258 92h2v1h-2zM1256 93h2v1h-2zM1255 94h1v1h-1zM1253 95h2v1h-2zM1228 96h3v1h-3zM1251 96h2v1h-2zM1226 97h2v1h-2zM1231 97h2v1h-2zM1249 97h2v1h-2zM1224 98h2v1h-2zM1233 98h1v1h-1zM1247 98h2v1h-2zM1223 99h1v1h-1zM1234 99h3v1h-3zM1244 99h3v1h-3zM1222 100h1v1h-1zM1237 100h1v1h-1zM1239 100h5v1h-5zM1221 101h1v1h-1zM1238 101h1v1h-1zM1220 102h1v1h-1zM1219 103h1v1h-1zM1217 104h2v1h-2zM1215 105h2v1h-2zM1213 106h2v1h-2zM1211 107h2v1h-2zM1208 108h3v1h-3zM1206 109h2v1h-2zM1203 110h3v1h-3zM1201 111h2v1h-2zM1199 112h2v1h-2zM1197 113h2v1h-2zM1196 114h1v1h-1zM1194 115h2v1h-2zM1193 116h1v1h-1zM1191 117h2v1h-2zM1190 118h1v1h-1zM1189 119h1v1h-1zM1187 120h2v1h-2zM1186 121h1v1h-1zM1186 122h1v1h-1zM1185 123h1v1h-1zM1184 124h1v1h-1zM1183 125h1v1h-1zM1182 126h1v1h-1zM1181 127h1v1h-1zM1181 128h1v1h-1zM1180 129h1v1h-1zM1179 130h1v1h-1zM1178 131h1v1h-1zM1178 132h1v1h-1zM1177 133h1v1h-1zM1177 134h1v1h-1zM1177 135h1v1h-1zM1176 136h1v1h-1zM1176 137h1v1h-1zM1175 138h1v1h-1zM1175 139h1v1h-1zM1174 140h1v1h-1zM1174 141h1v1h-1zM1173 142h1v1h-1zM1173 143h1v1h-1zM1172 144h1v1h-1zM1172 145h1v1h-1zM1172 146h1v1h-1zM1171 147h1v1h-1zM1171 148h1v1h-1zM1170 149h1v1h-1zM1170 150h1v1h-1zM1169 151h1v1h-1zM1169 152h1v1h-1zM1169 153h1v1h-1zM1168 154h1v1h-1zM1168 155h1v1h-1zM1168 156h1v1h-1zM1167 157h1v1h-1zM1167 158h1v1h-1zM1166 159h1v1h-1zM1166 160h1v1h-1zM1166 161h1v1h-1zM1165 162h1v1h-1zM1165 163h1v1h-1zM1164 164h1v1h-1zM1164 165h1v1h-1zM1164 166h1v1h-1zM1163 167h1v1h-1zM1163 168h1v1h-1zM1163 169h1v1h-1zM1162 170h1v1h-1zM1162 171h1v1h-1zM1161 172h1v1h-1zM1161 173h1v1h-1zM1161 174h1v1h-1zM1160 175h1v1h-1zM1160 176h1v1h-1zM1160 177h1v1h-1zM1159 178h1v1h-1zM1159 179h1v1h-1zM1159 180h1v1h-1zM1158 181h1v1h-1zM1158 182h1v1h-1zM1158 183h1v1h-1zM1157 184h1v1h-1zM1157 185h1v1h-1zM1156 186h1v1h-1zM1156 187h1v1h-1zM1156 188h1v1h-1zM1155 189h1v1h-1zM1155 190h1v1h-1zM1155 191h1v1h-1zM1154 192h1v1h-1zM1154 193h1v1h-1zM1154 194h1v1h-1zM1153 195h1v1h-1zM1153 196h1v1h-1zM1153 197h1v1h-1zM1152 198h1v1h-1zM1152 199h1v1h-1zM1152 200h1v1h-1zM1151 201h1v1h-1zM1151 202h1v1h-1zM1151 203h1v1h-1zM1150 204h1v1h-1zM1150 205h1v1h-1zM1149 206h1v1h-1zM1149 207h1v1h-1zM1149 208h1v1h-1zM1148 209h1v1h-1zM1148 210h1v1h-1zM1147 211h1v1h-1zM1147 212h1v1h-1zM1147 213h1v1h-1zM1146 214h1v1h-1zM1146 215h1v1h-1zM1145 216h1v1h-1zM1145 217h1v1h-1zM1144 218h1v1h-1zM1144 219h1v1h-1zM1144 220h1v1h-1zM1143 221h1v1h-1zM1143 222h1v1h-1zM1142 223h1v1h-1zM1142 224h1v1h-1zM1142 225h1v1h-1zM1141 226h1v1h-1zM1141 227h1v1h-1zM1140 228h1v1h-1zM1140 229h1v1h-1zM1140 230h1v1h-1zM1139 231h1v1h-1zM1139 232h1v1h-1zM1138 233h1v1h-1zM1138 234h1v1h-1zM1137 235h1v1h-1zM1136 236h1v1h-1zM1136 237h1v1h-1zM1135 238h1v1h-1zM1135 239h1v1h-1zM1134 240h1v1h-1zM1134 241h1v1h-1zM1133 242h1v1h-1zM1133 243h1v1h-1zM1132 244h1v1h-1zM1132 245h1v1h-1zM1131 246h1v1h-1zM1130 247h1v1h-1zM1130 248h1v1h-1zM1129 249h1v1h-1zM1129 250h1v1h-1zM1128 251h1v1h-1zM1128 252h1v1h-1zM1127 253h1v1h-1zM1127 254h1v1h-1zM1126 255h1v1h-1zM1126 256h1v1h-1zM1125 257h1v1h-1zM1124 258h1v1h-1zM1123 259h1v1h-1zM1122 260h1v1h-1zM1121 261h1v1h-1zM1120 262h1v1h-1zM1120 263h1v1h-1zM1119 264h1v1h-1zM1118 265h1v1h-1zM1117 266h1v1h-1zM1116 267h1v1h-1zM1115 268h1v1h-1zM1114 269h1v1h-1zM1114 270h1v1h-1zM1113 271h1v1h-1zM1112 272h1v1h-1zM1111 273h1v1h-1zM1110 274h1v1h-1zM1110 275h1v1h-1zM1109 276h1v1h-1zM1108 277h1v1h-1zM1107 278h1v1h-1zM1107 279h1v1h-1zM1106 280h1v1h-1zM1105 281h1v1h-1zM1104 282h1v1h-1zM1104 283h1v1h-1zM1103 284h1v1h-1zM1102 285h1v1h-1zM1101 286h1v1h-1zM1100 287h1v1h-1zM1100 288h1v1h-1zM1011 289h4v1h-4zM1099 289h1v1h-1zM1008 290h3v1h-3zM1015 290h2v1h-2zM1098 290h1v1h-1zM1006 291h2v1h-2zM1017 291h1v1h-1zM1097 291h1v1h-1zM1005 292h1v1h-1zM1018 292h3v1h-3zM1096 292h1v1h-1zM1004 293h1v1h-1zM1021 293h1v1h-1zM1023 293h8v1h-8zM1094 293h2v1h-2zM1002 294h2v1h-2zM1022 294h1v1h-1zM1031 294h2v1h-2zM1093 294h1v1h-1zM1001 295h1v1h-1zM1033 295h2v1h-2zM1092 295h1v1h-1zM1000 296h1v1h-1zM1035 296h1v1h-1zM1091 296h1v1h-1zM999 297h1v1h-1zM1036 297h1v1h-1zM1082 297h9v1h-9zM998 298h1v1h-1zM1037 298h1v1h-1zM1079 298h3v1h-3zM998 299h1v1h-1zM1038 299h1v1h-1zM1077 299h2v1h-2zM997 300h1v1h-1zM1039 300h1v1h-1zM1075 300h2v1h-2zM996 301h1v1h-1zM1040 301h1v1h-1zM1073 301h2v1h-2zM996 302h1v1h-1zM1042 302h1v1h-1zM1070 302h3v1h-3zM995 303h1v1h-1zM1043 303h1v1h-1zM1067 303h3v1h-3zM994 304h1v1h-1zM1044 304h2v1h-2zM1064 304h3v1h-3zM994 305h1v1h-1zM1046 305h4v1h-4zM1057 305h7v1h-7zM993 306h1v1h-1zM1050 306h7v1h-7zM993 307h1v1h-1zM992 308h1v1h-1zM991 309h1v1h-1zM991 310h1v1h-1zM991 311h1v1h-1zM990 312h1v1h-1zM990 313h1v1h-1zM989 314h1v1h-1zM989 315h1v1h-1zM989 316h1v1h-1zM988 317h1v1h-1zM988 318h1v1h-1zM987 319h1v1h-1zM690 320h1v1h-1zM987 320h1v1h-1zM689 321h1v1h-1zM691 321h1v1h-1zM987 321h1v1h-1zM688 322h1v1h-1zM692 322h1v1h-1zM986 322h1v1h-1zM686 323h2v1h-2zM693 323h1v1h-1zM986 323h1v1h-1zM685 324h1v1h-1zM694 324h1v1h-1zM985 324h1v1h-1zM684 325h1v1h-1zM694 325h1v1h-1zM985 325h1v1h-1zM683 326h1v1h-1zM695 326h1v1h-1zM984 326h1v1h-1zM682 327h1v1h-1zM695 327h1v1h-1zM984 327h1v1h-1zM681 328h1v1h-1zM695 328h1v1h-1zM984 328h1v1h-1zM680 329h1v1h-1zM696 329h1v1h-1zM983 329h1v1h-1zM679 330h1v1h-1zM696 330h1v1h-1zM983 330h1v1h-1zM466 331h6v1h-6zM679 331h1v1h-1zM696 331h1v1h-1zM982 331h1v1h-1zM461 332h5v1h-5zM472 332h3v1h-3zM678 332h1v1h-1zM697 332h1v1h-1zM982 332h1v1h-1zM455 333h6v1h-6zM475 333h3v1h-3zM677 333h1v1h-1zM697 333h1v1h-1zM982 333h1v1h-1zM453 334h2v1h-2zM478 334h3v1h-3zM676 334h1v1h-1zM697 334h1v1h-1zM981 334h1v1h-1zM450 335h3v1h-3zM481 335h4v1h-4zM676 335h1v1h-1zM698 335h1v1h-1zM981 335h1v1h-1zM448 336h2v1h-2zM485 336h1v1h-1zM675 336h1v1h-1zM698 336h1v1h-1zM980 336h1v1h-1zM444 337h4v1h-4zM486 337h2v1h-2zM675 337h1v1h-1zM698 337h1v1h-1zM980 337h1v1h-1zM441 338h3v1h-3zM488 338h1v1h-1zM674 338h1v1h-1zM699 338h1v1h-1zM980 338h1v1h-1zM438 339h3v1h-3zM489 339h1v1h-1zM674 339h1v1h-1zM699 339h1v1h-1zM979 339h1v1h-1zM435 340h3v1h-3zM490 340h1v1h-1zM673 340h1v1h-1zM699 340h1v1h-1zM979 340h1v1h-1zM432 341h3v1h-3zM491 341h1v1h-1zM673 341h1v1h-1zM700 341h1v1h-1zM978 341h1v1h-1zM429 342h3v1h-3zM492 342h2v1h-2zM672 342h1v1h-1zM700 342h1v1h-1zM978 342h1v1h-1zM428 343h1v1h-1zM494 343h2v1h-2zM672 343h1v1h-1zM700 343h1v1h-1zM978 343h1v1h-1zM226 344h9v1h-9zM426 344h2v1h-2zM496 344h3v1h-3zM672 344h1v1h-1zM701 344h1v1h-1zM977 344h1v1h-1zM224 345h2v1h-2zM235 345h2v1h-2zM424 345h2v1h-2zM499 345h2v1h-2zM671 345h1v1h-1zM701 345h1v1h-1zM977 345h1v1h-1zM222 346h2v1h-2zM237 346h2v1h-2zM423 346h1v1h-1zM501 346h2v1h-2zM671 346h1v1h-1zM702 346h1v1h-1zM977 346h1v1h-1zM221 347h1v1h-1zM239 347h2v1h-2zM421 347h2v1h-2zM503 347h1v1h-1zM670 347h1v1h-1zM702 347h1v1h-1zM976 347h1v1h-1zM220 348h1v1h-1zM241 348h3v1h-3zM419 348h2v1h-2zM504 348h2v1h-2zM670 348h1v1h-1zM703 348h1v1h-1zM976 348h1v1h-1zM219 349h1v1h-1zM244 349h1v1h-1zM416 349h3v1h-3zM506 349h1v1h-1zM670 349h1v1h-1zM703 349h1v1h-1zM976 349h1v1h-1zM218 350h1v1h-1zM245 350h2v1h-2zM413 350h3v1h-3zM507 350h2v1h-2zM669 350h1v1h-1zM704 350h1v1h-1zM975 350h1v1h-1zM4 351h1v1h-1zM217 351h1v1h-1zM247 351h2v1h-2zM408 351h5v1h-5zM509 351h1v1h-1zM669 351h1v1h-1zM704 351h1v1h-1zM975 351h1v1h-1zM5 352h1v1h-1zM216 352h1v1h-1zM249 352h1v1h-1zM403 352h5v1h-5zM510 352h2v1h-2zM668 352h1v1h-1zM705 352h1v1h-1zM974 352h1v1h-1zM6 353h1v1h-1zM215 353h1v1h-1zM250 353h2v1h-2zM388 353h8v1h-8zM400 353h3v1h-3zM512 353h2v1h-2zM668 353h1v1h-1zM705 353h1v1h-1zM974 353h1v1h-1zM7 354h1v1h-1zM215 354h1v1h-1zM252 354h2v1h-2zM383 354h5v1h-5zM396 354h4v1h-4zM514 354h2v1h-2zM668 354h1v1h-1zM706 354h1v1h-1zM974 354h1v1h-1zM8 355h1v1h-1zM212 355h1v1h-1zM214 355h1v1h-1zM254 355h3v1h-3zM382 355h1v1h-1zM516 355h3v1h-3zM667 355h1v1h-1zM707 355h1v1h-1zM973 355h1v1h-1zM9 356h1v1h-1zM206 356h6v1h-6zM257 356h2v1h-2zM380 356h2v1h-2zM519 356h1v1h-1zM667 356h1v1h-1zM707 356h1v1h-1zM973 356h1v1h-1zM10 357h2v1h-2zM202 357h4v1h-4zM259 357h3v1h-3zM379 357h1v1h-1zM520 357h1v1h-1zM667 357h1v1h-1zM707 357h1v1h-1zM973 357h1v1h-1zM12 358h1v1h-1zM200 358h2v1h-2zM262 358h2v1h-2zM378 358h1v1h-1zM521 358h1v1h-1zM666 358h1v1h-1zM708 358h1v1h-1zM972 358h1v1h-1zM13 359h1v1h-1zM199 359h1v1h-1zM264 359h2v1h-2zM376 359h2v1h-2zM522 359h2v1h-2zM666 359h1v1h-1zM708 359h1v1h-1zM972 359h1v1h-1zM14 360h1v1h-1zM198 360h1v1h-1zM266 360h1v1h-1zM375 360h1v1h-1zM524 360h1v1h-1zM665 360h1v1h-1zM708 360h1v1h-1zM971 360h1v1h-1zM15 361h2v1h-2zM196 361h2v1h-2zM267 361h2v1h-2zM374 361h1v1h-1zM525 361h1v1h-1zM665 361h1v1h-1zM708 361h1v1h-1zM971 361h1v1h-1zM17 362h1v1h-1zM195 362h1v1h-1zM269 362h2v1h-2zM373 362h1v1h-1zM526 362h2v1h-2zM665 362h1v1h-1zM709 362h1v1h-1zM970 362h1v1h-1zM18 363h2v1h-2zM194 363h1v1h-1zM271 363h2v1h-2zM371 363h2v1h-2zM528 363h2v1h-2zM664 363h1v1h-1zM709 363h1v1h-1zM970 363h1v1h-1zM20 364h1v1h-1zM192 364h2v1h-2zM273 364h2v1h-2zM370 364h1v1h-1zM530 364h1v1h-1zM664 364h1v1h-1zM709 364h1v1h-1zM969 364h1v1h-1zM21 365h2v1h-2zM191 365h1v1h-1zM275 365h2v1h-2zM369 365h1v1h-1zM531 365h2v1h-2zM664 365h1v1h-1zM709 365h1v1h-1zM969 365h1v1h-1zM23 366h1v1h-1zM190 366h1v1h-1zM277 366h1v1h-1zM368 366h1v1h-1zM533 366h2v1h-2zM663 366h1v1h-1zM710 366h1v1h-1zM969 366h1v1h-1zM24 367h3v1h-3zM189 367h1v1h-1zM278 367h2v1h-2zM367 367h1v1h-1zM535 367h1v1h-1zM663 367h1v1h-1zM710 367h1v1h-1zM968 367h1v1h-1zM27 368h3v1h-3zM188 368h1v1h-1zM280 368h2v1h-2zM366 368h1v1h-1zM536 368h2v1h-2zM663 368h1v1h-1zM710 368h1v1h-1zM968 368h1v1h-1zM30 369h3v1h-3zM187 369h1v1h-1zM282 369h1v1h-1zM364 369h2v1h-2zM538 369h1v1h-1zM662 369h1v1h-1zM710 369h1v1h-1zM967 369h1v1h-1zM33 370h2v1h-2zM186 370h1v1h-1zM283 370h2v1h-2zM363 370h1v1h-1zM539 370h7v1h-7zM662 370h1v1h-1zM711 370h1v1h-1zM967 370h1v1h-1zM35 371h2v1h-2zM185 371h1v1h-1zM285 371h1v1h-1zM359 371h4v1h-4zM546 371h5v1h-5zM662 371h1v1h-1zM711 371h1v1h-1zM966 371h1v1h-1zM37 372h2v1h-2zM184 372h1v1h-1zM286 372h2v1h-2zM356 372h3v1h-3zM551 372h1v1h-1zM661 372h1v1h-1zM711 372h1v1h-1zM966 372h1v1h-1zM39 373h2v1h-2zM81 373h1v1h-1zM183 373h1v1h-1zM288 373h1v1h-1zM292 373h6v1h-6zM354 373h2v1h-2zM552 373h1v1h-1zM661 373h1v1h-1zM711 373h1v1h-1zM965 373h1v1h-1zM41 374h1v1h-1zM77 374h4v1h-4zM82 374h5v1h-5zM182 374h1v1h-1zM289 374h3v1h-3zM298 374h4v1h-4zM330 374h18v1h-18zM351 374h3v1h-3zM553 374h2v1h-2zM661 374h1v1h-1zM712 374h1v1h-1zM965 374h1v1h-1zM42 375h2v1h-2zM73 375h4v1h-4zM87 375h5v1h-5zM181 375h1v1h-1zM302 375h7v1h-7zM327 375h3v1h-3zM348 375h3v1h-3zM555 375h1v1h-1zM660 375h1v1h-1zM712 375h1v1h-1zM965 375h1v1h-1zM44 376h2v1h-2zM71 376h2v1h-2zM92 376h2v1h-2zM180 376h1v1h-1zM309 376h18v1h-18zM556 376h1v1h-1zM660 376h1v1h-1zM712 376h1v1h-1zM964 376h1v1h-1zM46 377h2v1h-2zM70 377h1v1h-1zM94 377h2v1h-2zM179 377h1v1h-1zM557 377h1v1h-1zM660 377h1v1h-1zM712 377h1v1h-1zM964 377h1v1h-1zM48 378h2v1h-2zM68 378h2v1h-2zM96 378h2v1h-2zM178 378h1v1h-1zM558 378h1v1h-1zM659 378h1v1h-1zM713 378h1v1h-1zM963 378h1v1h-1zM50 379h3v1h-3zM66 379h2v1h-2zM98 379h2v1h-2zM178 379h1v1h-1zM559 379h1v1h-1zM659 379h1v1h-1zM713 379h1v1h-1zM963 379h1v1h-1zM53 380h3v1h-3zM60 380h6v1h-6zM100 380h2v1h-2zM177 380h1v1h-1zM560 380h2v1h-2zM659 380h1v1h-1zM713 380h1v1h-1zM962 380h1v1h-1zM56 381h4v1h-4zM102 381h1v1h-1zM176 381h1v1h-1zM562 381h2v1h-2zM659 381h1v1h-1zM713 381h1v1h-1zM962 381h1v1h-1zM103 382h1v1h-1zM176 382h1v1h-1zM564 382h2v1h-2zM658 382h1v1h-1zM714 382h1v1h-1zM961 382h1v1h-1zM104 383h2v1h-2zM175 383h1v1h-1zM566 383h1v1h-1zM658 383h1v1h-1zM714 383h1v1h-1zM961 383h1v1h-1zM106 384h1v1h-1zM174 384h1v1h-1zM567 384h2v1h-2zM658 384h1v1h-1zM714 384h1v1h-1zM960 384h1v1h-1zM107 385h1v1h-1zM174 385h1v1h-1zM569 385h2v1h-2zM657 385h1v1h-1zM714 385h1v1h-1zM960 385h1v1h-1zM108 386h1v1h-1zM173 386h1v1h-1zM571 386h1v1h-1zM657 386h1v1h-1zM715 386h1v1h-1zM960 386h1v1h-1zM109 387h1v1h-1zM172 387h1v1h-1zM572 387h2v1h-2zM657 387h1v1h-1zM715 387h1v1h-1zM959 387h1v1h-1zM110 388h2v1h-2zM172 388h1v1h-1zM574 388h1v1h-1zM657 388h1v1h-1zM715 388h1v1h-1zM959 388h1v1h-1zM112 389h1v1h-1zM170 389h1v1h-1zM575 389h1v1h-1zM656 389h1v1h-1zM715 389h1v1h-1zM958 389h1v1h-1zM113 390h1v1h-1zM169 390h1v1h-1zM576 390h2v1h-2zM656 390h1v1h-1zM716 390h1v1h-1zM958 390h1v1h-1zM114 391h1v1h-1zM168 391h1v1h-1zM578 391h1v1h-1zM656 391h1v1h-1zM716 391h1v1h-1zM957 391h1v1h-1zM115 392h1v1h-1zM167 392h1v1h-1zM579 392h1v1h-1zM656 392h1v1h-1zM716 392h1v1h-1zM957 392h1v1h-1zM116 393h1v1h-1zM166 393h1v1h-1zM580 393h1v1h-1zM655 393h1v1h-1zM717 393h1v1h-1zM956 393h1v1h-1zM164 394h2v1h-2zM580 394h1v1h-1zM655 394h1v1h-1zM717 394h1v1h-1zM956 394h1v1h-1zM117 395h3v1h-3zM162 395h2v1h-2zM581 395h1v1h-1zM655 395h1v1h-1zM717 395h1v1h-1zM955 395h1v1h-1zM120 396h4v1h-4zM161 396h1v1h-1zM582 396h1v1h-1zM654 396h1v1h-1zM718 396h1v1h-1zM955 396h1v1h-1zM124 397h3v1h-3zM159 397h2v1h-2zM583 397h1v1h-1zM654 397h1v1h-1zM718 397h1v1h-1zM954 397h1v1h-1zM127 398h4v1h-4zM157 398h2v1h-2zM584 398h1v1h-1zM654 398h1v1h-1zM718 398h1v1h-1zM954 398h1v1h-1zM131 399h1v1h-1zM156 399h1v1h-1zM584 399h1v1h-1zM654 399h1v1h-1zM719 399h1v1h-1zM953 399h1v1h-1zM132 400h2v1h-2zM154 400h2v1h-2zM585 400h1v1h-1zM653 400h1v1h-1zM719 400h1v1h-1zM952 400h1v1h-1zM134 401h2v1h-2zM153 401h1v1h-1zM586 401h1v1h-1zM653 401h1v1h-1zM719 401h1v1h-1zM952 401h1v1h-1zM136 402h2v1h-2zM151 402h2v1h-2zM587 402h1v1h-1zM653 402h1v1h-1zM720 402h1v1h-1zM951 402h1v1h-1zM138 403h6v1h-6zM150 403h1v1h-1zM588 403h1v1h-1zM653 403h1v1h-1zM720 403h1v1h-1zM951 403h1v1h-1zM144 404h6v1h-6zM588 404h1v1h-1zM652 404h1v1h-1zM720 404h1v1h-1zM950 404h1v1h-1zM589 405h1v1h-1zM652 405h1v1h-1zM721 405h1v1h-1zM950 405h1v1h-1zM590 406h1v1h-1zM652 406h1v1h-1zM721 406h1v1h-1zM949 406h1v1h-1zM591 407h1v1h-1zM651 407h1v1h-1zM721 407h1v1h-1zM948 407h1v1h-1zM591 408h1v1h-1zM651 408h1v1h-1zM721 408h1v1h-1zM948 408h1v1h-1zM592 409h1v1h-1zM650 409h1v1h-1zM722 409h1v1h-1zM947 409h1v1h-1zM592 410h1v1h-1zM650 410h1v1h-1zM722 410h1v1h-1zM947 410h1v1h-1zM593 411h1v1h-1zM649 411h1v1h-1zM722 411h1v1h-1zM946 411h1v1h-1zM593 412h1v1h-1zM649 412h1v1h-1zM723 412h1v1h-1zM946 412h1v1h-1zM594 413h1v1h-1zM648 413h1v1h-1zM723 413h1v1h-1zM945 413h1v1h-1zM595 414h1v1h-1zM648 414h1v1h-1zM723 414h1v1h-1zM774 414h8v1h-8zM944 414h1v1h-1zM595 415h1v1h-1zM647 415h1v1h-1zM724 415h1v1h-1zM773 415h1v1h-1zM782 415h1v1h-1zM944 415h1v1h-1zM596 416h1v1h-1zM647 416h1v1h-1zM725 416h1v1h-1zM772 416h1v1h-1zM783 416h2v1h-2zM943 416h1v1h-1zM596 417h1v1h-1zM647 417h1v1h-1zM726 417h1v1h-1zM770 417h2v1h-2zM785 417h1v1h-1zM943 417h1v1h-1zM597 418h1v1h-1zM646 418h1v1h-1zM727 418h1v1h-1zM769 418h1v1h-1zM786 418h1v1h-1zM942 418h1v1h-1zM597 419h1v1h-1zM646 419h1v1h-1zM727 419h1v1h-1zM768 419h1v1h-1zM787 419h2v1h-2zM941 419h1v1h-1zM598 420h1v1h-1zM645 420h1v1h-1zM728 420h1v1h-1zM767 420h1v1h-1zM789 420h1v1h-1zM941 420h1v1h-1zM598 421h1v1h-1zM645 421h1v1h-1zM729 421h1v1h-1zM736 421h1v1h-1zM766 421h1v1h-1zM790 421h1v1h-1zM940 421h1v1h-1zM599 422h1v1h-1zM644 422h1v1h-1zM730 422h6v1h-6zM737 422h2v1h-2zM765 422h1v1h-1zM791 422h1v1h-1zM939 422h1v1h-1zM600 423h1v1h-1zM644 423h1v1h-1zM739 423h2v1h-2zM764 423h1v1h-1zM792 423h1v1h-1zM939 423h1v1h-1zM601 424h1v1h-1zM643 424h1v1h-1zM741 424h2v1h-2zM763 424h1v1h-1zM793 424h1v1h-1zM938 424h1v1h-1zM602 425h1v1h-1zM643 425h1v1h-1zM743 425h1v1h-1zM763 425h1v1h-1zM793 425h1v1h-1zM938 425h1v1h-1zM602 426h1v1h-1zM642 426h1v1h-1zM743 426h1v1h-1zM762 426h1v1h-1zM794 426h1v1h-1zM816 426h1v1h-1zM937 426h1v1h-1zM603 427h1v1h-1zM642 427h1v1h-1zM744 427h1v1h-1zM761 427h1v1h-1zM795 427h1v1h-1zM814 427h2v1h-2zM817 427h3v1h-3zM936 427h1v1h-1zM604 428h1v1h-1zM641 428h1v1h-1zM745 428h1v1h-1zM760 428h1v1h-1zM796 428h1v1h-1zM810 428h4v1h-4zM820 428h3v1h-3zM935 428h1v1h-1zM605 429h1v1h-1zM641 429h1v1h-1zM746 429h1v1h-1zM758 429h2v1h-2zM797 429h1v1h-1zM808 429h2v1h-2zM823 429h1v1h-1zM934 429h1v1h-1zM606 430h1v1h-1zM640 430h1v1h-1zM747 430h2v1h-2zM757 430h1v1h-1zM798 430h6v1h-6zM805 430h3v1h-3zM824 430h1v1h-1zM932 430h2v1h-2zM607 431h1v1h-1zM640 431h1v1h-1zM749 431h2v1h-2zM755 431h2v1h-2zM804 431h1v1h-1zM825 431h2v1h-2zM931 431h1v1h-1zM608 432h2v1h-2zM639 432h1v1h-1zM751 432h2v1h-2zM754 432h1v1h-1zM827 432h1v1h-1zM930 432h1v1h-1zM610 433h1v1h-1zM639 433h1v1h-1zM753 433h1v1h-1zM828 433h1v1h-1zM929 433h1v1h-1zM611 434h1v1h-1zM638 434h1v1h-1zM829 434h1v1h-1zM927 434h2v1h-2zM612 435h1v1h-1zM637 435h1v1h-1zM830 435h2v1h-2zM855 435h7v1h-7zM882 435h6v1h-6zM926 435h1v1h-1zM613 436h2v1h-2zM636 436h1v1h-1zM832 436h1v1h-1zM853 436h2v1h-2zM862 436h3v1h-3zM876 436h6v1h-6zM888 436h3v1h-3zM924 436h2v1h-2zM615 437h1v1h-1zM635 437h1v1h-1zM833 437h2v1h-2zM850 437h3v1h-3zM865 437h2v1h-2zM871 437h5v1h-5zM891 437h3v1h-3zM923 437h1v1h-1zM616 438h1v1h-1zM634 438h1v1h-1zM835 438h1v1h-1zM848 438h2v1h-2zM867 438h4v1h-4zM894 438h2v1h-2zM921 438h2v1h-2zM617 439h3v1h-3zM633 439h1v1h-1zM836 439h3v1h-3zM845 439h3v1h-3zM896 439h3v1h-3zM920 439h1v1h-1zM620 440h3v1h-3zM630 440h3v1h-3zM839 440h6v1h-6zM899 440h2v1h-2zM918 440h2v1h-2zM623 441h2v1h-2zM626 441h4v1h-4zM901 441h2v1h-2zM916 441h2v1h-2zM625 442h1v1h-1zM903 442h2v1h-2zM913 442h3v1h-3zM905 443h2v1h-2zM911 443h2v1h-2zM907 444h1v1h-1zM909 444h2v1h-2zM908 445h1v1h-1z" fill="#ff0000"/>
<path d="M1267 98h2v1h-2zM1265 99h2v1h-2zM1263 100h2v1h-2zM1261 101h2v1h-2zM1260 102h1v1h-1zM1258 103h2v1h-2zM1256 104h2v1h-2zM1255 105h1v1h-1zM1254 106h1v1h-1zM1253 107h1v1h-1zM1252 108h1v1h-1zM1251 109h1v1h-1zM1250 110h1v1h-1zM1249 111h1v1h-1zM1247 112h2v1h-2zM1246 113h1v1h-1zM1245 114h1v1h-1zM1243 115h2v1h-2zM1242 116h1v1h-1zM1241 117h1v1h-1zM1240 118h1v1h-1zM1239 119h1v1h-1zM1238 120h1v1h-1zM1237 121h1v1h-1zM1236 122h1v1h-1zM1234 123h2v1h-2zM1233 124h1v1h-1zM1232 125h1v1h-1zM1232 126h1v1h-1zM1231 127h1v1h-1zM1230 128h1v1h-1zM1229 129h1v1h-1zM1228 130h1v1h-1zM1228 131h1v1h-1zM1227 132h1v1h-1zM1226 133h1v1h-1zM1225 134h1v1h-1zM1225 135h1v1h-1zM1224 136h1v1h-1zM1223 137h1v1h-1zM1222 138h1v1h-1zM1222 139h1v1h-1zM1221 140h1v1h-1zM1220 141h1v1h-1zM1220 142h1v1h-1zM1219 143h1v1h-1zM1218 144h1v1h-1zM1218 145h1v1h-1zM1217 146h1v1h-1zM1216 147h1v1h-1zM1216 148h1v1h-1zM1215 149h1v1h-1zM1214 150h1v1h-1zM1214 151h1v1h-1zM1213 152h1v1h-1zM1212 153h1v1h-1zM1212 154h1v1h-1zM1211 155h1v1h-1zM1210 156h1v1h-1zM1210 157h1v1h-1zM1209 158h1v1h-1zM1208 159h1v1h-1zM1208 160h1v1h-1zM1207 161h1v1h-1zM1206 162h1v1h-1zM1206 163h1v1h-1zM1205 164h1v1h-1zM1204 165h1v1h-1zM1204 166h1v1h-1zM1203 167h1v1h-1zM1202 168h1v1h-1zM1202 169h1v1h-1zM1201 170h1v1h-1zM1200 171h1v1h-1zM1200 172h1v1h-1zM1199 173h1v1h-1zM1198 174h1v1h-1zM1198 175h1v1h-1zM1197 176h1v1h-1zM1196 177h1v1h-1zM1196 178h1v1h-1zM1195 179h1v1h-1zM1194 180h1v1h-1zM1194 181h1v1h-1zM1193 182h1v1h-1zM1192 183h1v1h-1zM1192 184h1v1h-1zM1191 185h1v1h-1zM1190 186h1v1h-1zM1190 187h1v1h-1zM1189 188h1v1h-1zM1188 189h1v1h-1zM1188 190h1v1h-1zM1187 191h1v1h-1zM1186 192h1v1h-1zM1186 193h1v1h-1zM1185 194h1v1h-1zM1185 195h1v1h-1zM1184 196h1v1h-1zM1183 197h1v1h-1zM1183 198h1v1h-1zM1182 199h1v1h-1zM1182 200h1v1h-1zM1181 201h1v1h-1zM1180 202h1v1h-1zM1180 203h1v1h-1zM1179 204h1v1h-1zM1179 205h1v1h-1zM1178 206h1v1h-1zM1177 207h1v1h-1zM1177 208h1v1h-1zM1176 209h1v1h-1zM1176 210h1v1h-1zM1175 211h1v1h-1zM1174 212h1v1h-1zM1174 213h1v1h-1zM1173 214h1v1h-1zM1173 215h1v1h-1zM1172 216h1v1h-1zM1171 217h1v1h-1zM1171 218h1v1h-1zM1170 219h1v1h-1zM1170 220h1v1h-1zM1169 221h1v1h-1zM1168 222h1v1h-1zM1168 223h1v1h-1zM1167 224h1v1h-1zM1166 225h1v1h-1zM1166 226h1v1h-1zM1165 227h1v1h-1zM1164 228h1v1h-1zM1164 229h1v1h-1zM1163 230h1v1h-1zM1162 231h1v1h-1zM1162 232h1v1h-1zM1161 233h1v1h-1zM1160 234h1v1h-1zM1160 235h1v1h-1zM1159 236h1v1h-1zM1158 237h1v1h-1zM1158 238h1v1h-1zM1157 239h1v1h-1zM1157 240h1v1h-1zM1156 241h1v1h-1zM1155 242h1v1h-1zM1155 243h1v1h-1zM1154 244h1v1h-1zM1153 245h1v1h-1zM1153 246h1v1h-1zM1152 247h1v1h-1zM1152 248h1v1h-1zM1151 249h1v1h-1zM1150 250h1v1h-1zM1150 251h1v1h-1zM1149 252h1v1h-1zM1149 253h1v1h-1zM1148 254h1v1h-1zM1147 255h1v1h-1zM1147 256h1v1h-1zM1146 257h1v1h-1zM1146 258h1v1h-1zM1145 259h1v1h-1zM1144 260h1v1h-1zM1143 261h1v1h-1zM1143 262h1v1h-1zM1142 263h1v1h-1zM1141 264h1v1h-1zM1141 265h1v1h-1zM1140 266h1v1h-1zM1139 267h1v1h-1zM1139 268h1v1h-1zM1138 269h1v1h-1zM1137 270h1v1h-1zM1137 271h1v1h-1zM1136 272h1v1h-1zM1135 273h1v1h-1zM1134 274h2v1h-2zM1133 275h1v1h-1zM1132 276h1v1h-1zM1131 277h1v1h-1zM1130 278h1v1h-1zM1129 279h1v1h-1zM1128 280h1v1h-1zM1127 281h1v1h-1zM1126 282h1v1h-1zM1125 283h1v1h-1zM1124 284h1v1h-1zM1122 285h2v1h-2zM1121 286h1v1h-1zM1119 287h2v1h-2zM1117 288h2v1h-2zM1116 289h1v1h-1zM1114 290h2v1h-2zM1112 291h2v1h-2zM1111 292h1v1h-1zM1105 293h6v1h-6zM1093 294h12v1h-12zM1078 295h15v1h-15zM1076 296h2v1h-2zM1074 297h2v1h-2zM1072 298h2v1h-2zM1070 299h2v1h-2zM1067 300h3v1h-3zM1065 301h2v1h-2zM1062 302h3v1h-3zM1060 303h2v1h-2zM1058 304h2v1h-2zM1057 305h1v1h-1zM1056 306h1v1h-1zM1055 307h1v1h-1zM1054 308h1v1h-1zM1053 309h1v1h-1zM1051 310h2v1h-2zM1050 311h1v1h-1zM1049 312h1v1h-1zM1049 313h1v1h-1zM1048 314h1v1h-1zM1047 315h1v1h-1zM1046 316h1v1h-1zM1045 317h1v1h-1zM1044 318h1v1h-1zM1043 319h1v1h-1zM1042 320h1v1h-1zM1041 321h1v1h-1zM1039 322h2v1h-2zM1038 323h1v1h-1zM1037 324h1v1h-1zM1036 325h1v1h-1zM1035 326h1v1h-1zM1034 327h1v1h-1zM1033 328h1v1h-1zM1032 329h1v1h-1zM1031 330h1v1h-1zM1030 331h1v1h-1zM1029 332h1v1h-1zM1028 333h1v1h-1zM1027 334h1v1h-1zM1026 335h1v1h-1zM1025 336h1v1h-1zM1024 337h1v1h-1zM1023 338h1v1h-1zM1022 339h1v1h-1zM483 340h1v1h-1zM1021 340h1v1h-1zM4 341h1v1h-1zM475 341h8v1h-8zM484 341h13v1h-13zM1020 341h1v1h-1zM5 342h2v1h-2zM468 342h7v1h-7zM497 342h8v1h-8zM1019 342h1v1h-1zM7 343h2v1h-2zM463 343h5v1h-5zM505 343h7v1h-7zM1018 343h1v1h-1zM9 344h2v1h-2zM456 344h7v1h-7zM512 344h6v1h-6zM1017 344h1v1h-1zM11 345h2v1h-2zM449 345h7v1h-7zM518 345h4v1h-4zM1016 345h1v1h-1zM13 346h3v1h-3zM447 346h2v1h-2zM522 346h3v1h-3zM1015 346h1v1h-1zM16 347h3v1h-3zM444 347h3v1h-3zM525 347h3v1h-3zM1014 347h1v1h-1zM19 348h2v1h-2zM442 348h2v1h-2zM528 348h4v1h-4zM1013 348h1v1h-1zM21 349h3v1h-3zM439 349h3v1h-3zM532 349h3v1h-3zM1012 349h1v1h-1zM24 350h8v1h-8zM436 350h3v1h-3zM535 350h4v1h-4zM1011 350h1v1h-1zM32 351h5v1h-5zM434 351h2v1h-2zM539 351h4v1h-4zM1010 351h1v1h-1zM37 352h2v1h-2zM433 352h1v1h-1zM543 352h2v1h-2zM1010 352h1v1h-1zM39 353h2v1h-2zM431 353h2v1h-2zM545 353h2v1h-2zM1009 353h1v1h-1zM41 354h2v1h-2zM430 354h1v1h-1zM547 354h3v1h-3zM1008 354h1v1h-1zM43 355h3v1h-3zM428 355h2v1h-2zM550 355h1v1h-1zM1007 355h1v1h-1zM46 356h1v1h-1zM285 356h1v1h-1zM426 356h2v1h-2zM551 356h2v1h-2zM1006 356h1v1h-1zM47 357h2v1h-2zM283 357h2v1h-2zM286 357h6v1h-6zM425 357h1v1h-1zM553 357h2v1h-2zM1006 357h1v1h-1zM49 358h2v1h-2zM279 358h4v1h-4zM292 358h5v1h-5zM423 358h2v1h-2zM555 358h1v1h-1zM1005 358h1v1h-1zM51 359h1v1h-1zM259 359h20v1h-20zM297 359h2v1h-2zM421 359h2v1h-2zM556 359h2v1h-2zM1004 359h1v1h-1zM52 360h3v1h-3zM250 360h9v1h-9zM299 360h3v1h-3zM419 360h2v1h-2zM558 360h2v1h-2zM1003 360h1v1h-1zM55 361h2v1h-2zM245 361h5v1h-5zM302 361h3v1h-3zM417 361h2v1h-2zM560 361h1v1h-1zM1002 361h1v1h-1zM57 362h3v1h-3zM241 362h4v1h-4zM305 362h2v1h-2zM411 362h6v1h-6zM561 362h2v1h-2zM1002 362h1v1h-1zM60 363h2v1h-2zM238 363h3v1h-3zM307 363h3v1h-3zM405 363h6v1h-6zM563 363h2v1h-2zM1001 363h1v1h-1zM62 364h3v1h-3zM236 364h2v1h-2zM310 364h2v1h-2zM387 364h18v1h-18zM565 364h1v1h-1zM1000 364h1v1h-1zM65 365h3v1h-3zM233 365h3v1h-3zM312 365h2v1h-2zM385 365h2v1h-2zM566 365h2v1h-2zM999 365h1v1h-1zM68 366h3v1h-3zM231 366h2v1h-2zM314 366h2v1h-2zM382 366h3v1h-3zM568 366h2v1h-2zM998 366h1v1h-1zM71 367h3v1h-3zM230 367h1v1h-1zM316 367h8v1h-8zM379 367h3v1h-3zM570 367h1v1h-1zM998 367h1v1h-1zM74 368h3v1h-3zM228 368h2v1h-2zM324 368h10v1h-10zM377 368h2v1h-2zM571 368h1v1h-1zM997 368h1v1h-1zM77 369h4v1h-4zM227 369h1v1h-1zM334 369h7v1h-7zM373 369h4v1h-4zM572 369h2v1h-2zM996 369h1v1h-1zM81 370h4v1h-4zM225 370h2v1h-2zM341 370h3v1h-3zM370 370h3v1h-3zM574 370h1v1h-1zM995 370h1v1h-1zM85 371h4v1h-4zM224 371h1v1h-1zM344 371h3v1h-3zM366 371h4v1h-4zM575 371h2v1h-2zM994 371h1v1h-1zM89 372h4v1h-4zM223 372h1v1h-1zM347 372h3v1h-3zM363 372h3v1h-3zM577 372h1v1h-1zM993 372h1v1h-1zM93 373h2v1h-2zM221 373h2v1h-2zM350 373h2v1h-2zM358 373h5v1h-5zM578 373h2v1h-2zM993 373h1v1h-1zM95 374h2v1h-2zM220 374h1v1h-1zM352 374h6v1h-6zM580 374h1v1h-1zM992 374h1v1h-1zM97 375h2v1h-2zM218 375h2v1h-2zM581 375h1v1h-1zM991 375h1v1h-1zM99 376h3v1h-3zM217 376h1v1h-1zM582 376h1v1h-1zM745 376h2v1h-2zM991 376h1v1h-1zM102 377h2v1h-2zM213 377h4v1h-4zM583 377h1v1h-1zM742 377h3v1h-3zM747 377h2v1h-2zM990 377h1v1h-1zM104 378h2v1h-2zM210 378h3v1h-3zM584 378h1v1h-1zM737 378h5v1h-5zM749 378h2v1h-2zM989 378h1v1h-1zM106 379h1v1h-1zM207 379h3v1h-3zM585 379h2v1h-2zM736 379h1v1h-1zM751 379h2v1h-2zM989 379h1v1h-1zM107 380h2v1h-2zM203 380h4v1h-4zM587 380h1v1h-1zM734 380h2v1h-2zM753 380h2v1h-2zM988 380h1v1h-1zM109 381h1v1h-1zM195 381h8v1h-8zM588 381h1v1h-1zM733 381h1v1h-1zM755 381h1v1h-1zM987 381h1v1h-1zM110 382h2v1h-2zM190 382h5v1h-5zM589 382h1v1h-1zM693 382h3v1h-3zM731 382h2v1h-2zM756 382h1v1h-1zM987 382h1v1h-1zM112 383h2v1h-2zM186 383h4v1h-4zM590 383h1v1h-1zM688 383h5v1h-5zM696 383h3v1h-3zM730 383h1v1h-1zM757 383h2v1h-2zM986 383h1v1h-1zM114 384h2v1h-2zM182 384h4v1h-4zM591 384h1v1h-1zM684 384h4v1h-4zM699 384h2v1h-2zM728 384h2v1h-2zM759 384h1v1h-1zM985 384h1v1h-1zM116 385h2v1h-2zM179 385h3v1h-3zM592 385h1v1h-1zM682 385h2v1h-2zM701 385h2v1h-2zM727 385h1v1h-1zM760 385h1v1h-1zM985 385h1v1h-1zM118 386h2v1h-2zM176 386h3v1h-3zM593 386h1v1h-1zM679 386h3v1h-3zM703 386h3v1h-3zM725 386h2v1h-2zM761 386h1v1h-1zM984 386h1v1h-1zM120 387h1v1h-1zM173 387h3v1h-3zM594 387h1v1h-1zM677 387h2v1h-2zM706 387h2v1h-2zM722 387h3v1h-3zM762 387h1v1h-1zM983 387h1v1h-1zM121 388h8v1h-8zM130 388h17v1h-17zM170 388h3v1h-3zM595 388h1v1h-1zM674 388h3v1h-3zM708 388h3v1h-3zM720 388h2v1h-2zM763 388h1v1h-1zM982 388h1v1h-1zM129 389h1v1h-1zM147 389h12v1h-12zM167 389h3v1h-3zM596 389h1v1h-1zM672 389h2v1h-2zM711 389h2v1h-2zM718 389h2v1h-2zM764 389h1v1h-1zM981 389h1v1h-1zM159 390h8v1h-8zM597 390h1v1h-1zM671 390h1v1h-1zM713 390h2v1h-2zM716 390h2v1h-2zM765 390h1v1h-1zM981 390h1v1h-1zM598 391h1v1h-1zM670 391h1v1h-1zM715 391h1v1h-1zM766 391h1v1h-1zM980 391h1v1h-1zM599 392h1v1h-1zM669 392h1v1h-1zM767 392h1v1h-1zM979 392h1v1h-1zM600 393h1v1h-1zM668 393h1v1h-1zM768 393h2v1h-2zM978 393h1v1h-1zM601 394h2v1h-2zM667 394h1v1h-1zM770 394h1v1h-1zM978 394h1v1h-1zM603 395h1v1h-1zM666 395h1v1h-1zM771 395h1v1h-1zM977 395h1v1h-1zM604 396h1v1h-1zM664 396h2v1h-2zM772 396h1v1h-1zM976 396h1v1h-1zM605 397h1v1h-1zM663 397h1v1h-1zM773 397h2v1h-2zM975 397h1v1h-1zM606 398h1v1h-1zM662 398h1v1h-1zM775 398h1v1h-1zM974 398h1v1h-1zM607 399h1v1h-1zM661 399h1v1h-1zM776 399h1v1h-1zM973 399h1v1h-1zM608 400h1v1h-1zM659 400h2v1h-2zM777 400h1v1h-1zM972 400h1v1h-1zM609 401h2v1h-2zM658 401h1v1h-1zM777 401h1v1h-1zM971 401h1v1h-1zM611 402h1v1h-1zM657 402h1v1h-1zM778 402h1v1h-1zM970 402h1v1h-1zM612 403h2v1h-2zM656 403h1v1h-1zM779 403h1v1h-1zM969 403h1v1h-1zM614 404h2v1h-2zM655 404h1v1h-1zM779 404h1v1h-1zM968 404h1v1h-1zM616 405h1v1h-1zM652 405h3v1h-3zM780 405h1v1h-1zM967 405h1v1h-1zM617 406h2v1h-2zM650 406h2v1h-2zM781 406h1v1h-1zM965 406h2v1h-2zM619 407h2v1h-2zM648 407h2v1h-2zM782 407h1v1h-1zM965 407h1v1h-1zM621 408h1v1h-1zM646 408h2v1h-2zM782 408h1v1h-1zM964 408h1v1h-1zM622 409h3v1h-3zM644 409h2v1h-2zM783 409h1v1h-1zM963 409h1v1h-1zM625 410h2v1h-2zM642 410h2v1h-2zM784 410h1v1h-1zM962 410h1v1h-1zM627 411h2v1h-2zM640 411h2v1h-2zM784 411h1v1h-1zM961 411h1v1h-1zM629 412h8v1h-8zM638 412h2v1h-2zM785 412h2v1h-2zM960 412h1v1h-1zM637 413h1v1h-1zM787 413h1v1h-1zM960 413h1v1h-1zM788 414h1v1h-1zM959 414h1v1h-1zM789 415h1v1h-1zM958 415h1v1h-1zM790 416h1v1h-1zM957 416h1v1h-1zM791 417h1v1h-1zM956 417h1v1h-1zM792 418h1v1h-1zM955 418h1v1h-1zM793 419h1v1h-1zM954 419h1v1h-1zM794 420h1v1h-1zM953 420h1v1h-1zM795 421h1v1h-1zM952 421h1v1h-1zM796 422h2v1h-2zM951 422h1v1h-1zM798 423h1v1h-1zM949 423h2v1h-2zM799 424h2v1h-2zM948 424h1v1h-1zM801 425h1v1h-1zM947 425h1v1h-1zM802 426h2v1h-2zM836 426h9v1h-9zM946 426h1v1h-1zM804 427h1v1h-1zM831 427h5v1h-5zM845 427h3v1h-3zM945 427h1v1h-1zM805 428h2v1h-2zM827 428h4v1h-4zM848 428h3v1h-3zM943 428h2v1h-2zM807 429h2v1h-2zM825 429h2v1h-2zM851 429h3v1h-3zM942 429h1v1h-1zM809 430h2v1h-2zM822 430h3v1h-3zM854 430h2v1h-2zM940 430h2v1h-2zM811 431h1v1h-1zM820 431h2v1h-2zM856 431h3v1h-3zM938 431h2v1h-2zM812 432h8v1h-8zM859 432h2v1h-2zM937 432h1v1h-1zM861 433h4v1h-4zM878 433h1v1h-1zM935 433h2v1h-2zM865 434h3v1h-3zM873 434h5v1h-5zM879 434h8v1h-8zM934 434h1v1h-1zM868 435h5v1h-5zM887 435h6v1h-6zM927 435h7v1h-7zM893 436h3v1h-3zM921 436h6v1h-6zM896 437h3v1h-3zM917 437h4v1h-4zM899 438h4v1h-4zM913 438h4v1h-4zM903 439h10v1h-10z" fill="#0000cd"/>
<rect x="1598" y="31" width="2" height="1" fill="#000" />
<text x="1603.5" y="35" font-size="9.8" fill="#000" text-anchor="start" font-weight="normal" textLength="32" lengthAdjust="spacingAndGlyphs" stroke="#000" stroke-width="0.18" >1.20165</text>
<rect x="1598" y="64" width="2" height="1" fill="#000" />
<text x="1603.5" y="68" font-size="9.8" fill="#000" text-anchor="start" font-weight="normal" textLength="32" lengthAdjust="spacingAndGlyphs" stroke="#000" stroke-width="0.18" >1.19240</text>
<rect x="1598" y="97" width="2" height="1" fill="#000" />
<text x="1603.5" y="101" font-size="9.8" fill="#000" text-anchor="start" font-weight="normal" textLength="32" lengthAdjust="spacingAndGlyphs" stroke="#000" stroke-width="0.18" >1.18290</text>
<rect x="1598" y="130" width="2" height="1" fill="#000" />
<text x="1603.5" y="134" font-size="9.8" fill="#000" text-anchor="start" font-weight="normal" textLength="32" lengthAdjust="spacingAndGlyphs" stroke="#000" stroke-width="0.18" >1.17340</text>
<rect x="1598" y="163" width="2" height="1" fill="#000" />
<text x="1603.5" y="167" font-size="9.8" fill="#000" text-anchor="start" font-weight="normal" textLength="32" lengthAdjust="spacingAndGlyphs" stroke="#000" stroke-width="0.18" >1.16415</text>
<rect x="1598" y="196" width="2" height="1" fill="#000" />
<text x="1603.5" y="200" font-size="9.8" fill="#000" text-anchor="start" font-weight="normal" textLength="32" lengthAdjust="spacingAndGlyphs" stroke="#000" stroke-width="0.18" >1.15490</text>
<rect x="1598" y="229" width="2" height="1" fill="#000" />
<text x="1603.5" y="233" font-size="9.8" fill="#000" text-anchor="start" font-weight="normal" textLength="32" lengthAdjust="spacingAndGlyphs" stroke="#000" stroke-width="0.18" >1.14540</text>
<rect x="1598" y="262" width="2" height="1" fill="#000" />
<text x="1603.5" y="266" font-size="9.8" fill="#000" text-anchor="start" font-weight="normal" textLength="32" lengthAdjust="spacingAndGlyphs" stroke="#000" stroke-width="0.18" >1.13615</text>
<rect x="1598" y="295" width="2" height="1" fill="#000" />
<text x="1603.5" y="299" font-size="9.8" fill="#000" text-anchor="start" font-weight="normal" textLength="32" lengthAdjust="spacingAndGlyphs" stroke="#000" stroke-width="0.18" >1.12665</text>
<rect x="1598" y="328" width="2" height="1" fill="#000" />
<text x="1603.5" y="332" font-size="9.8" fill="#000" text-anchor="start" font-weight="normal" textLength="32" lengthAdjust="spacingAndGlyphs" stroke="#000" stroke-width="0.18" >1.11740</text>
<rect x="1598" y="361" width="2" height="1" fill="#000" />
<text x="1603.5" y="365" font-size="9.8" fill="#000" text-anchor="start" font-weight="normal" textLength="32" lengthAdjust="spacingAndGlyphs" stroke="#000" stroke-width="0.18" >1.10790</text>
<rect x="1598" y="394" width="2" height="1" fill="#000" />
<text x="1603.5" y="398" font-size="9.8" fill="#000" text-anchor="start" font-weight="normal" textLength="32" lengthAdjust="spacingAndGlyphs" stroke="#000" stroke-width="0.18" >1.09865</text>
<rect x="1598" y="427" width="2" height="1" fill="#000" />
<text x="1603.5" y="431" font-size="9.8" fill="#000" text-anchor="start" font-weight="normal" textLength="32" lengthAdjust="spacingAndGlyphs" stroke="#000" stroke-width="0.18" >1.08915</text>
<rect x="1598" y="460" width="2" height="1" fill="#000" />
<text x="1603.5" y="464" font-size="9.8" fill="#000" text-anchor="start" font-weight="normal" textLength="32" lengthAdjust="spacingAndGlyphs" stroke="#000" stroke-width="0.18" >1.07990</text>
<rect x="1598" y="493" width="2" height="1" fill="#000" />
<text x="1603.5" y="497" font-size="9.8" fill="#000" text-anchor="start" font-weight="normal" textLength="32" lengthAdjust="spacingAndGlyphs" stroke="#000" stroke-width="0.18" >1.07040</text>
<rect x="1598" y="526" width="2" height="1" fill="#000" />
<text x="1603.5" y="530" font-size="9.8" fill="#000" text-anchor="start" font-weight="normal" textLength="32" lengthAdjust="spacingAndGlyphs" stroke="#000" stroke-width="0.18" >1.06115</text>
<path d="M8 31 h7 l-3.5 4 z" fill="#000"/>
<text x="20.2" y="35.6" font-size="9.8" fill="#000" text-anchor="start" font-weight="normal" textLength="63.2" lengthAdjust="spacingAndGlyphs" stroke="#000" stroke-width="0.18" >EURUSD,Daily</text>
<text x="90.5" y="35.6" font-size="9.8" fill="#000" text-anchor="start" font-weight="normal" textLength="140.5" lengthAdjust="spacingAndGlyphs" stroke="#000" stroke-width="0.18" >1.19496 1.19510 1.19249 1.19392</text>
<rect x="5" y="34" width="1592" height="2" fill="#ff0000" />
<rect x="4" y="32" width="6" height="6" fill="#ff0000" />
<rect x="6" y="34" width="2" height="2" fill="#fff" />
<rect x="1591" y="32" width="6" height="6" fill="#ff0000" />
<rect x="1593" y="34" width="2" height="2" fill="#fff" />
<rect x="1599" y="29" width="41" height="11" fill="#ff0000" />
<text x="1603.7" y="38" font-size="9.8" fill="#fff" text-anchor="start" font-weight="normal" textLength="32" lengthAdjust="spacingAndGlyphs" stroke="#fff" stroke-width="0.18" >1.20037</text>
<rect x="5" y="70" width="1592" height="2" fill="#ff0000" />
<rect x="4" y="68" width="6" height="6" fill="#ff0000" />
<rect x="6" y="70" width="2" height="2" fill="#fff" />
<rect x="1591" y="68" width="6" height="6" fill="#ff0000" />
<rect x="1593" y="70" width="2" height="2" fill="#fff" />
<rect x="1599" y="65" width="41" height="11" fill="#ff0000" />
<text x="1603.7" y="74" font-size="9.8" fill="#fff" text-anchor="start" font-weight="normal" textLength="32" lengthAdjust="spacingAndGlyphs" stroke="#fff" stroke-width="0.18" >1.19017</text>
<rect x="5" y="105" width="1592" height="2" fill="#00ff00" />
<rect x="4" y="103" width="6" height="6" fill="#00ff00" />
<rect x="6" y="105" width="2" height="2" fill="#fff" />
<rect x="1591" y="103" width="6" height="6" fill="#00ff00" />
<rect x="1593" y="105" width="2" height="2" fill="#fff" />
<rect x="1599" y="100" width="41" height="11" fill="#00ff00" />
<text x="1603.7" y="109" font-size="9.8" fill="#fff" text-anchor="start" font-weight="normal" textLength="32" lengthAdjust="spacingAndGlyphs" stroke="#fff" stroke-width="0.18" >1.18025</text>
<rect x="5" y="141" width="1592" height="2" fill="#0000ff" />
<rect x="4" y="139" width="6" height="6" fill="#0000ff" />
<rect x="6" y="141" width="2" height="2" fill="#fff" />
<rect x="1591" y="139" width="6" height="6" fill="#0000ff" />
<rect x="1593" y="141" width="2" height="2" fill="#fff" />
<rect x="1599" y="136" width="41" height="11" fill="#0000ff" />
<text x="1603.7" y="145" font-size="9.8" fill="#fff" text-anchor="start" font-weight="normal" textLength="32" lengthAdjust="spacingAndGlyphs" stroke="#fff" stroke-width="0.18" >1.17005</text>
<rect x="5" y="176" width="1592" height="2" fill="#0000ff" />
<rect x="4" y="174" width="6" height="6" fill="#0000ff" />
<rect x="6" y="176" width="2" height="2" fill="#fff" />
<rect x="1591" y="174" width="6" height="6" fill="#0000ff" />
<rect x="1593" y="176" width="2" height="2" fill="#fff" />
<rect x="1599" y="171" width="41" height="11" fill="#0000ff" />
<text x="1603.7" y="180" font-size="9.8" fill="#fff" text-anchor="start" font-weight="normal" textLength="32" lengthAdjust="spacingAndGlyphs" stroke="#fff" stroke-width="0.18" >1.16013</text>
<rect x="1599" y="53" width="41" height="11" fill="#000" />
<text x="1603.7" y="62" font-size="9.8" fill="#fff" text-anchor="start" font-weight="normal" textLength="32" lengthAdjust="spacingAndGlyphs" stroke="#fff" stroke-width="0.18" >1.19392</text>
<rect x="1273" y="25" width="9" height="1" fill="#c0c0c0" />
<rect x="1274" y="26" width="7" height="1" fill="#c0c0c0" />
<rect x="1275" y="27" width="5" height="1" fill="#c0c0c0" />
<rect x="1276" y="28" width="3" height="1" fill="#c0c0c0" />
<rect x="1277" y="29" width="1" height="1" fill="#c0c0c0" />
<line x1="5" x2="1597" y1="559.5" y2="559.5" stroke="#c0c0c0" stroke-width="1" stroke-dasharray="3 3"/>
<line x1="5" x2="1597" y1="595.5" y2="595.5" stroke="#c0c0c0" stroke-width="1" stroke-dasharray="3 3"/>
<path d="M1145 543h1v1h-1zM1146 544h1v1h-1zM1144 545h1v1h-1zM1147 545h2v1h-2zM1154 545h8v1h-8zM1143 546h1v1h-1zM1149 546h1v1h-1zM1151 546h3v1h-3zM1161 546h1v1h-1zM1142 547h1v1h-1zM1150 547h1v1h-1zM1162 547h1v1h-1zM665 548h1v1h-1zM1131 548h11v1h-11zM1163 548h1v1h-1zM663 549h3v1h-3zM1130 549h1v1h-1zM1164 549h1v1h-1zM662 550h1v1h-1zM666 550h1v1h-1zM1129 550h1v1h-1zM1165 550h1v1h-1zM1177 550h1v1h-1zM657 551h5v1h-5zM666 551h1v1h-1zM965 551h1v1h-1zM986 551h4v1h-4zM1128 551h1v1h-1zM1165 551h1v1h-1zM1176 551h2v1h-2zM656 552h1v1h-1zM667 552h1v1h-1zM964 552h1v1h-1zM966 552h1v1h-1zM982 552h4v1h-4zM989 552h1v1h-1zM1127 552h1v1h-1zM1166 552h1v1h-1zM1175 552h1v1h-1zM1178 552h1v1h-1zM645 553h1v1h-1zM656 553h1v1h-1zM667 553h1v1h-1zM962 553h2v1h-2zM967 553h1v1h-1zM980 553h2v1h-2zM989 553h1v1h-1zM1126 553h1v1h-1zM1166 553h1v1h-1zM1175 553h1v1h-1zM1178 553h1v1h-1zM644 554h1v1h-1zM646 554h1v1h-1zM655 554h1v1h-1zM668 554h1v1h-1zM961 554h1v1h-1zM968 554h1v1h-1zM978 554h2v1h-2zM989 554h1v1h-1zM1125 554h1v1h-1zM1167 554h1v1h-1zM1174 554h1v1h-1zM1179 554h1v1h-1zM642 555h2v1h-2zM646 555h1v1h-1zM654 555h1v1h-1zM668 555h1v1h-1zM960 555h1v1h-1zM969 555h9v1h-9zM990 555h1v1h-1zM1125 555h1v1h-1zM1167 555h1v1h-1zM1173 555h1v1h-1zM1179 555h1v1h-1zM641 556h1v1h-1zM647 556h1v1h-1zM653 556h1v1h-1zM669 556h1v1h-1zM959 556h1v1h-1zM990 556h1v1h-1zM1124 556h1v1h-1zM1168 556h1v1h-1zM1170 556h4v1h-4zM1180 556h1v1h-1zM1221 556h1v1h-1zM641 557h1v1h-1zM647 557h1v1h-1zM652 557h2v1h-2zM669 557h1v1h-1zM958 557h1v1h-1zM990 557h1v1h-1zM1123 557h1v1h-1zM1169 557h1v1h-1zM1181 557h1v1h-1zM1220 557h2v1h-2zM429 558h1v1h-1zM640 558h1v1h-1zM648 558h1v1h-1zM650 558h2v1h-2zM670 558h1v1h-1zM956 558h2v1h-2zM990 558h1v1h-1zM1122 558h1v1h-1zM1181 558h1v1h-1zM1219 558h1v1h-1zM1222 558h1v1h-1zM179 559h3v1h-3zM428 559h1v1h-1zM430 559h4v1h-4zM640 559h1v1h-1zM649 559h1v1h-1zM670 559h1v1h-1zM954 559h2v1h-2zM991 559h1v1h-1zM1109 559h13v1h-13zM1182 559h1v1h-1zM1218 559h1v1h-1zM1223 559h1v1h-1zM177 560h2v1h-2zM182 560h2v1h-2zM425 560h3v1h-3zM434 560h1v1h-1zM639 560h1v1h-1zM671 560h1v1h-1zM944 560h1v1h-1zM952 560h2v1h-2zM991 560h1v1h-1zM1108 560h1v1h-1zM1182 560h1v1h-1zM1216 560h2v1h-2zM1224 560h1v1h-1zM1265 560h1v1h-1zM175 561h2v1h-2zM184 561h2v1h-2zM423 561h2v1h-2zM435 561h1v1h-1zM639 561h1v1h-1zM671 561h1v1h-1zM945 561h3v1h-3zM949 561h3v1h-3zM991 561h1v1h-1zM1105 561h3v1h-3zM1183 561h1v1h-1zM1214 561h2v1h-2zM1225 561h1v1h-1zM1266 561h2v1h-2zM174 562h1v1h-1zM186 562h2v1h-2zM224 562h5v1h-5zM422 562h1v1h-1zM436 562h1v1h-1zM638 562h1v1h-1zM672 562h1v1h-1zM942 562h2v1h-2zM948 562h1v1h-1zM991 562h1v1h-1zM1101 562h4v1h-4zM1183 562h1v1h-1zM1206 562h8v1h-8zM1225 562h1v1h-1zM1264 562h1v1h-1zM1268 562h1v1h-1zM173 563h1v1h-1zM188 563h1v1h-1zM223 563h1v1h-1zM229 563h2v1h-2zM380 563h1v1h-1zM420 563h2v1h-2zM637 563h1v1h-1zM672 563h1v1h-1zM941 563h1v1h-1zM992 563h1v1h-1zM1099 563h2v1h-2zM1184 563h1v1h-1zM1189 563h1v1h-1zM1203 563h3v1h-3zM1226 563h1v1h-1zM1257 563h1v1h-1zM1263 563h1v1h-1zM172 564h1v1h-1zM189 564h2v1h-2zM222 564h1v1h-1zM231 564h2v1h-2zM369 564h1v1h-1zM379 564h3v1h-3zM418 564h2v1h-2zM437 564h1v1h-1zM637 564h1v1h-1zM673 564h1v1h-1zM940 564h1v1h-1zM992 564h1v1h-1zM1098 564h1v1h-1zM1184 564h1v1h-1zM1186 564h3v1h-3zM1190 564h2v1h-2zM1201 564h2v1h-2zM1227 564h1v1h-1zM1258 564h2v1h-2zM1263 564h1v1h-1zM171 565h1v1h-1zM191 565h1v1h-1zM221 565h1v1h-1zM368 565h1v1h-1zM370 565h1v1h-1zM377 565h2v1h-2zM381 565h1v1h-1zM417 565h1v1h-1zM438 565h1v1h-1zM636 565h1v1h-1zM673 565h1v1h-1zM940 565h1v1h-1zM992 565h1v1h-1zM1029 565h1v1h-1zM1081 565h1v1h-1zM1098 565h1v1h-1zM1185 565h1v1h-1zM1192 565h1v1h-1zM1200 565h1v1h-1zM1228 565h1v1h-1zM1256 565h1v1h-1zM1260 565h1v1h-1zM1262 565h1v1h-1zM170 566h1v1h-1zM192 566h1v1h-1zM220 566h1v1h-1zM233 566h1v1h-1zM367 566h1v1h-1zM371 566h1v1h-1zM375 566h2v1h-2zM382 566h1v1h-1zM417 566h1v1h-1zM438 566h1v1h-1zM635 566h1v1h-1zM673 566h1v1h-1zM939 566h1v1h-1zM993 566h2v1h-2zM1028 566h1v1h-1zM1030 566h1v1h-1zM1079 566h2v1h-2zM1082 566h1v1h-1zM1097 566h1v1h-1zM1193 566h1v1h-1zM1198 566h2v1h-2zM1228 566h1v1h-1zM1256 566h1v1h-1zM1261 566h1v1h-1zM170 567h1v1h-1zM193 567h1v1h-1zM219 567h1v1h-1zM234 567h1v1h-1zM366 567h1v1h-1zM372 567h1v1h-1zM374 567h1v1h-1zM383 567h1v1h-1zM417 567h1v1h-1zM439 567h1v1h-1zM634 567h1v1h-1zM673 567h1v1h-1zM913 567h1v1h-1zM939 567h1v1h-1zM995 567h1v1h-1zM1000 567h4v1h-4zM1027 567h1v1h-1zM1031 567h1v1h-1zM1073 567h3v1h-3zM1077 567h2v1h-2zM1083 567h1v1h-1zM1089 567h1v1h-1zM1096 567h1v1h-1zM1194 567h4v1h-4zM1229 567h1v1h-1zM1255 567h1v1h-1zM169 568h1v1h-1zM194 568h1v1h-1zM216 568h3v1h-3zM234 568h1v1h-1zM365 568h1v1h-1zM373 568h1v1h-1zM383 568h1v1h-1zM416 568h1v1h-1zM439 568h1v1h-1zM449 568h1v1h-1zM629 568h5v1h-5zM674 568h1v1h-1zM850 568h2v1h-2zM912 568h1v1h-1zM914 568h1v1h-1zM938 568h1v1h-1zM996 568h1v1h-1zM998 568h2v1h-2zM1004 568h2v1h-2zM1026 568h1v1h-1zM1031 568h1v1h-1zM1072 568h1v1h-1zM1076 568h1v1h-1zM1084 568h1v1h-1zM1088 568h1v1h-1zM1090 568h1v1h-1zM1095 568h1v1h-1zM1229 568h1v1h-1zM1255 568h1v1h-1zM168 569h1v1h-1zM195 569h2v1h-2zM214 569h2v1h-2zM234 569h1v1h-1zM337 569h5v1h-5zM364 569h1v1h-1zM385 569h1v1h-1zM416 569h1v1h-1zM440 569h1v1h-1zM448 569h2v1h-2zM629 569h1v1h-1zM674 569h1v1h-1zM849 569h1v1h-1zM852 569h2v1h-2zM911 569h1v1h-1zM915 569h1v1h-1zM938 569h1v1h-1zM997 569h1v1h-1zM1006 569h1v1h-1zM1025 569h1v1h-1zM1032 569h1v1h-1zM1072 569h1v1h-1zM1086 569h2v1h-2zM1091 569h2v1h-2zM1095 569h1v1h-1zM1230 569h1v1h-1zM1254 569h1v1h-1zM153 570h1v1h-1zM167 570h1v1h-1zM197 570h1v1h-1zM212 570h2v1h-2zM234 570h1v1h-1zM333 570h4v1h-4zM341 570h1v1h-1zM363 570h1v1h-1zM386 570h2v1h-2zM415 570h1v1h-1zM440 570h1v1h-1zM446 570h2v1h-2zM450 570h1v1h-1zM629 570h1v1h-1zM674 570h1v1h-1zM733 570h1v1h-1zM848 570h1v1h-1zM854 570h1v1h-1zM910 570h1v1h-1zM916 570h1v1h-1zM933 570h5v1h-5zM1007 570h1v1h-1zM1024 570h1v1h-1zM1033 570h1v1h-1zM1071 570h1v1h-1zM1085 570h1v1h-1zM1094 570h1v1h-1zM1230 570h1v1h-1zM1245 570h1v1h-1zM1254 570h1v1h-1zM154 571h5v1h-5zM166 571h2v1h-2zM198 571h2v1h-2zM210 571h2v1h-2zM234 571h1v1h-1zM331 571h2v1h-2zM342 571h1v1h-1zM356 571h5v1h-5zM362 571h1v1h-1zM388 571h1v1h-1zM415 571h1v1h-1zM441 571h5v1h-5zM450 571h1v1h-1zM628 571h1v1h-1zM675 571h1v1h-1zM731 571h2v1h-2zM734 571h1v1h-1zM847 571h1v1h-1zM854 571h1v1h-1zM908 571h2v1h-2zM917 571h1v1h-1zM933 571h1v1h-1zM1008 571h1v1h-1zM1024 571h1v1h-1zM1034 571h1v1h-1zM1056 571h1v1h-1zM1071 571h1v1h-1zM1093 571h1v1h-1zM1231 571h1v1h-1zM1241 571h4v1h-4zM1246 571h3v1h-3zM1252 571h2v1h-2zM152 572h1v1h-1zM159 572h2v1h-2zM164 572h2v1h-2zM200 572h1v1h-1zM208 572h2v1h-2zM235 572h1v1h-1zM329 572h2v1h-2zM342 572h1v1h-1zM355 572h1v1h-1zM361 572h1v1h-1zM389 572h1v1h-1zM414 572h1v1h-1zM441 572h1v1h-1zM451 572h1v1h-1zM628 572h1v1h-1zM675 572h1v1h-1zM730 572h1v1h-1zM734 572h1v1h-1zM846 572h1v1h-1zM855 572h1v1h-1zM906 572h2v1h-2zM918 572h1v1h-1zM932 572h1v1h-1zM1009 572h4v1h-4zM1023 572h1v1h-1zM1035 572h1v1h-1zM1054 572h2v1h-2zM1057 572h3v1h-3zM1070 572h1v1h-1zM1231 572h1v1h-1zM1239 572h2v1h-2zM1249 572h3v1h-3zM150 573h2v1h-2zM161 573h1v1h-1zM163 573h1v1h-1zM201 573h1v1h-1zM207 573h1v1h-1zM235 573h1v1h-1zM328 573h1v1h-1zM343 573h1v1h-1zM354 573h1v1h-1zM389 573h1v1h-1zM414 573h1v1h-1zM451 573h1v1h-1zM628 573h1v1h-1zM675 573h1v1h-1zM728 573h2v1h-2zM735 573h1v1h-1zM845 573h1v1h-1zM855 573h1v1h-1zM905 573h1v1h-1zM919 573h1v1h-1zM931 573h1v1h-1zM1013 573h3v1h-3zM1022 573h1v1h-1zM1035 573h1v1h-1zM1050 573h4v1h-4zM1060 573h1v1h-1zM1070 573h1v1h-1zM1232 573h1v1h-1zM1236 573h3v1h-3zM149 574h1v1h-1zM162 574h1v1h-1zM202 574h5v1h-5zM235 574h1v1h-1zM281 574h6v1h-6zM328 574h1v1h-1zM343 574h1v1h-1zM353 574h1v1h-1zM390 574h1v1h-1zM413 574h1v1h-1zM452 574h1v1h-1zM482 574h2v1h-2zM628 574h1v1h-1zM675 574h1v1h-1zM725 574h3v1h-3zM736 574h1v1h-1zM844 574h1v1h-1zM856 574h1v1h-1zM905 574h1v1h-1zM919 574h1v1h-1zM931 574h1v1h-1zM1016 574h3v1h-3zM1022 574h1v1h-1zM1036 574h2v1h-2zM1047 574h3v1h-3zM1061 574h9v1h-9zM1233 574h3v1h-3zM148 575h1v1h-1zM235 575h1v1h-1zM281 575h1v1h-1zM287 575h1v1h-1zM292 575h2v1h-2zM328 575h1v1h-1zM344 575h1v1h-1zM352 575h1v1h-1zM391 575h1v1h-1zM413 575h1v1h-1zM452 575h1v1h-1zM481 575h1v1h-1zM484 575h1v1h-1zM628 575h1v1h-1zM676 575h1v1h-1zM689 575h1v1h-1zM725 575h1v1h-1zM736 575h1v1h-1zM741 575h1v1h-1zM777 575h1v1h-1zM789 575h2v1h-2zM844 575h1v1h-1zM857 575h1v1h-1zM904 575h1v1h-1zM920 575h1v1h-1zM930 575h1v1h-1zM1019 575h3v1h-3zM1038 575h2v1h-2zM1044 575h3v1h-3zM1233 575h1v1h-1zM148 576h1v1h-1zM235 576h1v1h-1zM280 576h1v1h-1zM288 576h1v1h-1zM290 576h2v1h-2zM293 576h1v1h-1zM327 576h1v1h-1zM344 576h1v1h-1zM351 576h1v1h-1zM392 576h1v1h-1zM407 576h1v1h-1zM412 576h1v1h-1zM453 576h1v1h-1zM480 576h1v1h-1zM485 576h1v1h-1zM539 576h2v1h-2zM627 576h1v1h-1zM676 576h1v1h-1zM688 576h2v1h-2zM724 576h1v1h-1zM737 576h4v1h-4zM742 576h1v1h-1zM774 576h3v1h-3zM778 576h4v1h-4zM788 576h1v1h-1zM791 576h1v1h-1zM843 576h1v1h-1zM857 576h1v1h-1zM904 576h1v1h-1zM921 576h9v1h-9zM1021 576h1v1h-1zM1040 576h4v1h-4zM53 577h7v1h-7zM147 577h1v1h-1zM236 577h1v1h-1zM279 577h1v1h-1zM289 577h1v1h-1zM294 577h1v1h-1zM327 577h1v1h-1zM345 577h1v1h-1zM350 577h1v1h-1zM393 577h1v1h-1zM401 577h6v1h-6zM408 577h1v1h-1zM410 577h2v1h-2zM454 577h2v1h-2zM472 577h4v1h-4zM479 577h1v1h-1zM485 577h1v1h-1zM538 577h1v1h-1zM541 577h1v1h-1zM627 577h1v1h-1zM676 577h1v1h-1zM687 577h1v1h-1zM689 577h1v1h-1zM724 577h1v1h-1zM743 577h1v1h-1zM773 577h1v1h-1zM782 577h2v1h-2zM787 577h1v1h-1zM792 577h1v1h-1zM843 577h1v1h-1zM858 577h1v1h-1zM885 577h1v1h-1zM903 577h1v1h-1zM52 578h1v1h-1zM59 578h1v1h-1zM69 578h7v1h-7zM125 578h1v1h-1zM146 578h1v1h-1zM236 578h1v1h-1zM278 578h1v1h-1zM294 578h1v1h-1zM326 578h1v1h-1zM345 578h5v1h-5zM394 578h1v1h-1zM400 578h1v1h-1zM409 578h1v1h-1zM456 578h1v1h-1zM470 578h2v1h-2zM476 578h3v1h-3zM486 578h1v1h-1zM537 578h1v1h-1zM542 578h1v1h-1zM627 578h1v1h-1zM677 578h3v1h-3zM686 578h1v1h-1zM690 578h1v1h-1zM724 578h1v1h-1zM744 578h1v1h-1zM772 578h1v1h-1zM784 578h1v1h-1zM786 578h1v1h-1zM793 578h1v1h-1zM842 578h1v1h-1zM859 578h1v1h-1zM886 578h1v1h-1zM903 578h1v1h-1zM52 579h1v1h-1zM60 579h1v1h-1zM68 579h1v1h-1zM76 579h1v1h-1zM126 579h2v1h-2zM136 579h1v1h-1zM145 579h1v1h-1zM236 579h1v1h-1zM273 579h5v1h-5zM295 579h1v1h-1zM326 579h1v1h-1zM395 579h2v1h-2zM399 579h1v1h-1zM457 579h1v1h-1zM468 579h2v1h-2zM478 579h1v1h-1zM487 579h1v1h-1zM536 579h1v1h-1zM543 579h1v1h-1zM627 579h1v1h-1zM680 579h6v1h-6zM690 579h1v1h-1zM723 579h1v1h-1zM745 579h1v1h-1zM765 579h1v1h-1zM771 579h1v1h-1zM785 579h1v1h-1zM794 579h1v1h-1zM842 579h1v1h-1zM859 579h1v1h-1zM884 579h1v1h-1zM887 579h2v1h-2zM903 579h1v1h-1zM41 580h1v1h-1zM51 580h1v1h-1zM61 580h1v1h-1zM67 580h1v1h-1zM77 580h1v1h-1zM124 580h1v1h-1zM128 580h1v1h-1zM130 580h6v1h-6zM137 580h1v1h-1zM145 580h1v1h-1zM236 580h1v1h-1zM241 580h1v1h-1zM273 580h1v1h-1zM295 580h1v1h-1zM326 580h1v1h-1zM398 580h1v1h-1zM458 580h2v1h-2zM466 580h2v1h-2zM487 580h1v1h-1zM535 580h1v1h-1zM544 580h1v1h-1zM627 580h1v1h-1zM691 580h1v1h-1zM723 580h1v1h-1zM746 580h1v1h-1zM766 580h3v1h-3zM770 580h1v1h-1zM795 580h1v1h-1zM801 580h5v1h-5zM840 580h2v1h-2zM861 580h1v1h-1zM873 580h6v1h-6zM883 580h1v1h-1zM889 580h1v1h-1zM902 580h1v1h-1zM42 581h2v1h-2zM51 581h1v1h-1zM62 581h1v1h-1zM67 581h1v1h-1zM78 581h1v1h-1zM124 581h1v1h-1zM129 581h1v1h-1zM138 581h1v1h-1zM144 581h1v1h-1zM237 581h4v1h-4zM242 581h1v1h-1zM272 581h1v1h-1zM296 581h1v1h-1zM322 581h2v1h-2zM325 581h1v1h-1zM397 581h1v1h-1zM460 581h1v1h-1zM464 581h2v1h-2zM488 581h1v1h-1zM535 581h1v1h-1zM545 581h2v1h-2zM626 581h1v1h-1zM691 581h1v1h-1zM722 581h1v1h-1zM747 581h2v1h-2zM764 581h1v1h-1zM769 581h1v1h-1zM796 581h1v1h-1zM800 581h1v1h-1zM806 581h9v1h-9zM839 581h1v1h-1zM862 581h1v1h-1zM871 581h2v1h-2zM879 581h1v1h-1zM883 581h1v1h-1zM890 581h1v1h-1zM902 581h1v1h-1zM40 582h1v1h-1zM44 582h1v1h-1zM51 582h1v1h-1zM62 582h1v1h-1zM66 582h1v1h-1zM79 582h1v1h-1zM85 582h1v1h-1zM123 582h1v1h-1zM139 582h1v1h-1zM143 582h1v1h-1zM243 582h1v1h-1zM272 582h1v1h-1zM297 582h2v1h-2zM321 582h1v1h-1zM324 582h2v1h-2zM462 582h2v1h-2zM488 582h1v1h-1zM500 582h2v1h-2zM534 582h1v1h-1zM547 582h1v1h-1zM626 582h1v1h-1zM692 582h1v1h-1zM722 582h1v1h-1zM749 582h1v1h-1zM764 582h1v1h-1zM797 582h1v1h-1zM799 582h1v1h-1zM815 582h3v1h-3zM833 582h6v1h-6zM863 582h2v1h-2zM870 582h1v1h-1zM880 582h1v1h-1zM882 582h1v1h-1zM891 582h2v1h-2zM896 582h6v1h-6zM39 583h1v1h-1zM45 583h1v1h-1zM50 583h1v1h-1zM63 583h1v1h-1zM66 583h1v1h-1zM80 583h1v1h-1zM84 583h1v1h-1zM86 583h2v1h-2zM122 583h1v1h-1zM140 583h1v1h-1zM143 583h1v1h-1zM244 583h1v1h-1zM271 583h1v1h-1zM299 583h3v1h-3zM320 583h1v1h-1zM461 583h1v1h-1zM489 583h1v1h-1zM499 583h1v1h-1zM502 583h1v1h-1zM534 583h1v1h-1zM548 583h1v1h-1zM626 583h1v1h-1zM692 583h1v1h-1zM721 583h1v1h-1zM750 583h1v1h-1zM763 583h1v1h-1zM798 583h1v1h-1zM818 583h4v1h-4zM832 583h1v1h-1zM865 583h1v1h-1zM867 583h3v1h-3zM881 583h1v1h-1zM894 583h2v1h-2zM30 584h5v1h-5zM38 584h1v1h-1zM45 584h1v1h-1zM50 584h1v1h-1zM64 584h2v1h-2zM82 584h2v1h-2zM88 584h1v1h-1zM92 584h2v1h-2zM121 584h1v1h-1zM142 584h1v1h-1zM245 584h2v1h-2zM257 584h1v1h-1zM271 584h1v1h-1zM302 584h2v1h-2zM319 584h1v1h-1zM489 584h8v1h-8zM498 584h1v1h-1zM503 584h1v1h-1zM533 584h1v1h-1zM549 584h1v1h-1zM626 584h1v1h-1zM693 584h1v1h-1zM720 584h2v1h-2zM751 584h2v1h-2zM762 584h1v1h-1zM822 584h2v1h-2zM831 584h1v1h-1zM866 584h1v1h-1zM893 584h1v1h-1zM28 585h2v1h-2zM35 585h3v1h-3zM46 585h1v1h-1zM50 585h1v1h-1zM65 585h1v1h-1zM81 585h1v1h-1zM90 585h2v1h-2zM93 585h1v1h-1zM120 585h1v1h-1zM141 585h1v1h-1zM247 585h1v1h-1zM258 585h1v1h-1zM270 585h1v1h-1zM304 585h2v1h-2zM318 585h1v1h-1zM497 585h1v1h-1zM504 585h1v1h-1zM533 585h1v1h-1zM550 585h1v1h-1zM626 585h1v1h-1zM693 585h1v1h-1zM718 585h2v1h-2zM754 585h8v1h-8zM824 585h2v1h-2zM830 585h1v1h-1zM26 586h2v1h-2zM37 586h1v1h-1zM47 586h1v1h-1zM49 586h1v1h-1zM89 586h1v1h-1zM94 586h1v1h-1zM119 586h1v1h-1zM248 586h1v1h-1zM255 586h2v1h-2zM259 586h2v1h-2zM270 586h1v1h-1zM306 586h6v1h-6zM316 586h2v1h-2zM505 586h1v1h-1zM532 586h1v1h-1zM551 586h1v1h-1zM625 586h1v1h-1zM694 586h1v1h-1zM716 586h2v1h-2zM753 586h1v1h-1zM826 586h4v1h-4zM25 587h1v1h-1zM48 587h2v1h-2zM95 587h1v1h-1zM119 587h1v1h-1zM254 587h1v1h-1zM261 587h1v1h-1zM269 587h1v1h-1zM312 587h1v1h-1zM314 587h2v1h-2zM506 587h1v1h-1zM532 587h1v1h-1zM551 587h1v1h-1zM625 587h1v1h-1zM695 587h1v1h-1zM714 587h2v1h-2zM25 588h1v1h-1zM49 588h1v1h-1zM96 588h1v1h-1zM118 588h1v1h-1zM249 588h5v1h-5zM262 588h8v1h-8zM313 588h1v1h-1zM507 588h1v1h-1zM532 588h1v1h-1zM553 588h1v1h-1zM620 588h6v1h-6zM695 588h1v1h-1zM713 588h1v1h-1zM24 589h1v1h-1zM96 589h2v1h-2zM105 589h1v1h-1zM117 589h1v1h-1zM508 589h1v1h-1zM531 589h1v1h-1zM554 589h2v1h-2zM618 589h2v1h-2zM696 589h1v1h-1zM712 589h1v1h-1zM5 590h1v1h-1zM24 590h1v1h-1zM98 590h3v1h-3zM102 590h3v1h-3zM106 590h4v1h-4zM116 590h1v1h-1zM509 590h3v1h-3zM531 590h1v1h-1zM556 590h2v1h-2zM611 590h7v1h-7zM697 590h1v1h-1zM712 590h1v1h-1zM5 591h1v1h-1zM24 591h1v1h-1zM101 591h1v1h-1zM110 591h2v1h-2zM116 591h1v1h-1zM512 591h2v1h-2zM515 591h5v1h-5zM530 591h1v1h-1zM558 591h2v1h-2zM610 591h1v1h-1zM698 591h1v1h-1zM711 591h1v1h-1zM6 592h1v1h-1zM23 592h1v1h-1zM112 592h1v1h-1zM115 592h1v1h-1zM514 592h1v1h-1zM520 592h2v1h-2zM530 592h1v1h-1zM560 592h2v1h-2zM609 592h1v1h-1zM698 592h1v1h-1zM711 592h1v1h-1zM6 593h1v1h-1zM23 593h1v1h-1zM113 593h2v1h-2zM522 593h2v1h-2zM529 593h1v1h-1zM562 593h2v1h-2zM608 593h1v1h-1zM699 593h1v1h-1zM710 593h1v1h-1zM7 594h1v1h-1zM23 594h1v1h-1zM114 594h1v1h-1zM524 594h2v1h-2zM527 594h3v1h-3zM564 594h2v1h-2zM608 594h1v1h-1zM700 594h1v1h-1zM710 594h1v1h-1zM7 595h1v1h-1zM22 595h1v1h-1zM526 595h1v1h-1zM566 595h2v1h-2zM608 595h1v1h-1zM701 595h9v1h-9zM9 596h1v1h-1zM22 596h1v1h-1zM568 596h7v1h-7zM607 596h1v1h-1zM709 596h1v1h-1zM10 597h3v1h-3zM21 597h1v1h-1zM575 597h1v1h-1zM607 597h1v1h-1zM13 598h4v1h-4zM21 598h1v1h-1zM576 598h1v1h-1zM607 598h1v1h-1zM17 599h5v1h-5zM577 599h2v1h-2zM607 599h1v1h-1zM579 600h1v1h-1zM606 600h1v1h-1zM580 601h1v1h-1zM606 601h1v1h-1zM581 602h1v1h-1zM606 602h1v1h-1zM582 603h13v1h-13zM605 603h1v1h-1zM595 604h2v1h-2zM605 604h1v1h-1zM597 605h3v1h-3zM604 605h1v1h-1zM600 606h1v1h-1zM602 606h2v1h-2zM601 607h1v1h-1z" fill="#1e90ff"/>
<text x="9" y="544" font-size="9.8" fill="#000" text-anchor="start" font-weight="normal" textLength="32.2" lengthAdjust="spacingAndGlyphs" stroke="#000" stroke-width="0.18" >RSI(14)</text>
<text x="44.3" y="544" font-size="9.8" fill="#000" text-anchor="start" font-weight="normal" textLength="32.2" lengthAdjust="spacingAndGlyphs" stroke="#000" stroke-width="0.18" >66.3116</text>
<text x="1601.4" y="542" font-size="9.8" fill="#000" text-anchor="start" font-weight="normal" textLength="14.8" lengthAdjust="spacingAndGlyphs" stroke="#000" stroke-width="0.18" >100</text>
<text x="1600.4" y="563" font-size="9.8" fill="#000" text-anchor="start" font-weight="normal" textLength="9.6" lengthAdjust="spacingAndGlyphs" stroke="#000" stroke-width="0.18" >70</text>
<text x="1600.8" y="599" font-size="9.8" fill="#000" text-anchor="start" font-weight="normal" textLength="9.6" lengthAdjust="spacingAndGlyphs" stroke="#000" stroke-width="0.18" >30</text>
<text x="1601.2" y="620" font-size="9.8" fill="#000" text-anchor="start" font-weight="normal" textLength="4.8" lengthAdjust="spacingAndGlyphs" stroke="#000" stroke-width="0.18" >0</text>
<rect x="1598" y="533" width="1" height="1" fill="#000" />
<rect x="1598" y="622" width="1" height="1" fill="#000" />
<rect x="1598" y="627" width="1" height="1" fill="#000" />
<rect x="5" y="682" width="1" height="9" fill="#c0c0c0" />
<rect x="9" y="682" width="1" height="12" fill="#c0c0c0" />
<rect x="13" y="682" width="1" height="15" fill="#c0c0c0" />
<rect x="17" y="682" width="1" height="17" fill="#c0c0c0" />
<rect x="21" y="682" width="1" height="19" fill="#c0c0c0" />
<rect x="25" y="682" width="1" height="19" fill="#c0c0c0" />
<rect x="29" y="682" width="1" height="17" fill="#c0c0c0" />
<rect x="33" y="682" width="1" height="16" fill="#c0c0c0" />
<rect x="37" y="682" width="1" height="15" fill="#c0c0c0" />
<rect x="41" y="682" width="1" height="14" fill="#c0c0c0" />
<rect x="45" y="682" width="1" height="13" fill="#c0c0c0" />
<rect x="49" y="682" width="1" height="13" fill="#c0c0c0" />
<rect x="53" y="682" width="1" height="11" fill="#c0c0c0" />
<rect x="57" y="682" width="1" height="8" fill="#c0c0c0" />
<rect x="61" y="682" width="1" height="8" fill="#c0c0c0" />
<rect x="65" y="682" width="1" height="7" fill="#c0c0c0" />
<rect x="69" y="682" width="1" height="6" fill="#c0c0c0" />
<rect x="73" y="682" width="1" height="6" fill="#c0c0c0" />
<rect x="77" y="682" width="1" height="6" fill="#c0c0c0" />
<rect x="81" y="682" width="1" height="6" fill="#c0c0c0" />
<rect x="85" y="682" width="1" height="7" fill="#c0c0c0" />
<rect x="89" y="682" width="1" height="8" fill="#c0c0c0" />
<rect x="93" y="682" width="1" height="8" fill="#c0c0c0" />
<rect x="97" y="682" width="1" height="10" fill="#c0c0c0" />
<rect x="101" y="682" width="1" height="11" fill="#c0c0c0" />
<rect x="105" y="682" width="1" height="12" fill="#c0c0c0" />
<rect x="109" y="682" width="1" height="13" fill="#c0c0c0" />
<rect x="113" y="682" width="1" height="15" fill="#c0c0c0" />
<rect x="117" y="682" width="1" height="15" fill="#c0c0c0" />
<rect x="121" y="682" width="1" height="14" fill="#c0c0c0" />
<rect x="125" y="682" width="1" height="13" fill="#c0c0c0" />
<rect x="129" y="682" width="1" height="12" fill="#c0c0c0" />
<rect x="133" y="682" width="1" height="11" fill="#c0c0c0" />
<rect x="137" y="682" width="1" height="10" fill="#c0c0c0" />
<rect x="141" y="682" width="1" height="10" fill="#c0c0c0" />
<rect x="145" y="682" width="1" height="9" fill="#c0c0c0" />
<rect x="149" y="682" width="1" height="8" fill="#c0c0c0" />
<rect x="153" y="682" width="1" height="6" fill="#c0c0c0" />
<rect x="157" y="682" width="1" height="4" fill="#c0c0c0" />
<rect x="161" y="682" width="1" height="2" fill="#c0c0c0" />
<rect x="169" y="679" width="1" height="4" fill="#c0c0c0" />
<rect x="173" y="676" width="1" height="7" fill="#c0c0c0" />
<rect x="177" y="673" width="1" height="10" fill="#c0c0c0" />
<rect x="181" y="671" width="1" height="12" fill="#c0c0c0" />
<rect x="185" y="670" width="1" height="13" fill="#c0c0c0" />
<rect x="189" y="669" width="1" height="14" fill="#c0c0c0" />
<rect x="193" y="669" width="1" height="14" fill="#c0c0c0" />
<rect x="197" y="670" width="1" height="13" fill="#c0c0c0" />
<rect x="201" y="671" width="1" height="12" fill="#c0c0c0" />
<rect x="205" y="672" width="1" height="11" fill="#c0c0c0" />
<rect x="209" y="672" width="1" height="11" fill="#c0c0c0" />
<rect x="213" y="672" width="1" height="11" fill="#c0c0c0" />
<rect x="217" y="672" width="1" height="11" fill="#c0c0c0" />
<rect x="221" y="672" width="1" height="11" fill="#c0c0c0" />
<rect x="225" y="672" width="1" height="11" fill="#c0c0c0" />
<rect x="229" y="672" width="1" height="11" fill="#c0c0c0" />
<rect x="233" y="672" width="1" height="11" fill="#c0c0c0" />
<rect x="237" y="673" width="1" height="10" fill="#c0c0c0" />
<rect x="241" y="675" width="1" height="8" fill="#c0c0c0" />
<rect x="245" y="678" width="1" height="5" fill="#c0c0c0" />
<rect x="249" y="681" width="1" height="2" fill="#c0c0c0" />
<rect x="257" y="682" width="1" height="2" fill="#c0c0c0" />
<rect x="261" y="682" width="1" height="3" fill="#c0c0c0" />
<rect x="265" y="682" width="1" height="5" fill="#c0c0c0" />
<rect x="269" y="682" width="1" height="6" fill="#c0c0c0" />
<rect x="273" y="682" width="1" height="5" fill="#c0c0c0" />
<rect x="277" y="682" width="1" height="5" fill="#c0c0c0" />
<rect x="281" y="682" width="1" height="4" fill="#c0c0c0" />
<rect x="285" y="682" width="1" height="4" fill="#c0c0c0" />
<rect x="289" y="682" width="1" height="3" fill="#c0c0c0" />
<rect x="293" y="682" width="1" height="4" fill="#c0c0c0" />
<rect x="297" y="682" width="1" height="4" fill="#c0c0c0" />
<rect x="301" y="682" width="1" height="5" fill="#c0c0c0" />
<rect x="305" y="682" width="1" height="5" fill="#c0c0c0" />
<rect x="309" y="682" width="1" height="6" fill="#c0c0c0" />
<rect x="313" y="682" width="1" height="6" fill="#c0c0c0" />
<rect x="317" y="682" width="1" height="6" fill="#c0c0c0" />
<rect x="321" y="682" width="1" height="6" fill="#c0c0c0" />
<rect x="325" y="682" width="1" height="4" fill="#c0c0c0" />
<rect x="329" y="682" width="1" height="3" fill="#c0c0c0" />
<rect x="333" y="682" width="1" height="2" fill="#c0c0c0" />
<rect x="357" y="681" width="1" height="2" fill="#c0c0c0" />
<rect x="361" y="681" width="1" height="2" fill="#c0c0c0" />
<rect x="365" y="679" width="1" height="4" fill="#c0c0c0" />
<rect x="369" y="678" width="1" height="5" fill="#c0c0c0" />
<rect x="373" y="677" width="1" height="6" fill="#c0c0c0" />
<rect x="377" y="676" width="1" height="7" fill="#c0c0c0" />
<rect x="381" y="675" width="1" height="8" fill="#c0c0c0" />
<rect x="385" y="675" width="1" height="8" fill="#c0c0c0" />
<rect x="389" y="676" width="1" height="7" fill="#c0c0c0" />
<rect x="393" y="677" width="1" height="6" fill="#c0c0c0" />
<rect x="397" y="679" width="1" height="4" fill="#c0c0c0" />
<rect x="401" y="679" width="1" height="4" fill="#c0c0c0" />
<rect x="405" y="680" width="1" height="3" fill="#c0c0c0" />
<rect x="409" y="680" width="1" height="3" fill="#c0c0c0" />
<rect x="413" y="680" width="1" height="3" fill="#c0c0c0" />
<rect x="417" y="678" width="1" height="5" fill="#c0c0c0" />
<rect x="421" y="676" width="1" height="7" fill="#c0c0c0" />
<rect x="425" y="674" width="1" height="9" fill="#c0c0c0" />
<rect x="429" y="672" width="1" height="11" fill="#c0c0c0" />
<rect x="433" y="671" width="1" height="12" fill="#c0c0c0" />
<rect x="437" y="670" width="1" height="13" fill="#c0c0c0" />
<rect x="441" y="671" width="1" height="12" fill="#c0c0c0" />
<rect x="445" y="673" width="1" height="10" fill="#c0c0c0" />
<rect x="449" y="673" width="1" height="10" fill="#c0c0c0" />
<rect x="453" y="675" width="1" height="8" fill="#c0c0c0" />
<rect x="457" y="677" width="1" height="6" fill="#c0c0c0" />
<rect x="461" y="678" width="1" height="5" fill="#c0c0c0" />
<rect x="465" y="680" width="1" height="3" fill="#c0c0c0" />
<rect x="469" y="681" width="1" height="2" fill="#c0c0c0" />
<rect x="473" y="681" width="1" height="2" fill="#c0c0c0" />
<rect x="485" y="681" width="1" height="2" fill="#c0c0c0" />
<rect x="493" y="682" width="1" height="2" fill="#c0c0c0" />
<rect x="497" y="682" width="1" height="3" fill="#c0c0c0" />
<rect x="501" y="682" width="1" height="4" fill="#c0c0c0" />
<rect x="505" y="682" width="1" height="5" fill="#c0c0c0" />
<rect x="509" y="682" width="1" height="6" fill="#c0c0c0" />
<rect x="513" y="682" width="1" height="8" fill="#c0c0c0" />
<rect x="517" y="682" width="1" height="9" fill="#c0c0c0" />
<rect x="521" y="682" width="1" height="10" fill="#c0c0c0" />
<rect x="525" y="682" width="1" height="12" fill="#c0c0c0" />
<rect x="529" y="682" width="1" height="13" fill="#c0c0c0" />
<rect x="533" y="682" width="1" height="12" fill="#c0c0c0" />
<rect x="537" y="682" width="1" height="10" fill="#c0c0c0" />
<rect x="541" y="682" width="1" height="9" fill="#c0c0c0" />
<rect x="545" y="682" width="1" height="9" fill="#c0c0c0" />
<rect x="549" y="682" width="1" height="9" fill="#c0c0c0" />
<rect x="553" y="682" width="1" height="10" fill="#c0c0c0" />
<rect x="557" y="682" width="1" height="12" fill="#c0c0c0" />
<rect x="561" y="682" width="1" height="13" fill="#c0c0c0" />
<rect x="565" y="682" width="1" height="14" fill="#c0c0c0" />
<rect x="569" y="682" width="1" height="16" fill="#c0c0c0" />
<rect x="573" y="682" width="1" height="17" fill="#c0c0c0" />
<rect x="577" y="682" width="1" height="18" fill="#c0c0c0" />
<rect x="581" y="682" width="1" height="20" fill="#c0c0c0" />
<rect x="585" y="682" width="1" height="22" fill="#c0c0c0" />
<rect x="589" y="682" width="1" height="24" fill="#c0c0c0" />
<rect x="593" y="682" width="1" height="26" fill="#c0c0c0" />
<rect x="597" y="682" width="1" height="27" fill="#c0c0c0" />
<rect x="601" y="682" width="1" height="28" fill="#c0c0c0" />
<rect x="605" y="682" width="1" height="28" fill="#c0c0c0" />
<rect x="609" y="682" width="1" height="27" fill="#c0c0c0" />
<rect x="613" y="682" width="1" height="25" fill="#c0c0c0" />
<rect x="617" y="682" width="1" height="23" fill="#c0c0c0" />
<rect x="621" y="682" width="1" height="21" fill="#c0c0c0" />
<rect x="625" y="682" width="1" height="19" fill="#c0c0c0" />
<rect x="629" y="682" width="1" height="15" fill="#c0c0c0" />
<rect x="633" y="682" width="1" height="10" fill="#c0c0c0" />
<rect x="637" y="682" width="1" height="6" fill="#c0c0c0" />
<rect x="641" y="681" width="1" height="2" fill="#c0c0c0" />
<rect x="645" y="674" width="1" height="9" fill="#c0c0c0" />
<rect x="649" y="670" width="1" height="13" fill="#c0c0c0" />
<rect x="653" y="666" width="1" height="17" fill="#c0c0c0" />
<rect x="657" y="659" width="1" height="24" fill="#c0c0c0" />
<rect x="661" y="653" width="1" height="30" fill="#c0c0c0" />
<rect x="665" y="646" width="1" height="37" fill="#c0c0c0" />
<rect x="669" y="644" width="1" height="39" fill="#c0c0c0" />
<rect x="673" y="644" width="1" height="39" fill="#c0c0c0" />
<rect x="677" y="650" width="1" height="33" fill="#c0c0c0" />
<rect x="681" y="656" width="1" height="27" fill="#c0c0c0" />
<rect x="685" y="661" width="1" height="22" fill="#c0c0c0" />
<rect x="689" y="663" width="1" height="20" fill="#c0c0c0" />
<rect x="693" y="670" width="1" height="13" fill="#c0c0c0" />
<rect x="697" y="680" width="1" height="3" fill="#c0c0c0" />
<rect x="701" y="682" width="1" height="9" fill="#c0c0c0" />
<rect x="705" y="682" width="1" height="18" fill="#c0c0c0" />
<rect x="709" y="682" width="1" height="28" fill="#c0c0c0" />
<rect x="713" y="682" width="1" height="31" fill="#c0c0c0" />
<rect x="717" y="682" width="1" height="31" fill="#c0c0c0" />
<rect x="721" y="682" width="1" height="31" fill="#c0c0c0" />
<rect x="725" y="682" width="1" height="23" fill="#c0c0c0" />
<rect x="729" y="682" width="1" height="16" fill="#c0c0c0" />
<rect x="733" y="682" width="1" height="9" fill="#c0c0c0" />
<rect x="737" y="682" width="1" height="6" fill="#c0c0c0" />
<rect x="741" y="682" width="1" height="5" fill="#c0c0c0" />
<rect x="745" y="682" width="1" height="5" fill="#c0c0c0" />
<rect x="749" y="682" width="1" height="8" fill="#c0c0c0" />
<rect x="753" y="682" width="1" height="12" fill="#c0c0c0" />
<rect x="757" y="682" width="1" height="14" fill="#c0c0c0" />
<rect x="761" y="682" width="1" height="16" fill="#c0c0c0" />
<rect x="765" y="682" width="1" height="15" fill="#c0c0c0" />
<rect x="769" y="682" width="1" height="15" fill="#c0c0c0" />
<rect x="773" y="682" width="1" height="12" fill="#c0c0c0" />
<rect x="777" y="682" width="1" height="10" fill="#c0c0c0" />
<rect x="781" y="682" width="1" height="8" fill="#c0c0c0" />
<rect x="785" y="682" width="1" height="8" fill="#c0c0c0" />
<rect x="789" y="682" width="1" height="5" fill="#c0c0c0" />
<rect x="793" y="682" width="1" height="5" fill="#c0c0c0" />
<rect x="797" y="682" width="1" height="7" fill="#c0c0c0" />
<rect x="801" y="682" width="1" height="8" fill="#c0c0c0" />
<rect x="805" y="682" width="1" height="8" fill="#c0c0c0" />
<rect x="809" y="682" width="1" height="8" fill="#c0c0c0" />
<rect x="813" y="682" width="1" height="9" fill="#c0c0c0" />
<rect x="817" y="682" width="1" height="10" fill="#c0c0c0" />
<rect x="821" y="682" width="1" height="12" fill="#c0c0c0" />
<rect x="825" y="682" width="1" height="13" fill="#c0c0c0" />
<rect x="829" y="682" width="1" height="14" fill="#c0c0c0" />
<rect x="833" y="682" width="1" height="13" fill="#c0c0c0" />
<rect x="837" y="682" width="1" height="12" fill="#c0c0c0" />
<rect x="841" y="682" width="1" height="11" fill="#c0c0c0" />
<rect x="845" y="682" width="1" height="8" fill="#c0c0c0" />
<rect x="849" y="682" width="1" height="4" fill="#c0c0c0" />
<rect x="861" y="682" width="1" height="2" fill="#c0c0c0" />
<rect x="865" y="682" width="1" height="3" fill="#c0c0c0" />
<rect x="869" y="682" width="1" height="5" fill="#c0c0c0" />
<rect x="873" y="682" width="1" height="5" fill="#c0c0c0" />
<rect x="877" y="682" width="1" height="6" fill="#c0c0c0" />
<rect x="881" y="682" width="1" height="6" fill="#c0c0c0" />
<rect x="885" y="682" width="1" height="6" fill="#c0c0c0" />
<rect x="889" y="682" width="1" height="6" fill="#c0c0c0" />
<rect x="893" y="682" width="1" height="8" fill="#c0c0c0" />
<rect x="897" y="682" width="1" height="8" fill="#c0c0c0" />
<rect x="901" y="682" width="1" height="8" fill="#c0c0c0" />
<rect x="905" y="682" width="1" height="6" fill="#c0c0c0" />
<rect x="909" y="682" width="1" height="3" fill="#c0c0c0" />
<rect x="913" y="681" width="1" height="2" fill="#c0c0c0" />
<rect x="917" y="679" width="1" height="4" fill="#c0c0c0" />
<rect x="921" y="679" width="1" height="4" fill="#c0c0c0" />
<rect x="925" y="679" width="1" height="4" fill="#c0c0c0" />
<rect x="929" y="679" width="1" height="4" fill="#c0c0c0" />
<rect x="933" y="677" width="1" height="6" fill="#c0c0c0" />
<rect x="937" y="676" width="1" height="7" fill="#c0c0c0" />
<rect x="941" y="672" width="1" height="11" fill="#c0c0c0" />
<rect x="945" y="667" width="1" height="16" fill="#c0c0c0" />
<rect x="949" y="664" width="1" height="19" fill="#c0c0c0" />
<rect x="953" y="662" width="1" height="21" fill="#c0c0c0" />
<rect x="957" y="658" width="1" height="25" fill="#c0c0c0" />
<rect x="961" y="654" width="1" height="29" fill="#c0c0c0" />
<rect x="965" y="648" width="1" height="35" fill="#c0c0c0" />
<rect x="969" y="645" width="1" height="38" fill="#c0c0c0" />
<rect x="973" y="643" width="1" height="40" fill="#c0c0c0" />
<rect x="977" y="642" width="1" height="41" fill="#c0c0c0" />
<rect x="981" y="639" width="1" height="44" fill="#c0c0c0" />
<rect x="985" y="638" width="1" height="45" fill="#c0c0c0" />
<rect x="989" y="637" width="1" height="46" fill="#c0c0c0" />
<rect x="993" y="640" width="1" height="43" fill="#c0c0c0" />
<rect x="997" y="644" width="1" height="39" fill="#c0c0c0" />
<rect x="1001" y="646" width="1" height="37" fill="#c0c0c0" />
<rect x="1005" y="649" width="1" height="34" fill="#c0c0c0" />
<rect x="1009" y="652" width="1" height="31" fill="#c0c0c0" />
<rect x="1013" y="656" width="1" height="27" fill="#c0c0c0" />
<rect x="1017" y="659" width="1" height="24" fill="#c0c0c0" />
<rect x="1021" y="662" width="1" height="21" fill="#c0c0c0" />
<rect x="1025" y="663" width="1" height="20" fill="#c0c0c0" />
<rect x="1029" y="662" width="1" height="21" fill="#c0c0c0" />
<rect x="1033" y="663" width="1" height="20" fill="#c0c0c0" />
<rect x="1037" y="665" width="1" height="18" fill="#c0c0c0" />
<rect x="1041" y="667" width="1" height="16" fill="#c0c0c0" />
<rect x="1045" y="669" width="1" height="14" fill="#c0c0c0" />
<rect x="1049" y="670" width="1" height="13" fill="#c0c0c0" />
<rect x="1053" y="671" width="1" height="12" fill="#c0c0c0" />
<rect x="1057" y="671" width="1" height="12" fill="#c0c0c0" />
<rect x="1061" y="672" width="1" height="11" fill="#c0c0c0" />
<rect x="1065" y="673" width="1" height="10" fill="#c0c0c0" />
<rect x="1069" y="674" width="1" height="9" fill="#c0c0c0" />
<rect x="1073" y="672" width="1" height="11" fill="#c0c0c0" />
<rect x="1077" y="671" width="1" height="12" fill="#c0c0c0" />
<rect x="1081" y="671" width="1" height="12" fill="#c0c0c0" />
<rect x="1085" y="670" width="1" height="13" fill="#c0c0c0" />
<rect x="1089" y="671" width="1" height="12" fill="#c0c0c0" />
<rect x="1093" y="670" width="1" height="13" fill="#c0c0c0" />
<rect x="1097" y="669" width="1" height="14" fill="#c0c0c0" />
<rect x="1101" y="667" width="1" height="16" fill="#c0c0c0" />
<rect x="1105" y="665" width="1" height="18" fill="#c0c0c0" />
<rect x="1109" y="663" width="1" height="20" fill="#c0c0c0" />
<rect x="1113" y="662" width="1" height="21" fill="#c0c0c0" />
<rect x="1117" y="661" width="1" height="22" fill="#c0c0c0" />
<rect x="1121" y="660" width="1" height="23" fill="#c0c0c0" />
<rect x="1125" y="659" width="1" height="24" fill="#c0c0c0" />
<rect x="1129" y="655" width="1" height="28" fill="#c0c0c0" />
<rect x="1133" y="651" width="1" height="32" fill="#c0c0c0" />
<rect x="1137" y="648" width="1" height="35" fill="#c0c0c0" />
<rect x="1141" y="646" width="1" height="37" fill="#c0c0c0" />
<rect x="1145" y="641" width="1" height="42" fill="#c0c0c0" />
<rect x="1149" y="639" width="1" height="44" fill="#c0c0c0" />
<rect x="1153" y="636" width="1" height="47" fill="#c0c0c0" />
<rect x="1157" y="634" width="1" height="49" fill="#c0c0c0" />
<rect x="1161" y="632" width="1" height="51" fill="#c0c0c0" />
<rect x="1165" y="632" width="1" height="51" fill="#c0c0c0" />
<rect x="1169" y="633" width="1" height="50" fill="#c0c0c0" />
<rect x="1173" y="635" width="1" height="48" fill="#c0c0c0" />
<rect x="1177" y="632" width="1" height="51" fill="#c0c0c0" />
<rect x="1181" y="633" width="1" height="50" fill="#c0c0c0" />
<rect x="1185" y="636" width="1" height="47" fill="#c0c0c0" />
<rect x="1189" y="638" width="1" height="45" fill="#c0c0c0" />
<rect x="1193" y="642" width="1" height="41" fill="#c0c0c0" />
<rect x="1197" y="645" width="1" height="38" fill="#c0c0c0" />
<rect x="1201" y="646" width="1" height="37" fill="#c0c0c0" />
<rect x="1205" y="647" width="1" height="36" fill="#c0c0c0" />
<rect x="1209" y="648" width="1" height="35" fill="#c0c0c0" />
<rect x="1213" y="649" width="1" height="34" fill="#c0c0c0" />
<rect x="1217" y="649" width="1" height="34" fill="#c0c0c0" />
<rect x="1221" y="648" width="1" height="35" fill="#c0c0c0" />
<rect x="1225" y="648" width="1" height="35" fill="#c0c0c0" />
<rect x="1229" y="650" width="1" height="33" fill="#c0c0c0" />
<rect x="1233" y="654" width="1" height="29" fill="#c0c0c0" />
<rect x="1237" y="658" width="1" height="25" fill="#c0c0c0" />
<rect x="1241" y="660" width="1" height="23" fill="#c0c0c0" />
<rect x="1245" y="662" width="1" height="21" fill="#c0c0c0" />
<rect x="1249" y="664" width="1" height="19" fill="#c0c0c0" />
<rect x="1253" y="665" width="1" height="18" fill="#c0c0c0" />
<rect x="1257" y="664" width="1" height="19" fill="#c0c0c0" />
<rect x="1261" y="663" width="1" height="20" fill="#c0c0c0" />
<rect x="1265" y="662" width="1" height="21" fill="#c0c0c0" />
<rect x="1269" y="661" width="1" height="22" fill="#c0c0c0" />
<path d="M1182 633h3v1h-3zM1188 633h3v1h-3zM1177 634h2v1h-2zM1194 634h2v1h-2zM1176 635h1v1h-1zM1196 635h1v1h-1zM1171 636h2v1h-2zM1200 636h2v1h-2zM1170 637h1v1h-1zM1202 637h1v1h-1zM1166 638h1v1h-1zM1206 638h1v1h-1zM1164 639h2v1h-2zM1207 639h2v1h-2zM1002 640h2v1h-2zM996 641h3v1h-3zM1004 641h1v1h-1zM1008 641h2v1h-2zM1212 641h1v1h-1zM992 642h1v1h-1zM1010 642h1v1h-1zM1160 642h1v1h-1zM1213 642h2v1h-2zM990 643h2v1h-2zM1014 643h1v1h-1zM1158 643h2v1h-2zM1015 644h2v1h-2zM1218 644h3v1h-3zM986 645h1v1h-1zM985 646h1v1h-1zM1154 646h1v1h-1zM1224 646h3v1h-3zM984 647h1v1h-1zM1020 647h1v1h-1zM1153 647h1v1h-1zM1230 647h2v1h-2zM1021 648h2v1h-2zM1152 648h1v1h-1zM1232 648h1v1h-1zM1236 649h3v1h-3zM980 650h1v1h-1zM979 651h1v1h-1zM1026 651h1v1h-1zM1147 651h2v1h-2zM1242 651h3v1h-3zM683 652h2v1h-2zM688 652h3v1h-3zM978 652h1v1h-1zM1027 652h2v1h-2zM1146 652h1v1h-1zM678 653h1v1h-1zM682 653h1v1h-1zM694 653h1v1h-1zM1248 653h1v1h-1zM677 654h1v1h-1zM695 654h1v1h-1zM1142 654h1v1h-1zM1249 654h2v1h-2zM677 655h1v1h-1zM696 655h1v1h-1zM974 655h1v1h-1zM1032 655h2v1h-2zM1140 655h2v1h-2zM1254 655h1v1h-1zM973 656h1v1h-1zM1034 656h1v1h-1zM1255 656h2v1h-2zM972 657h1v1h-1zM1136 657h1v1h-1zM1260 657h2v1h-2zM1038 658h2v1h-2zM1134 658h2v1h-2zM1262 658h1v1h-1zM673 659h1v1h-1zM699 659h1v1h-1zM1040 659h1v1h-1zM1266 659h1v1h-1zM672 660h1v1h-1zM700 660h1v1h-1zM968 660h1v1h-1zM1044 660h1v1h-1zM1130 660h1v1h-1zM1267 660h1v1h-1zM672 661h1v1h-1zM700 661h1v1h-1zM967 661h1v1h-1zM1045 661h2v1h-2zM1128 661h2v1h-2zM1268 661h1v1h-1zM966 662h1v1h-1zM1050 663h2v1h-2zM1122 663h3v1h-3zM1052 664h1v1h-1zM1118 664h1v1h-1zM669 665h1v1h-1zM703 665h1v1h-1zM1056 665h1v1h-1zM1116 665h2v1h-2zM668 666h1v1h-1zM704 666h1v1h-1zM962 666h2v1h-2zM1057 666h2v1h-2zM1111 666h2v1h-2zM667 667h1v1h-1zM704 667h1v1h-1zM961 667h1v1h-1zM1062 667h2v1h-2zM1110 667h1v1h-1zM1064 668h1v1h-1zM1068 668h1v1h-1zM1106 668h1v1h-1zM1069 669h2v1h-2zM1104 669h2v1h-2zM210 670h2v1h-2zM215 670h3v1h-3zM221 670h3v1h-3zM956 670h2v1h-2zM1074 670h3v1h-3zM1080 670h2v1h-2zM1092 670h3v1h-3zM1098 670h3v1h-3zM203 671h3v1h-3zM209 671h1v1h-1zM227 671h3v1h-3zM233 671h3v1h-3zM239 671h3v1h-3zM450 671h2v1h-2zM455 671h3v1h-3zM664 671h1v1h-1zM707 671h1v1h-1zM955 671h1v1h-1zM1082 671h1v1h-1zM1086 671h3v1h-3zM199 672h1v1h-1zM245 672h3v1h-3zM449 672h1v1h-1zM461 672h3v1h-3zM664 672h1v1h-1zM707 672h1v1h-1zM197 673h2v1h-2zM251 673h3v1h-3zM443 673h3v1h-3zM467 673h2v1h-2zM663 673h1v1h-1zM708 673h1v1h-1zM950 673h2v1h-2zM193 674h1v1h-1zM438 674h2v1h-2zM469 674h1v1h-1zM949 674h1v1h-1zM191 675h2v1h-2zM257 675h2v1h-2zM397 675h1v1h-1zM401 675h3v1h-3zM437 675h1v1h-1zM473 675h3v1h-3zM259 676h1v1h-1zM389 676h3v1h-3zM395 676h2v1h-2zM407 676h3v1h-3zM413 676h3v1h-3zM419 676h3v1h-3zM425 676h3v1h-3zM431 676h3v1h-3zM479 676h1v1h-1zM944 676h2v1h-2zM186 677h2v1h-2zM383 677h3v1h-3zM480 677h2v1h-2zM660 677h1v1h-1zM710 677h1v1h-1zM943 677h1v1h-1zM185 678h1v1h-1zM263 678h3v1h-3zM485 678h3v1h-3zM659 678h1v1h-1zM710 678h1v1h-1zM377 679h3v1h-3zM491 679h2v1h-2zM658 679h1v1h-1zM711 679h1v1h-1zM938 679h2v1h-2zM180 680h2v1h-2zM371 680h3v1h-3zM493 680h1v1h-1zM937 680h1v1h-1zM179 681h1v1h-1zM269 681h2v1h-2zM365 681h3v1h-3zM497 681h3v1h-3zM933 681h1v1h-1zM271 682h1v1h-1zM359 682h3v1h-3zM503 682h3v1h-3zM931 682h2v1h-2zM174 683h2v1h-2zM275 683h2v1h-2zM355 683h1v1h-1zM509 683h3v1h-3zM655 683h1v1h-1zM713 683h1v1h-1zM173 684h1v1h-1zM277 684h1v1h-1zM353 684h2v1h-2zM515 684h1v1h-1zM654 684h1v1h-1zM714 684h1v1h-1zM926 684h2v1h-2zM169 685h1v1h-1zM281 685h3v1h-3zM299 685h3v1h-3zM305 685h3v1h-3zM311 685h3v1h-3zM347 685h3v1h-3zM516 685h2v1h-2zM653 685h1v1h-1zM715 685h1v1h-1zM877 685h3v1h-3zM883 685h3v1h-3zM919 685h3v1h-3zM925 685h1v1h-1zM167 686h2v1h-2zM287 686h3v1h-3zM293 686h3v1h-3zM317 686h3v1h-3zM323 686h3v1h-3zM335 686h3v1h-3zM341 686h3v1h-3zM521 686h1v1h-1zM867 686h1v1h-1zM871 686h3v1h-3zM889 686h3v1h-3zM914 686h2v1h-2zM329 687h3v1h-3zM522 687h2v1h-2zM865 687h2v1h-2zM895 687h1v1h-1zM913 687h1v1h-1zM161 688h3v1h-3zM859 688h3v1h-3zM896 688h2v1h-2zM901 688h3v1h-3zM907 688h3v1h-3zM83 689h3v1h-3zM89 689h3v1h-3zM95 689h3v1h-3zM101 689h3v1h-3zM527 689h3v1h-3zM649 689h1v1h-1zM718 689h1v1h-1zM811 689h3v1h-3zM817 689h3v1h-3zM77 690h3v1h-3zM107 690h1v1h-1zM155 690h3v1h-3zM533 690h2v1h-2zM648 690h1v1h-1zM719 690h1v1h-1zM805 690h3v1h-3zM823 690h3v1h-3zM855 690h1v1h-1zM5 691h3v1h-3zM71 691h3v1h-3zM108 691h2v1h-2zM151 691h1v1h-1zM535 691h1v1h-1zM539 691h3v1h-3zM647 691h1v1h-1zM720 691h1v1h-1zM799 691h3v1h-3zM829 691h3v1h-3zM853 691h2v1h-2zM11 692h3v1h-3zM65 692h3v1h-3zM113 692h3v1h-3zM149 692h2v1h-2zM545 692h3v1h-3zM551 692h3v1h-3zM557 692h3v1h-3zM563 692h3v1h-3zM569 692h3v1h-3zM759 692h1v1h-1zM763 692h3v1h-3zM795 692h1v1h-1zM835 692h3v1h-3zM847 692h3v1h-3zM17 693h3v1h-3zM119 693h3v1h-3zM143 693h3v1h-3zM575 693h3v1h-3zM757 693h2v1h-2zM769 693h3v1h-3zM775 693h3v1h-3zM793 693h2v1h-2zM841 693h3v1h-3zM59 694h3v1h-3zM125 694h3v1h-3zM131 694h3v1h-3zM137 694h3v1h-3zM753 694h1v1h-1zM781 694h3v1h-3zM787 694h3v1h-3zM23 695h3v1h-3zM55 695h1v1h-1zM581 695h2v1h-2zM644 695h1v1h-1zM722 695h1v1h-1zM751 695h2v1h-2zM29 696h1v1h-1zM53 696h2v1h-2zM583 696h1v1h-1zM643 696h1v1h-1zM723 696h1v1h-1zM30 697h2v1h-2zM35 697h1v1h-1zM47 697h3v1h-3zM587 697h1v1h-1zM642 697h1v1h-1zM724 697h1v1h-1zM36 698h2v1h-2zM41 698h3v1h-3zM588 698h2v1h-2zM746 698h2v1h-2zM745 699h1v1h-1zM593 700h2v1h-2zM637 700h1v1h-1zM727 700h1v1h-1zM595 701h1v1h-1zM635 701h2v1h-2zM728 701h1v1h-1zM740 701h2v1h-2zM599 702h1v1h-1zM729 702h1v1h-1zM739 702h1v1h-1zM600 703h2v1h-2zM631 703h1v1h-1zM733 703h3v1h-3zM629 704h2v1h-2zM605 705h3v1h-3zM611 706h3v1h-3zM617 706h3v1h-3zM623 706h3v1h-3z" fill="#ff0000"/>
<text x="9.3" y="638" font-size="9.8" fill="#000" text-anchor="start" font-weight="normal" textLength="64.8" lengthAdjust="spacingAndGlyphs" stroke="#000" stroke-width="0.18" >MACD(12,26,9)</text>
<text x="78.2" y="638" font-size="9.8" fill="#000" text-anchor="start" font-weight="normal" textLength="36.8" lengthAdjust="spacingAndGlyphs" stroke="#000" stroke-width="0.18" >0.005882</text>
<text x="119.2" y="638" font-size="9.8" fill="#000" text-anchor="start" font-weight="normal" textLength="37.8" lengthAdjust="spacingAndGlyphs" stroke="#000" stroke-width="0.18" >0.005518</text>
<text x="1601" y="636" font-size="9.8" fill="#000" text-anchor="start" font-weight="normal" textLength="37.8" lengthAdjust="spacingAndGlyphs" stroke="#000" stroke-width="0.18" >0.014556</text>
<text x="1601.2" y="686" font-size="9.8" fill="#000" text-anchor="start" font-weight="normal" textLength="18" lengthAdjust="spacingAndGlyphs" stroke="#000" stroke-width="0.18" >0.00</text>
<text x="1601.2" y="714" font-size="9.8" fill="#000" text-anchor="start" font-weight="normal" textLength="41.5" lengthAdjust="spacingAndGlyphs" stroke="#000" stroke-width="0.18" >-0.009001</text>
<rect x="1598" y="682" width="1" height="1" fill="#000" />
<rect x="1598" y="716" width="1" height="1" fill="#000" />
<rect x="5" y="718" width="1" height="3" fill="#000" />
<text x="4.5" y="730" font-size="9.8" fill="#000" text-anchor="start" font-weight="normal" textLength="52.7838" lengthAdjust="spacingAndGlyphs" stroke="#000" stroke-width="0.18" >29 Aug 2019</text>
<rect x="69" y="718" width="1" height="3" fill="#000" />
<text x="68.5" y="730" font-size="9.8" fill="#000" text-anchor="start" font-weight="normal" textLength="53.3021" lengthAdjust="spacingAndGlyphs" stroke="#000" stroke-width="0.18" >17 Sep 2019</text>
<rect x="133" y="718" width="1" height="3" fill="#000" />
<text x="132.5" y="730" font-size="9.8" fill="#000" text-anchor="start" font-weight="normal" textLength="45.9743" lengthAdjust="spacingAndGlyphs" stroke="#000" stroke-width="0.18" >5 Oct 2019</text>
<rect x="197" y="718" width="1" height="3" fill="#000" />
<text x="196.5" y="730" font-size="9.8" fill="#000" text-anchor="start" font-weight="normal" textLength="51.2007" lengthAdjust="spacingAndGlyphs" stroke="#000" stroke-width="0.18" >24 Oct 2019</text>
<rect x="261" y="718" width="1" height="3" fill="#000" />
<text x="260.5" y="730" font-size="9.8" fill="#000" text-anchor="start" font-weight="normal" textLength="53.2933" lengthAdjust="spacingAndGlyphs" stroke="#000" stroke-width="0.18" >12 Nov 2019</text>
<rect x="325" y="718" width="1" height="3" fill="#000" />
<text x="324.5" y="730" font-size="9.8" fill="#000" text-anchor="start" font-weight="normal" textLength="53.2933" lengthAdjust="spacingAndGlyphs" stroke="#000" stroke-width="0.18" >30 Nov 2019</text>
<rect x="389" y="718" width="1" height="3" fill="#000" />
<text x="388.5" y="730" font-size="9.8" fill="#000" text-anchor="start" font-weight="normal" textLength="53.2933" lengthAdjust="spacingAndGlyphs" stroke="#000" stroke-width="0.18" >19 Dec 2019</text>
<rect x="453" y="718" width="1" height="3" fill="#000" />
<text x="452.5" y="730" font-size="9.8" fill="#000" text-anchor="start" font-weight="normal" textLength="46.5059" lengthAdjust="spacingAndGlyphs" stroke="#000" stroke-width="0.18" >7 Jan 2020</text>
<rect x="517" y="718" width="1" height="3" fill="#000" />
<text x="516.5" y="730" font-size="9.8" fill="#000" text-anchor="start" font-weight="normal" textLength="51.7323" lengthAdjust="spacingAndGlyphs" stroke="#000" stroke-width="0.18" >25 Jan 2020</text>
<rect x="581" y="718" width="1" height="3" fill="#000" />
<text x="580.5" y="730" font-size="9.8" fill="#000" text-anchor="start" font-weight="normal" textLength="52.7735" lengthAdjust="spacingAndGlyphs" stroke="#000" stroke-width="0.18" >13 Feb 2020</text>
<rect x="645" y="718" width="1" height="3" fill="#000" />
<text x="644.5" y="730" font-size="9.8" fill="#000" text-anchor="start" font-weight="normal" textLength="47.5383" lengthAdjust="spacingAndGlyphs" stroke="#000" stroke-width="0.18" >3 Mar 2020</text>
<rect x="709" y="718" width="1" height="3" fill="#000" />
<text x="708.5" y="730" font-size="9.8" fill="#000" text-anchor="start" font-weight="normal" textLength="52.7647" lengthAdjust="spacingAndGlyphs" stroke="#000" stroke-width="0.18" >21 Mar 2020</text>
<rect x="773" y="718" width="1" height="3" fill="#000" />
<text x="772.5" y="730" font-size="9.8" fill="#000" text-anchor="start" font-weight="normal" textLength="45.4604" lengthAdjust="spacingAndGlyphs" stroke="#000" stroke-width="0.18" >9 Apr 2020</text>
<rect x="837" y="718" width="1" height="3" fill="#000" />
<text x="836.5" y="730" font-size="9.8" fill="#000" text-anchor="start" font-weight="normal" textLength="50.6867" lengthAdjust="spacingAndGlyphs" stroke="#000" stroke-width="0.18" >28 Apr 2020</text>
<rect x="901" y="718" width="1" height="3" fill="#000" />
<text x="900.5" y="730" font-size="9.8" fill="#000" text-anchor="start" font-weight="normal" textLength="54.3345" lengthAdjust="spacingAndGlyphs" stroke="#000" stroke-width="0.18" >16 May 2020</text>
<rect x="965" y="718" width="1" height="3" fill="#000" />
<text x="964.5" y="730" font-size="9.8" fill="#000" text-anchor="start" font-weight="normal" textLength="46.5059" lengthAdjust="spacingAndGlyphs" stroke="#000" stroke-width="0.18" >4 Jun 2020</text>
<rect x="1029" y="718" width="1" height="3" fill="#000" />
<text x="1028.5" y="730" font-size="9.8" fill="#000" text-anchor="start" font-weight="normal" textLength="51.7323" lengthAdjust="spacingAndGlyphs" stroke="#000" stroke-width="0.18" >23 Jun 2020</text>
<rect x="1093" y="718" width="1" height="3" fill="#000" />
<text x="1092.5" y="730" font-size="9.8" fill="#000" text-anchor="start" font-weight="normal" textLength="47.8966" lengthAdjust="spacingAndGlyphs" stroke="#000" stroke-width="0.18" >11 Jul 2020</text>
<rect x="1157" y="718" width="1" height="3" fill="#000" />
<text x="1156.5" y="730" font-size="9.8" fill="#000" text-anchor="start" font-weight="normal" textLength="48.5941" lengthAdjust="spacingAndGlyphs" stroke="#000" stroke-width="0.18" >30 Jul 2020</text>
<rect x="1221" y="718" width="1" height="3" fill="#000" />
<text x="1220.5" y="730" font-size="9.8" fill="#000" text-anchor="start" font-weight="normal" textLength="52.7838" lengthAdjust="spacingAndGlyphs" stroke="#000" stroke-width="0.18" >18 Aug 2020</text>
<rect x="0" y="740" width="1640" height="1" fill="#000" />
<rect x="110" y="741" width="1530" height="1" fill="#fafafa" />
<rect x="110" y="741" width="1" height="18" fill="#fafafa" />
<rect x="0" y="741" width="2" height="20" fill="#a0a0a0" />
<rect x="2" y="741" width="1" height="20" fill="#fafafa" />
<rect x="7" y="739" width="102" height="19" fill="#ffffff" />
<rect x="6" y="740" width="1" height="19" fill="#000" />
<rect x="109" y="740" width="1" height="19" fill="#000" />
<rect x="6" y="758" width="104" height="1" fill="#000" />
<text x="18.6" y="754.8" font-size="12" fill="#000" text-anchor="start" font-weight="normal" textLength="79.3" lengthAdjust="spacingAndGlyphs" stroke="#000" stroke-width="0.18" >EURUSD,Daily</text>
<text x="120" y="754.8" font-size="12" fill="#7a7a7a" text-anchor="start" font-weight="normal" textLength="79" lengthAdjust="spacingAndGlyphs" stroke="#7a7a7a" stroke-width="0.18" >USDCHF,Daily</text>
<text x="221.5" y="754.8" font-size="12" fill="#7a7a7a" text-anchor="start" font-weight="normal" textLength="82.2" lengthAdjust="spacingAndGlyphs" stroke="#7a7a7a" stroke-width="0.18" >AUDUSD,Daily</text>
<text x="325.5" y="754.8" font-size="12" fill="#7a7a7a" text-anchor="start" font-weight="normal" textLength="80.5" lengthAdjust="spacingAndGlyphs" stroke="#7a7a7a" stroke-width="0.18" >USDCAD,Daily</text>
<text x="428.9" y="754.8" font-size="12" fill="#7a7a7a" text-anchor="start" font-weight="normal" textLength="82.1" lengthAdjust="spacingAndGlyphs" stroke="#7a7a7a" stroke-width="0.18" >USDCNH,Daily</text>
<text x="534.2" y="754.8" font-size="12" fill="#7a7a7a" text-anchor="start" font-weight="normal" textLength="79.8" lengthAdjust="spacingAndGlyphs" stroke="#7a7a7a" stroke-width="0.18" >EURUSD,Daily</text>
<text x="638" y="754.8" font-size="12" fill="#7a7a7a" text-anchor="start" font-weight="normal" textLength="67.7" lengthAdjust="spacingAndGlyphs" stroke="#7a7a7a" stroke-width="0.18" >GBPUSD,H4</text>
<text x="729" y="754.8" font-size="12" fill="#7a7a7a" text-anchor="start" font-weight="normal" textLength="68.6" lengthAdjust="spacingAndGlyphs" stroke="#7a7a7a" stroke-width="0.18" >XAUUSD,H1</text>
<text x="821.5" y="754.8" font-size="12" fill="#7a7a7a" text-anchor="start" font-weight="normal" textLength="49.3" lengthAdjust="spacingAndGlyphs" stroke="#7a7a7a" stroke-width="0.18" >HK50,H1</text>
<text x="893" y="754.8" font-size="12" fill="#7a7a7a" text-anchor="start" font-weight="normal" textLength="56.7" lengthAdjust="spacingAndGlyphs" stroke="#7a7a7a" stroke-width="0.18" >UK100,H1</text>
<text x="973" y="754.8" font-size="12" fill="#7a7a7a" text-anchor="start" font-weight="normal" textLength="56.5" lengthAdjust="spacingAndGlyphs" stroke="#7a7a7a" stroke-width="0.18" >UK100,H1</text>
<text x="1052.8" y="754.8" font-size="12" fill="#7a7a7a" text-anchor="start" font-weight="normal" textLength="56.7" lengthAdjust="spacingAndGlyphs" stroke="#7a7a7a" stroke-width="0.18" >GER30,H1</text>
<text x="1132" y="754.8" font-size="12" fill="#7a7a7a" text-anchor="start" font-weight="normal" textLength="54.4" lengthAdjust="spacingAndGlyphs" stroke="#7a7a7a" stroke-width="0.18" >FRA40,H1</text>
<text x="1208.3" y="754.8" font-size="12" fill="#7a7a7a" text-anchor="start" font-weight="normal" textLength="50.5" lengthAdjust="spacingAndGlyphs" stroke="#7a7a7a" stroke-width="0.18" >USOil,H4</text>
<text x="1280.4" y="754.8" font-size="12" fill="#7a7a7a" text-anchor="start" font-weight="normal" textLength="62.6" lengthAdjust="spacingAndGlyphs" stroke="#7a7a7a" stroke-width="0.18" >USDJPY,H1</text>
<text x="1364.5" y="754.8" font-size="12" fill="#7a7a7a" text-anchor="start" font-weight="normal" textLength="58.5" lengthAdjust="spacingAndGlyphs" stroke="#7a7a7a" stroke-width="0.18" >DJ30,Daily</text>
<text x="1444.3" y="754.8" font-size="12" fill="#7a7a7a" text-anchor="start" font-weight="normal" textLength="78.7" lengthAdjust="spacingAndGlyphs" stroke="#7a7a7a" stroke-width="0.18" >CHINA300,H1</text>
<text x="1544" y="754.8" font-size="12" fill="#7a7a7a" text-anchor="start" font-weight="normal" textLength="50.3" lengthAdjust="spacingAndGlyphs" stroke="#7a7a7a" stroke-width="0.18" >USOil,H1</text>
<rect x="210" y="743" width="1" height="14" fill="#707070" />
<rect x="314" y="743" width="1" height="14" fill="#707070" />
<rect x="418" y="743" width="1" height="14" fill="#707070" />
<rect x="522" y="743" width="1" height="14" fill="#707070" />
<rect x="626" y="743" width="1" height="14" fill="#707070" />
<rect x="718" y="743" width="1" height="14" fill="#707070" />
<rect x="811" y="743" width="1" height="14" fill="#707070" />
<rect x="882" y="743" width="1" height="14" fill="#707070" />
<rect x="962" y="743" width="1" height="14" fill="#707070" />
<rect x="1043" y="743" width="1" height="14" fill="#707070" />
<rect x="1122" y="743" width="1" height="14" fill="#707070" />
<rect x="1198" y="743" width="1" height="14" fill="#707070" />
<rect x="1270" y="743" width="1" height="14" fill="#707070" />
<rect x="1354" y="743" width="1" height="14" fill="#707070" />
<rect x="1434" y="743" width="1" height="14" fill="#707070" />
<rect x="1534" y="743" width="1" height="14" fill="#707070" />
<rect x="1606" y="743" width="1" height="14" fill="#707070" />
<path d="M1617 745.5 v7 l-4 -3.5 z" fill="#a0a0a0"/>
<path d="M1631 745.5 v7 l4 -3.5 z" fill="#000"/>
</svg>
</body></html>
